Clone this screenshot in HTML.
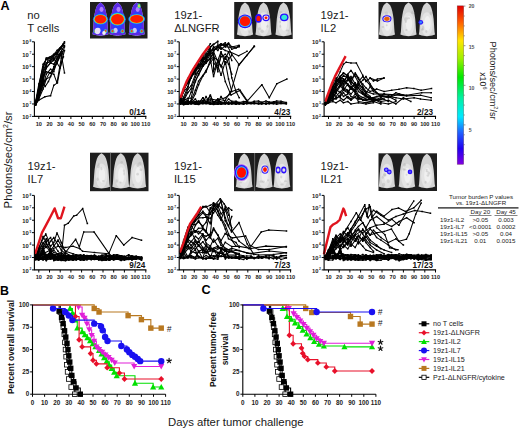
<!DOCTYPE html>
<html><head><meta charset="utf-8"><style>
html,body{margin:0;padding:0;background:#fff;}
svg{display:block;}
text{font-family:"Liberation Sans", sans-serif;}
.tl{font-size:5.6px;font-weight:bold;fill:#222;}
.ts{font-size:3.3px;font-weight:bold;fill:#222;}
.ty{font-size:5.8px;font-weight:bold;fill:#222;}
.fr{font-size:8.2px;font-weight:bold;fill:#111;}
.ti{font-size:11.2px;fill:#1a1a1a;}
.sl{font-size:6.3px;font-weight:bold;fill:#222;}
.lg{font-size:7.15px;fill:#1a1a1a;}
.tb{font-size:6.2px;fill:#1a1a1a;}
</style></head><body>
<svg width="520" height="430" viewBox="0 0 520 430">
<defs><filter id="bl" x="-5%" y="-5%" width="110%" height="110%"><feGaussianBlur stdDeviation="0.45"/></filter></defs>
<rect width="520" height="430" fill="#fff"/>
<text x="0.5" y="9.6" style="font-size:12.6px;font-weight:bold;fill:#000">A</text>
<text x="0.0" y="294.8" style="font-size:12.4px;font-weight:bold;fill:#000">B</text>
<text x="201.4" y="294.2" style="font-size:12.6px;font-weight:bold;fill:#000">C</text>
<text x="27.2" y="18.5" class="ti">no</text><text x="27.2" y="31.5" class="ti">T cells</text>
<text x="174.3" y="18.5" class="ti">19z1-</text><text x="174.3" y="31.5" class="ti">ΔLNGFR</text>
<text x="320.6" y="18.5" class="ti">19z1-</text><text x="320.6" y="31.5" class="ti">IL2</text>
<text x="27.6" y="169.8" class="ti">19z1-</text><text x="27.6" y="182.8" class="ti">IL7</text>
<text x="174.0" y="169.8" class="ti">19z1-</text><text x="174.0" y="182.8" class="ti">IL15</text>
<text x="320.6" y="169.8" class="ti">19z1-</text><text x="320.6" y="182.8" class="ti">IL21</text>
<rect x="90" y="2" width="57.5" height="36.5" fill="#1e1e1e"/>
<g filter="url(#bl)">
<path d="M100.5,2.5 L102.19,3.63 L103.7,5.33 L104.83,7.68 L105.77,10.97 L106.53,14.74 L107.09,18.51 L107.47,23.22 L107.75,27.93 L108.03,31.69 L108.5,34.14 L105.68,35.08 L102.38,35.55 L100.5,35.74 L98.62,35.55 L95.32,35.08 L92.5,34.14 L92.97,31.69 L93.25,27.93 L93.53,23.22 L93.91,18.51 L94.47,14.74 L95.23,10.97 L96.17,7.68 L97.3,5.33 L98.81,3.63 Z" fill="#d4d4d4"/>
<ellipse cx="100.5" cy="23.9" rx="5.8" ry="11.68" fill="#e4e4e4"/>
<ellipse cx="101" cy="23.17" rx="3.2" ry="7.3" fill="#f0f0f0"/>
<ellipse cx="103.18" cy="15.51" rx="1.55" ry="1.92" fill="#a8a8a8" opacity="0.35"/>
<ellipse cx="98.11" cy="24.42" rx="1.48" ry="1.36" fill="#a8a8a8" opacity="0.35"/>
<ellipse cx="97.86" cy="16.7" rx="1.55" ry="1.75" fill="#a8a8a8" opacity="0.35"/>
<ellipse cx="100.14" cy="13.05" rx="1.61" ry="1.73" fill="#a8a8a8" opacity="0.35"/>
<ellipse cx="98.1" cy="23.82" rx="1.7" ry="1.86" fill="#a8a8a8" opacity="0.35"/>
<path d="M100.5,2.5 L102.19,3.63 L103.7,5.33 L104.83,7.68 L105.77,10.97 L106.53,14.74 L107.09,18.51 L107.47,23.22 L107.75,27.93 L108.03,31.69 L108.5,34.14 L105.68,35.08 L102.38,35.55 L100.5,35.74 L98.62,35.55 L95.32,35.08 L92.5,34.14 L92.97,31.69 L93.25,27.93 L93.53,23.22 L93.91,18.51 L94.47,14.74 L95.23,10.97 L96.17,7.68 L97.3,5.33 L98.81,3.63 Z" fill="#5a2ae6"/><ellipse cx="100.5" cy="22.08" rx="5.2" ry="11" fill="#2a3cff"/><ellipse cx="98.5" cy="30.47" rx="2.2" ry="2.6" fill="#d0c4f4"/><ellipse cx="101.5" cy="9.3" rx="2" ry="2.6" fill="#b080ff"/><ellipse cx="100.5" cy="19.3" rx="7.54" ry="5.46" fill="#2860ff"/><ellipse cx="100.5" cy="19.3" rx="6.79" ry="4.91" fill="#20d8f0"/><ellipse cx="100.5" cy="19.3" rx="6.21" ry="4.49" fill="#c8f000"/><ellipse cx="100.5" cy="19.3" rx="5.8" ry="4.2" fill="#ff1a00"/><ellipse cx="95.5" cy="31.2" rx="1.9" ry="2" fill="#30e0b0"/><ellipse cx="95.5" cy="31.2" rx="1.04" ry="1.1" fill="#ff3010"/><ellipse cx="105.5" cy="31.2" rx="1.9" ry="2" fill="#30e0b0"/><ellipse cx="105.5" cy="31.2" rx="1.04" ry="1.1" fill="#ff3010"/>
<path d="M117.5,2.5 L119.19,3.63 L120.7,5.33 L121.83,7.68 L122.77,10.97 L123.53,14.74 L124.09,18.51 L124.47,23.22 L124.75,27.93 L125.03,31.69 L125.5,34.14 L122.68,35.08 L119.38,35.55 L117.5,35.74 L115.62,35.55 L112.32,35.08 L109.5,34.14 L109.97,31.69 L110.25,27.93 L110.53,23.22 L110.91,18.51 L111.47,14.74 L112.23,10.97 L113.17,7.68 L114.3,5.33 L115.81,3.63 Z" fill="#d4d4d4"/>
<ellipse cx="117.5" cy="23.9" rx="5.8" ry="11.68" fill="#e4e4e4"/>
<ellipse cx="118" cy="23.17" rx="3.2" ry="7.3" fill="#f0f0f0"/>
<ellipse cx="117.7" cy="21.56" rx="1.39" ry="1.03" fill="#a8a8a8" opacity="0.35"/>
<ellipse cx="114.73" cy="15.08" rx="1.5" ry="1.24" fill="#a8a8a8" opacity="0.35"/>
<ellipse cx="118.08" cy="19.94" rx="1.32" ry="0.98" fill="#a8a8a8" opacity="0.35"/>
<ellipse cx="113.4" cy="32.96" rx="1.17" ry="0.93" fill="#a8a8a8" opacity="0.35"/>
<ellipse cx="118.69" cy="28.37" rx="0.96" ry="1.52" fill="#a8a8a8" opacity="0.35"/>
<path d="M117.5,2.5 L119.19,3.63 L120.7,5.33 L121.83,7.68 L122.77,10.97 L123.53,14.74 L124.09,18.51 L124.47,23.22 L124.75,27.93 L125.03,31.69 L125.5,34.14 L122.68,35.08 L119.38,35.55 L117.5,35.74 L115.62,35.55 L112.32,35.08 L109.5,34.14 L109.97,31.69 L110.25,27.93 L110.53,23.22 L110.91,18.51 L111.47,14.74 L112.23,10.97 L113.17,7.68 L114.3,5.33 L115.81,3.63 Z" fill="#5a2ae6"/><ellipse cx="117.5" cy="22.08" rx="5.2" ry="11" fill="#2a3cff"/><ellipse cx="115.5" cy="30.47" rx="2.2" ry="2.6" fill="#d0c4f4"/><ellipse cx="118.5" cy="9.3" rx="2" ry="2.6" fill="#b080ff"/><ellipse cx="117.5" cy="19.2" rx="8.32" ry="6.89" fill="#2860ff"/><ellipse cx="117.5" cy="19.2" rx="7.49" ry="6.2" fill="#20d8f0"/><ellipse cx="117.5" cy="19.2" rx="6.85" ry="5.67" fill="#c8f000"/><ellipse cx="117.5" cy="19.2" rx="6.4" ry="5.3" fill="#ff1a00"/><ellipse cx="112.5" cy="31.2" rx="1.9" ry="2" fill="#30e0b0"/><ellipse cx="112.5" cy="31.2" rx="1.04" ry="1.1" fill="#ff3010"/><ellipse cx="122.5" cy="31.2" rx="1.9" ry="2" fill="#30e0b0"/><ellipse cx="122.5" cy="31.2" rx="1.04" ry="1.1" fill="#ff3010"/>
<path d="M136.7,2.5 L138.39,3.63 L139.9,5.33 L141.03,7.68 L141.97,10.97 L142.73,14.74 L143.29,18.51 L143.67,23.22 L143.95,27.93 L144.23,31.69 L144.7,34.14 L141.88,35.08 L138.58,35.55 L136.7,35.74 L134.82,35.55 L131.52,35.08 L128.7,34.14 L129.17,31.69 L129.45,27.93 L129.73,23.22 L130.11,18.51 L130.67,14.74 L131.43,10.97 L132.37,7.68 L133.5,5.33 L135,3.63 Z" fill="#d4d4d4"/>
<ellipse cx="136.7" cy="23.9" rx="5.8" ry="11.68" fill="#e4e4e4"/>
<ellipse cx="137.2" cy="23.17" rx="3.2" ry="7.3" fill="#f0f0f0"/>
<ellipse cx="135.3" cy="22.5" rx="0.82" ry="0.84" fill="#a8a8a8" opacity="0.35"/>
<ellipse cx="141.11" cy="30.09" rx="1.29" ry="1.48" fill="#a8a8a8" opacity="0.35"/>
<ellipse cx="134.55" cy="28.19" rx="1.23" ry="1.94" fill="#a8a8a8" opacity="0.35"/>
<ellipse cx="139.11" cy="29.06" rx="1.76" ry="1.1" fill="#a8a8a8" opacity="0.35"/>
<ellipse cx="132.54" cy="15.53" rx="0.98" ry="0.9" fill="#a8a8a8" opacity="0.35"/>
<path d="M136.7,2.5 L138.39,3.63 L139.9,5.33 L141.03,7.68 L141.97,10.97 L142.73,14.74 L143.29,18.51 L143.67,23.22 L143.95,27.93 L144.23,31.69 L144.7,34.14 L141.88,35.08 L138.58,35.55 L136.7,35.74 L134.82,35.55 L131.52,35.08 L128.7,34.14 L129.17,31.69 L129.45,27.93 L129.73,23.22 L130.11,18.51 L130.67,14.74 L131.43,10.97 L132.37,7.68 L133.5,5.33 L135,3.63 Z" fill="#5a2ae6"/><ellipse cx="136.7" cy="22.08" rx="5.2" ry="11" fill="#2a3cff"/><ellipse cx="134.7" cy="30.47" rx="2.2" ry="2.6" fill="#d0c4f4"/><ellipse cx="137.7" cy="9.3" rx="2" ry="2.6" fill="#b080ff"/><ellipse cx="136.7" cy="19" rx="8.45" ry="5.07" fill="#2860ff"/><ellipse cx="136.7" cy="19" rx="7.6" ry="4.56" fill="#20d8f0"/><ellipse cx="136.7" cy="19" rx="6.96" ry="4.17" fill="#c8f000"/><ellipse cx="136.7" cy="19" rx="6.5" ry="3.9" fill="#ff1a00"/><ellipse cx="131.7" cy="31.2" rx="1.9" ry="2" fill="#30e0b0"/><ellipse cx="131.7" cy="31.2" rx="1.04" ry="1.1" fill="#ff3010"/><ellipse cx="141.7" cy="31.2" rx="1.9" ry="2" fill="#30e0b0"/><ellipse cx="141.7" cy="31.2" rx="1.04" ry="1.1" fill="#ff3010"/>
</g>
<rect x="234.2" y="2" width="58.5" height="37" fill="#1e1e1e"/>
<g filter="url(#bl)">
<path d="M245,2.5 L246.72,3.65 L248.25,5.37 L249.4,7.76 L250.35,11.1 L251.12,14.92 L251.69,18.74 L252.07,23.52 L252.36,28.3 L252.64,32.12 L253.12,34.61 L250.26,35.56 L246.91,36.04 L245,36.23 L243.09,36.04 L239.74,35.56 L236.88,34.61 L237.36,32.12 L237.64,28.3 L237.93,23.52 L238.31,18.74 L238.88,14.92 L239.65,11.1 L240.6,7.76 L241.75,5.37 L243.28,3.65 Z" fill="#d4d4d4"/>
<ellipse cx="245" cy="24.2" rx="5.8" ry="11.84" fill="#e4e4e4"/>
<ellipse cx="245.5" cy="23.46" rx="3.2" ry="7.4" fill="#f0f0f0"/>
<ellipse cx="240.96" cy="23.62" rx="1.67" ry="1.35" fill="#a8a8a8" opacity="0.35"/>
<ellipse cx="249.02" cy="31.45" rx="0.86" ry="1.52" fill="#a8a8a8" opacity="0.35"/>
<ellipse cx="244.08" cy="13.91" rx="1.76" ry="1.11" fill="#a8a8a8" opacity="0.35"/>
<ellipse cx="245.58" cy="25.47" rx="1.76" ry="1.6" fill="#a8a8a8" opacity="0.35"/>
<ellipse cx="244.04" cy="21.2" rx="0.96" ry="1.96" fill="#a8a8a8" opacity="0.35"/>
<ellipse cx="245" cy="21.3" rx="7.2" ry="6.9" fill="#2a10ff"/><ellipse cx="245" cy="21.3" rx="6.05" ry="5.8" fill="#30c0ff"/><ellipse cx="245" cy="21.3" rx="5.18" ry="4.97" fill="#ff1400"/>
<path d="M263.5,2.5 L265.22,3.65 L266.75,5.37 L267.9,7.76 L268.85,11.1 L269.62,14.92 L270.19,18.74 L270.57,23.52 L270.86,28.3 L271.14,32.12 L271.62,34.61 L268.76,35.56 L265.41,36.04 L263.5,36.23 L261.59,36.04 L258.24,35.56 L255.38,34.61 L255.86,32.12 L256.14,28.3 L256.43,23.52 L256.81,18.74 L257.38,14.92 L258.15,11.1 L259.1,7.76 L260.25,5.37 L261.78,3.65 Z" fill="#d4d4d4"/>
<ellipse cx="263.5" cy="24.2" rx="5.8" ry="11.84" fill="#e4e4e4"/>
<ellipse cx="264" cy="23.46" rx="3.2" ry="7.4" fill="#f0f0f0"/>
<ellipse cx="267.93" cy="16.17" rx="0.84" ry="1.11" fill="#a8a8a8" opacity="0.35"/>
<ellipse cx="262.17" cy="31.29" rx="1.7" ry="1.8" fill="#a8a8a8" opacity="0.35"/>
<ellipse cx="259.42" cy="28.71" rx="1.51" ry="1.58" fill="#a8a8a8" opacity="0.35"/>
<ellipse cx="267.87" cy="12.49" rx="0.94" ry="1.71" fill="#a8a8a8" opacity="0.35"/>
<ellipse cx="267.45" cy="26.28" rx="1.1" ry="1.51" fill="#a8a8a8" opacity="0.35"/>
<ellipse cx="258.5" cy="18.4" rx="3.4" ry="4.3" fill="#2a10ff"/><ellipse cx="258.5" cy="18.4" rx="2.11" ry="2.67" fill="#ff1800"/><ellipse cx="266" cy="17.8" rx="3.7" ry="3.4" fill="#2a10ff"/><ellipse cx="266" cy="17.8" rx="2.52" ry="2.31" fill="#f0f0f0"/><ellipse cx="266" cy="17.8" rx="1.48" ry="1.36" fill="#ff1800"/>
<path d="M283.5,2.5 L285.22,3.65 L286.75,5.37 L287.9,7.76 L288.85,11.1 L289.62,14.92 L290.19,18.74 L290.57,23.52 L290.86,28.3 L291.14,32.12 L291.62,34.61 L288.76,35.56 L285.41,36.04 L283.5,36.23 L281.59,36.04 L278.24,35.56 L275.38,34.61 L275.86,32.12 L276.14,28.3 L276.43,23.52 L276.81,18.74 L277.38,14.92 L278.15,11.1 L279.1,7.76 L280.25,5.37 L281.78,3.65 Z" fill="#d4d4d4"/>
<ellipse cx="283.5" cy="24.2" rx="5.8" ry="11.84" fill="#e4e4e4"/>
<ellipse cx="284" cy="23.46" rx="3.2" ry="7.4" fill="#f0f0f0"/>
<ellipse cx="285.82" cy="13.59" rx="1.12" ry="1.11" fill="#a8a8a8" opacity="0.35"/>
<ellipse cx="280.12" cy="21.94" rx="0.97" ry="1.09" fill="#a8a8a8" opacity="0.35"/>
<ellipse cx="280.29" cy="26.29" rx="0.81" ry="1.66" fill="#a8a8a8" opacity="0.35"/>
<ellipse cx="280.76" cy="12.05" rx="1.73" ry="1.06" fill="#a8a8a8" opacity="0.35"/>
<ellipse cx="287.41" cy="30.49" rx="1.69" ry="0.97" fill="#a8a8a8" opacity="0.35"/>
<ellipse cx="284.2" cy="17.3" rx="4.3" ry="3.9" fill="#2a10ff"/><ellipse cx="284.2" cy="17.3" rx="2.92" ry="2.65" fill="#30e8d8"/>
</g>
<rect x="378.5" y="2" width="58.5" height="37" fill="#1e1e1e"/>
<g filter="url(#bl)">
<path d="M386.9,2.5 L388.62,3.65 L390.15,5.37 L391.3,7.76 L392.25,11.1 L393.02,14.92 L393.59,18.74 L393.97,23.52 L394.26,28.3 L394.54,32.12 L395.02,34.61 L392.16,35.56 L388.81,36.04 L386.9,36.23 L384.99,36.04 L381.64,35.56 L378.78,34.61 L379.26,32.12 L379.54,28.3 L379.83,23.52 L380.21,18.74 L380.78,14.92 L381.55,11.1 L382.5,7.76 L383.65,5.37 L385.18,3.65 Z" fill="#d4d4d4"/>
<ellipse cx="386.9" cy="24.2" rx="5.8" ry="11.84" fill="#e4e4e4"/>
<ellipse cx="387.4" cy="23.46" rx="3.2" ry="7.4" fill="#f0f0f0"/>
<ellipse cx="386.43" cy="13.4" rx="1.73" ry="1.81" fill="#a8a8a8" opacity="0.35"/>
<ellipse cx="388.06" cy="21.29" rx="1.14" ry="1.79" fill="#a8a8a8" opacity="0.35"/>
<ellipse cx="386.7" cy="25.2" rx="0.94" ry="1.07" fill="#a8a8a8" opacity="0.35"/>
<ellipse cx="382.91" cy="27.09" rx="1.35" ry="0.97" fill="#a8a8a8" opacity="0.35"/>
<ellipse cx="390.24" cy="17.16" rx="1.21" ry="0.99" fill="#a8a8a8" opacity="0.35"/>
<ellipse cx="386.9" cy="18.8" rx="4.6" ry="3.5" fill="#2a10ff"/><ellipse cx="386.9" cy="18.8" rx="3.45" ry="2.62" fill="#f0f0f0"/><ellipse cx="386.9" cy="18.8" rx="2.76" ry="2.1" fill="#e86010"/>
<path d="M408.5,2.5 L410.22,3.65 L411.75,5.37 L412.9,7.76 L413.85,11.1 L414.62,14.92 L415.19,18.74 L415.57,23.52 L415.86,28.3 L416.14,32.12 L416.62,34.61 L413.76,35.56 L410.41,36.04 L408.5,36.23 L406.59,36.04 L403.24,35.56 L400.38,34.61 L400.86,32.12 L401.14,28.3 L401.43,23.52 L401.81,18.74 L402.38,14.92 L403.15,11.1 L404.1,7.76 L405.25,5.37 L406.78,3.65 Z" fill="#d4d4d4"/>
<ellipse cx="408.5" cy="24.2" rx="5.8" ry="11.84" fill="#e4e4e4"/>
<ellipse cx="409" cy="23.46" rx="3.2" ry="7.4" fill="#f0f0f0"/>
<ellipse cx="406.44" cy="29.89" rx="1.13" ry="1" fill="#a8a8a8" opacity="0.35"/>
<ellipse cx="408.42" cy="18.31" rx="1.7" ry="0.94" fill="#a8a8a8" opacity="0.35"/>
<ellipse cx="412.81" cy="12.51" rx="1.7" ry="1.6" fill="#a8a8a8" opacity="0.35"/>
<ellipse cx="405.9" cy="21.85" rx="1.09" ry="1.11" fill="#a8a8a8" opacity="0.35"/>
<ellipse cx="405.81" cy="19.34" rx="1.79" ry="2" fill="#a8a8a8" opacity="0.35"/>
<path d="M426.9,2.5 L428.62,3.65 L430.15,5.37 L431.3,7.76 L432.25,11.1 L433.02,14.92 L433.59,18.74 L433.97,23.52 L434.26,28.3 L434.54,32.12 L435.02,34.61 L432.16,35.56 L428.81,36.04 L426.9,36.23 L424.99,36.04 L421.64,35.56 L418.78,34.61 L419.26,32.12 L419.54,28.3 L419.83,23.52 L420.21,18.74 L420.78,14.92 L421.55,11.1 L422.5,7.76 L423.65,5.37 L425.18,3.65 Z" fill="#d4d4d4"/>
<ellipse cx="426.9" cy="24.2" rx="5.8" ry="11.84" fill="#e4e4e4"/>
<ellipse cx="427.4" cy="23.46" rx="3.2" ry="7.4" fill="#f0f0f0"/>
<ellipse cx="430.73" cy="13.42" rx="1.09" ry="1.88" fill="#a8a8a8" opacity="0.35"/>
<ellipse cx="422.92" cy="27.38" rx="1.09" ry="1.97" fill="#a8a8a8" opacity="0.35"/>
<ellipse cx="422.54" cy="29.17" rx="1.14" ry="0.97" fill="#a8a8a8" opacity="0.35"/>
<ellipse cx="422.42" cy="29.73" rx="1.33" ry="1.02" fill="#a8a8a8" opacity="0.35"/>
<ellipse cx="426.32" cy="31.5" rx="1.02" ry="1.49" fill="#a8a8a8" opacity="0.35"/>
<ellipse cx="420.8" cy="22.3" rx="2.3" ry="2.4" fill="#2a10ff"/><ellipse cx="420.8" cy="22.3" rx="1.15" ry="1.2" fill="#3090ff"/>
</g>
<rect x="90" y="152.7" width="58.5" height="38.5" fill="#1e1e1e"/>
<g filter="url(#bl)">
<path d="M101.5,153.2 L103.3,154.4 L104.89,156.19 L106.09,158.68 L107.08,162.17 L107.88,166.16 L108.48,170.15 L108.88,175.14 L109.18,180.12 L109.48,184.11 L109.98,186.71 L106.98,187.7 L103.49,188.2 L101.5,188.4 L99.51,188.2 L96.02,187.7 L93.02,186.71 L93.52,184.11 L93.82,180.12 L94.12,175.14 L94.52,170.15 L95.12,166.16 L95.92,162.17 L96.91,158.68 L98.11,156.19 L99.7,154.4 Z" fill="#d4d4d4"/>
<ellipse cx="101.5" cy="175.8" rx="5.8" ry="12.32" fill="#e4e4e4"/>
<ellipse cx="102" cy="175.03" rx="3.2" ry="7.7" fill="#f0f0f0"/>
<ellipse cx="98.24" cy="166.49" rx="1.57" ry="1.65" fill="#a8a8a8" opacity="0.35"/>
<ellipse cx="98.77" cy="164.16" rx="0.89" ry="1.53" fill="#a8a8a8" opacity="0.35"/>
<ellipse cx="101.46" cy="168.65" rx="1.01" ry="1.53" fill="#a8a8a8" opacity="0.35"/>
<ellipse cx="103.37" cy="181.07" rx="1.38" ry="1.04" fill="#a8a8a8" opacity="0.35"/>
<ellipse cx="97.59" cy="179.25" rx="1.21" ry="1.67" fill="#a8a8a8" opacity="0.35"/>
<path d="M120.8,153.2 L122.59,154.4 L124.19,156.19 L125.39,158.68 L126.38,162.17 L127.18,166.16 L127.78,170.15 L128.18,175.14 L128.48,180.12 L128.78,184.11 L129.28,186.71 L126.28,187.7 L122.79,188.2 L120.8,188.4 L118.81,188.2 L115.32,187.7 L112.32,186.71 L112.82,184.11 L113.12,180.12 L113.42,175.14 L113.82,170.15 L114.42,166.16 L115.22,162.17 L116.21,158.68 L117.41,156.19 L119,154.4 Z" fill="#d4d4d4"/>
<ellipse cx="120.8" cy="175.8" rx="5.8" ry="12.32" fill="#e4e4e4"/>
<ellipse cx="121.3" cy="175.03" rx="3.2" ry="7.7" fill="#f0f0f0"/>
<ellipse cx="116.8" cy="181.05" rx="1.14" ry="1.81" fill="#a8a8a8" opacity="0.35"/>
<ellipse cx="124.08" cy="173.71" rx="0.82" ry="1.89" fill="#a8a8a8" opacity="0.35"/>
<ellipse cx="120.59" cy="182.47" rx="1.07" ry="1.02" fill="#a8a8a8" opacity="0.35"/>
<ellipse cx="123.78" cy="170.81" rx="0.96" ry="1.25" fill="#a8a8a8" opacity="0.35"/>
<ellipse cx="121.65" cy="162.43" rx="1.32" ry="1.33" fill="#a8a8a8" opacity="0.35"/>
<path d="M137.7,153.2 L139.49,154.4 L141.09,156.19 L142.29,158.68 L143.28,162.17 L144.08,166.16 L144.68,170.15 L145.08,175.14 L145.38,180.12 L145.68,184.11 L146.18,186.71 L143.18,187.7 L139.69,188.2 L137.7,188.4 L135.71,188.2 L132.22,187.7 L129.22,186.71 L129.72,184.11 L130.02,180.12 L130.32,175.14 L130.72,170.15 L131.32,166.16 L132.12,162.17 L133.11,158.68 L134.31,156.19 L135.91,154.4 Z" fill="#d4d4d4"/>
<ellipse cx="137.7" cy="175.8" rx="5.8" ry="12.32" fill="#e4e4e4"/>
<ellipse cx="138.2" cy="175.03" rx="3.2" ry="7.7" fill="#f0f0f0"/>
<ellipse cx="137.84" cy="165.11" rx="1.51" ry="1.78" fill="#a8a8a8" opacity="0.35"/>
<ellipse cx="140.99" cy="169.74" rx="1.51" ry="1.26" fill="#a8a8a8" opacity="0.35"/>
<ellipse cx="139.96" cy="163.74" rx="1.67" ry="1.94" fill="#a8a8a8" opacity="0.35"/>
<ellipse cx="137.65" cy="174.18" rx="1.33" ry="1.44" fill="#a8a8a8" opacity="0.35"/>
<ellipse cx="133.39" cy="184.67" rx="1.02" ry="1.02" fill="#a8a8a8" opacity="0.35"/>
</g>
<rect x="234" y="153" width="58.7" height="38.2" fill="#1e1e1e"/>
<g filter="url(#bl)">
<path d="M244.2,153.5 L245.98,154.69 L247.56,156.47 L248.75,158.94 L249.74,162.4 L250.53,166.36 L251.12,170.31 L251.52,175.26 L251.81,180.2 L252.11,184.16 L252.61,186.73 L249.64,187.72 L246.18,188.21 L244.2,188.41 L242.22,188.21 L238.76,187.72 L235.79,186.73 L236.29,184.16 L236.59,180.2 L236.88,175.26 L237.28,170.31 L237.87,166.36 L238.66,162.4 L239.65,158.94 L240.84,156.47 L242.42,154.69 Z" fill="#d4d4d4"/>
<ellipse cx="244.2" cy="175.92" rx="5.8" ry="12.22" fill="#e4e4e4"/>
<ellipse cx="244.7" cy="175.16" rx="3.2" ry="7.64" fill="#f0f0f0"/>
<ellipse cx="240.62" cy="168.29" rx="1.62" ry="0.84" fill="#a8a8a8" opacity="0.35"/>
<ellipse cx="240.57" cy="178.57" rx="1" ry="0.82" fill="#a8a8a8" opacity="0.35"/>
<ellipse cx="245.09" cy="175.76" rx="1.32" ry="1.64" fill="#a8a8a8" opacity="0.35"/>
<ellipse cx="240.63" cy="182.48" rx="1.52" ry="0.85" fill="#a8a8a8" opacity="0.35"/>
<ellipse cx="240.81" cy="173.86" rx="1.3" ry="1.14" fill="#a8a8a8" opacity="0.35"/>
<ellipse cx="241.5" cy="172.5" rx="7.6" ry="8.6" fill="#b070f0"/><ellipse cx="241.5" cy="172.5" rx="6.69" ry="7.57" fill="#2a10ff"/><ellipse cx="241.5" cy="172.5" rx="5.47" ry="6.19" fill="#30c0ff"/><ellipse cx="241.5" cy="172.5" rx="4.56" ry="5.16" fill="#ff1000"/>
<path d="M264.2,153.5 L265.98,154.69 L267.56,156.47 L268.75,158.94 L269.74,162.4 L270.53,166.36 L271.12,170.31 L271.52,175.26 L271.81,180.2 L272.11,184.16 L272.61,186.73 L269.64,187.72 L266.18,188.21 L264.2,188.41 L262.22,188.21 L258.76,187.72 L255.79,186.73 L256.29,184.16 L256.59,180.2 L256.88,175.26 L257.28,170.31 L257.87,166.36 L258.66,162.4 L259.65,158.94 L260.84,156.47 L262.42,154.69 Z" fill="#d4d4d4"/>
<ellipse cx="264.2" cy="175.92" rx="5.8" ry="12.22" fill="#e4e4e4"/>
<ellipse cx="264.7" cy="175.16" rx="3.2" ry="7.64" fill="#f0f0f0"/>
<ellipse cx="260.8" cy="171.85" rx="0.94" ry="1.51" fill="#a8a8a8" opacity="0.35"/>
<ellipse cx="267.45" cy="165.92" rx="1.37" ry="1.7" fill="#a8a8a8" opacity="0.35"/>
<ellipse cx="261.18" cy="181.48" rx="1.74" ry="1.27" fill="#a8a8a8" opacity="0.35"/>
<ellipse cx="263.48" cy="181.8" rx="1.33" ry="1.27" fill="#a8a8a8" opacity="0.35"/>
<ellipse cx="268.17" cy="180.36" rx="1.14" ry="1.09" fill="#a8a8a8" opacity="0.35"/>
<ellipse cx="265" cy="169.6" rx="3.6" ry="4.2" fill="#2a10ff"/><ellipse cx="265" cy="169.6" rx="2.7" ry="3.15" fill="#f0f0f0"/><ellipse cx="265" cy="169.6" rx="1.98" ry="2.31" fill="#ff1800"/>
<path d="M281.9,153.5 L283.68,154.69 L285.26,156.47 L286.45,158.94 L287.44,162.4 L288.23,166.36 L288.82,170.31 L289.22,175.26 L289.51,180.2 L289.81,184.16 L290.31,186.73 L287.34,187.72 L283.88,188.21 L281.9,188.41 L279.92,188.21 L276.46,187.72 L273.49,186.73 L273.99,184.16 L274.29,180.2 L274.58,175.26 L274.98,170.31 L275.57,166.36 L276.36,162.4 L277.35,158.94 L278.54,156.47 L280.12,154.69 Z" fill="#d4d4d4"/>
<ellipse cx="281.9" cy="175.92" rx="5.8" ry="12.22" fill="#e4e4e4"/>
<ellipse cx="282.4" cy="175.16" rx="3.2" ry="7.64" fill="#f0f0f0"/>
<ellipse cx="280.42" cy="172.53" rx="1.78" ry="1.77" fill="#a8a8a8" opacity="0.35"/>
<ellipse cx="285.61" cy="181.23" rx="1.65" ry="0.86" fill="#a8a8a8" opacity="0.35"/>
<ellipse cx="282.06" cy="184.5" rx="1.73" ry="1.1" fill="#a8a8a8" opacity="0.35"/>
<ellipse cx="281.2" cy="177.05" rx="1.16" ry="1.44" fill="#a8a8a8" opacity="0.35"/>
<ellipse cx="278.02" cy="172.48" rx="1.3" ry="0.82" fill="#a8a8a8" opacity="0.35"/>
<ellipse cx="278.1" cy="170" rx="2.5" ry="3.4" fill="#2a10ff"/><ellipse cx="278.1" cy="170" rx="1.38" ry="1.87" fill="#e0e0e0"/><ellipse cx="283.8" cy="170" rx="2.7" ry="3.4" fill="#2a10ff"/><ellipse cx="283.8" cy="170" rx="1.49" ry="1.87" fill="#e0e0e0"/>
</g>
<rect x="378.5" y="153.3" width="58.5" height="37.7" fill="#1e1e1e"/>
<g filter="url(#bl)">
<path d="M386.9,153.8 L388.65,154.97 L390.21,156.73 L391.38,159.16 L392.36,162.58 L393.14,166.48 L393.72,170.38 L394.11,175.25 L394.41,180.12 L394.7,184.03 L395.19,186.56 L392.26,187.54 L388.85,188.02 L386.9,188.22 L384.95,188.02 L381.54,187.54 L378.61,186.56 L379.1,184.03 L379.39,180.12 L379.69,175.25 L380.07,170.38 L380.66,166.48 L381.44,162.58 L382.41,159.16 L383.58,156.73 L385.14,154.97 Z" fill="#d4d4d4"/>
<ellipse cx="386.9" cy="175.92" rx="5.8" ry="12.06" fill="#e4e4e4"/>
<ellipse cx="387.4" cy="175.17" rx="3.2" ry="7.54" fill="#f0f0f0"/>
<ellipse cx="383.65" cy="184.66" rx="1.58" ry="1.92" fill="#a8a8a8" opacity="0.35"/>
<ellipse cx="388.1" cy="181.03" rx="1.68" ry="1.86" fill="#a8a8a8" opacity="0.35"/>
<ellipse cx="382.71" cy="177.24" rx="1.07" ry="1.61" fill="#a8a8a8" opacity="0.35"/>
<ellipse cx="384.86" cy="174.99" rx="1.72" ry="1.55" fill="#a8a8a8" opacity="0.35"/>
<ellipse cx="384.66" cy="174.49" rx="1.23" ry="1.94" fill="#a8a8a8" opacity="0.35"/>
<ellipse cx="386.3" cy="169.8" rx="2.4" ry="2.4" fill="#2a10ff"/><ellipse cx="386.3" cy="169.8" rx="1.2" ry="1.2" fill="#8080ff"/><ellipse cx="389.3" cy="172" rx="2.4" ry="2.4" fill="#2a10ff"/><ellipse cx="389.3" cy="172" rx="1.2" ry="1.2" fill="#8080ff"/>
<path d="M406.9,153.8 L408.65,154.97 L410.21,156.73 L411.38,159.16 L412.36,162.58 L413.14,166.48 L413.72,170.38 L414.11,175.25 L414.41,180.12 L414.7,184.03 L415.19,186.56 L412.26,187.54 L408.85,188.02 L406.9,188.22 L404.95,188.02 L401.54,187.54 L398.61,186.56 L399.1,184.03 L399.39,180.12 L399.69,175.25 L400.07,170.38 L400.66,166.48 L401.44,162.58 L402.41,159.16 L403.58,156.73 L405.14,154.97 Z" fill="#d4d4d4"/>
<ellipse cx="406.9" cy="175.92" rx="5.8" ry="12.06" fill="#e4e4e4"/>
<ellipse cx="407.4" cy="175.17" rx="3.2" ry="7.54" fill="#f0f0f0"/>
<ellipse cx="404.99" cy="169.63" rx="1.45" ry="0.94" fill="#a8a8a8" opacity="0.35"/>
<ellipse cx="407.75" cy="184.35" rx="1.31" ry="1.12" fill="#a8a8a8" opacity="0.35"/>
<ellipse cx="406.6" cy="174.8" rx="0.95" ry="0.95" fill="#a8a8a8" opacity="0.35"/>
<ellipse cx="403.58" cy="169.37" rx="1.21" ry="1.15" fill="#a8a8a8" opacity="0.35"/>
<ellipse cx="404.59" cy="164.71" rx="1.35" ry="1.81" fill="#a8a8a8" opacity="0.35"/>
<ellipse cx="410" cy="171.9" rx="2.3" ry="2.4" fill="#2a10ff"/><ellipse cx="410" cy="171.9" rx="1.03" ry="1.08" fill="#5050ff"/>
<path d="M426.9,153.8 L428.65,154.97 L430.21,156.73 L431.38,159.16 L432.36,162.58 L433.14,166.48 L433.72,170.38 L434.11,175.25 L434.41,180.12 L434.7,184.03 L435.19,186.56 L432.26,187.54 L428.85,188.02 L426.9,188.22 L424.95,188.02 L421.54,187.54 L418.61,186.56 L419.1,184.03 L419.39,180.12 L419.69,175.25 L420.07,170.38 L420.66,166.48 L421.44,162.58 L422.41,159.16 L423.58,156.73 L425.14,154.97 Z" fill="#d4d4d4"/>
<ellipse cx="426.9" cy="175.92" rx="5.8" ry="12.06" fill="#e4e4e4"/>
<ellipse cx="427.4" cy="175.17" rx="3.2" ry="7.54" fill="#f0f0f0"/>
<ellipse cx="427.89" cy="175.62" rx="1.45" ry="1.04" fill="#a8a8a8" opacity="0.35"/>
<ellipse cx="428.79" cy="173.15" rx="1.35" ry="1.54" fill="#a8a8a8" opacity="0.35"/>
<ellipse cx="426.62" cy="169.75" rx="1.04" ry="1.07" fill="#a8a8a8" opacity="0.35"/>
<ellipse cx="427.01" cy="171.39" rx="1.39" ry="0.81" fill="#a8a8a8" opacity="0.35"/>
<ellipse cx="425.57" cy="182.22" rx="1.04" ry="1.47" fill="#a8a8a8" opacity="0.35"/>
</g>
<g filter="url(#bl)"><ellipse cx="97.5" cy="31" rx="2.6" ry="3.2" fill="#e8e0f8"/><ellipse cx="139" cy="6" rx="1.6" ry="2.4" fill="#40e090"/><ellipse cx="139" cy="6" rx="0.8" ry="1.2" fill="#e8e040"/><ellipse cx="104" cy="33" rx="1.8" ry="2" fill="#f0f0f0"/></g>
<rect x="110" y="152.7" width="0.8" height="38.5" fill="#777"/>
<rect x="254.3" y="153" width="0.8" height="38.2" fill="#777"/>
<polyline points="35.59,103.97 38.8,86.56 43.08,64.18 46.29,59.21 50.57,56.72 53.78,54.23 56.99,50.5 61.27,46.77 64.48,41.8" fill="none" stroke="#000" stroke-width="1.05" stroke-linejoin="round"/><path d="M34.84 103.97h1.5M38.05 86.56h1.5M42.33 64.18h1.5M45.54 59.21h1.5M49.82 56.72h1.5M53.03 54.23h1.5M56.24 50.5h1.5M60.52 46.77h1.5M63.73 41.8h1.5" stroke="#000" stroke-width="1.5"/>
<polyline points="35.59,102.72 38.8,89.05 43.08,69.15 46.29,57.96 49.5,57.34 52.71,56.72 56.99,52.99 60.2,48.02 64.48,43.04" fill="none" stroke="#000" stroke-width="1.05" stroke-linejoin="round"/><path d="M34.84 102.72h1.5M38.05 89.05h1.5M42.33 69.15h1.5M45.54 57.96h1.5M48.75 57.34h1.5M51.96 56.72h1.5M56.24 52.99h1.5M59.45 48.02h1.5M63.73 43.04h1.5" stroke="#000" stroke-width="1.5"/>
<polyline points="35.59,105.21 38.8,94.02 43.08,76.61 46.29,67.91 50.57,62.94 53.78,60.45 58.06,54.23 61.27,54.23 64.48,72.88" fill="none" stroke="#000" stroke-width="1.05" stroke-linejoin="round"/><path d="M34.84 105.21h1.5M38.05 94.02h1.5M42.33 76.61h1.5M45.54 67.91h1.5M49.82 62.94h1.5M53.03 60.45h1.5M57.31 54.23h1.5M60.52 54.23h1.5M63.73 72.88h1.5" stroke="#000" stroke-width="1.5"/>
<polyline points="35.59,103.97 38.8,96.51 43.08,84.07 46.29,79.1 49.5,72.88 53.78,74.13 56.99,82.83 61.27,57.96 64.48,46.77" fill="none" stroke="#000" stroke-width="1.05" stroke-linejoin="round"/><path d="M34.84 103.97h1.5M38.05 96.51h1.5M42.33 84.07h1.5M45.54 79.1h1.5M48.75 72.88h1.5M53.03 74.13h1.5M56.24 82.83h1.5M60.52 57.96h1.5M63.73 46.77h1.5" stroke="#000" stroke-width="1.5"/>
<polyline points="35.59,101.48 38.8,84.07 43.08,66.67 46.29,59.21 49.5,60.45 51.64,57.34 55.92,52.99 60.2,48.02 63.41,43.67" fill="none" stroke="#000" stroke-width="1.05" stroke-linejoin="round"/><path d="M34.84 101.48h1.5M38.05 84.07h1.5M42.33 66.67h1.5M45.54 59.21h1.5M48.75 60.45h1.5M50.89 57.34h1.5M55.17 52.99h1.5M59.45 48.02h1.5M62.66 43.67h1.5" stroke="#000" stroke-width="1.5"/>
<polyline points="35.59,103.97 38.8,100.24 44.9,96.76 50.57,95.64 53.78,85.32 57.42,82.83 61.27,62.94 64.48,50.5" fill="none" stroke="#000" stroke-width="1.05" stroke-linejoin="round"/><path d="M34.84 103.97h1.5M38.05 100.24h1.5M44.15 96.76h1.5M49.82 95.64h1.5M53.03 85.32h1.5M56.67 82.83h1.5M60.52 62.94h1.5M63.73 50.5h1.5" stroke="#000" stroke-width="1.5"/>
<polyline points="35.59,102.72 38.8,91.53 43.08,79.1 46.29,67.91 50.57,62.94 53.78,64.18 58.06,56.72 61.27,51.75" fill="none" stroke="#000" stroke-width="1.05" stroke-linejoin="round"/><path d="M34.84 102.72h1.5M38.05 91.53h1.5M42.33 79.1h1.5M45.54 67.91h1.5M49.82 62.94h1.5M53.03 64.18h1.5M57.31 56.72h1.5M60.52 51.75h1.5" stroke="#000" stroke-width="1.5"/>
<polyline points="35.59,104.59 38.8,97.75 43.08,85.32 46.29,74.13 50.57,69.15 53.78,71.64 56.99,61.69 60.2,55.48" fill="none" stroke="#000" stroke-width="1.05" stroke-linejoin="round"/><path d="M34.84 104.59h1.5M38.05 97.75h1.5M42.33 85.32h1.5M45.54 74.13h1.5M49.82 69.15h1.5M53.03 71.64h1.5M56.24 61.69h1.5M59.45 55.48h1.5" stroke="#000" stroke-width="1.5"/>
<polyline points="35.59,103.34 38.8,92.78 43.08,75.37 46.29,71.64 50.57,72.88 53.78,67.91 58.06,59.21 62.34,49.26" fill="none" stroke="#000" stroke-width="1.05" stroke-linejoin="round"/><path d="M34.84 103.34h1.5M38.05 92.78h1.5M42.33 75.37h1.5M45.54 71.64h1.5M49.82 72.88h1.5M53.03 67.91h1.5M57.31 59.21h1.5M61.59 49.26h1.5" stroke="#000" stroke-width="1.5"/>
<polyline points="35.59,103.97 38.8,95.26 43.08,81.59 46.29,66.67 48.43,57.96 51.64,59.21 55.92,54.23 59.13,50.5 63.41,45.53" fill="none" stroke="#000" stroke-width="1.05" stroke-linejoin="round"/><path d="M34.84 103.97h1.5M38.05 95.26h1.5M42.33 81.59h1.5M45.54 66.67h1.5M47.68 57.96h1.5M50.89 59.21h1.5M55.17 54.23h1.5M58.38 50.5h1.5M62.66 45.53h1.5" stroke="#000" stroke-width="1.5"/>
<polyline points="35.59,102.1 38.8,87.8 43.08,71.64 46.29,62.94 50.57,61.69 53.78,59.21 56.99,54.23 61.27,48.02" fill="none" stroke="#000" stroke-width="1.05" stroke-linejoin="round"/><path d="M34.84 102.1h1.5M38.05 87.8h1.5M42.33 71.64h1.5M45.54 62.94h1.5M49.82 61.69h1.5M53.03 59.21h1.5M56.24 54.23h1.5M60.52 48.02h1.5" stroke="#000" stroke-width="1.5"/>
<polyline points="35.59,105.21 38.8,98.99 43.08,89.05 46.29,79.1 50.57,76.61 53.78,66.67 56.99,57.96 60.2,52.99 64.48,45.53" fill="none" stroke="#000" stroke-width="1.05" stroke-linejoin="round"/><path d="M34.84 105.21h1.5M38.05 98.99h1.5M42.33 89.05h1.5M45.54 79.1h1.5M49.82 76.61h1.5M53.03 66.67h1.5M56.24 57.96h1.5M59.45 52.99h1.5M63.73 45.53h1.5" stroke="#000" stroke-width="1.5"/>
<polyline points="35.59,103.97 38.8,94.02 43.08,80.34 45.22,86.56 48.43,81.59 53.78,69.15 56.99,62.94 62.34,51.75" fill="none" stroke="#000" stroke-width="1.05" stroke-linejoin="round"/><path d="M34.84 103.97h1.5M38.05 94.02h1.5M42.33 80.34h1.5M44.47 86.56h1.5M47.68 81.59h1.5M53.03 69.15h1.5M56.24 62.94h1.5M61.59 51.75h1.5" stroke="#000" stroke-width="1.5"/>
<polyline points="35.59,102.72 38.8,91.53 43.08,74.13 46.29,64.18 50.57,60.45 53.78,57.96 56.99,62.94 60.2,67.91 63.41,56.72" fill="none" stroke="#000" stroke-width="1.05" stroke-linejoin="round"/><path d="M34.84 102.72h1.5M38.05 91.53h1.5M42.33 74.13h1.5M45.54 64.18h1.5M49.82 60.45h1.5M53.03 57.96h1.5M56.24 62.94h1.5M59.45 67.91h1.5M62.66 56.72h1.5" stroke="#000" stroke-width="1.5"/>
<path d="M34.4 41.8V116.4H146.4" fill="none" stroke="#000" stroke-width="1.1"/>
<path d="M32 116.4H34.4M32 103.97H34.4M32 91.53H34.4M32 79.1H34.4M32 66.67H34.4M32 54.23H34.4M32 41.8H34.4M38.8 116.4V119M49.5 116.4V119M60.2 116.4V119M70.9 116.4V119M81.6 116.4V119M92.3 116.4V119M103 116.4V119M113.7 116.4V119M124.4 116.4V119M135.1 116.4V119M145.8 116.4V119" stroke="#000" stroke-width="1"/>
<text x="28.8" y="119" text-anchor="end" class="ty">10</text><text x="29.4" y="116.6" class="ts">2</text>
<text x="28.8" y="106.57" text-anchor="end" class="ty">10</text><text x="29.4" y="104.17" class="ts">3</text>
<text x="28.8" y="94.13" text-anchor="end" class="ty">10</text><text x="29.4" y="91.73" class="ts">4</text>
<text x="28.8" y="81.7" text-anchor="end" class="ty">10</text><text x="29.4" y="79.3" class="ts">5</text>
<text x="28.8" y="69.27" text-anchor="end" class="ty">10</text><text x="29.4" y="66.87" class="ts">6</text>
<text x="28.8" y="56.83" text-anchor="end" class="ty">10</text><text x="29.4" y="54.43" class="ts">7</text>
<text x="28.8" y="44.4" text-anchor="end" class="ty">10</text><text x="29.4" y="42" class="ts">8</text>
<text x="38.8" y="125.6" text-anchor="middle" class="tl">10</text>
<text x="49.5" y="125.6" text-anchor="middle" class="tl">20</text>
<text x="60.2" y="125.6" text-anchor="middle" class="tl">30</text>
<text x="70.9" y="125.6" text-anchor="middle" class="tl">40</text>
<text x="81.6" y="125.6" text-anchor="middle" class="tl">50</text>
<text x="92.3" y="125.6" text-anchor="middle" class="tl">60</text>
<text x="103" y="125.6" text-anchor="middle" class="tl">70</text>
<text x="113.7" y="125.6" text-anchor="middle" class="tl">80</text>
<text x="124.4" y="125.6" text-anchor="middle" class="tl">90</text>
<text x="135.1" y="125.6" text-anchor="middle" class="tl">100</text>
<text x="145.8" y="125.6" text-anchor="middle" class="tl">110</text>
<text x="145.3" y="114.8" text-anchor="end" class="fr">0/14</text>
<polyline points="180.39,100.27 183.6,90.96 187.88,78.5 191.09,75.57 195.37,66.12 198.58,62.1 202.86,57.13 206.07,50.54 210.35,43.67" fill="none" stroke="#000" stroke-width="1.05" stroke-linejoin="round"/><path d="M179.64 100.27h1.5M182.85 90.96h1.5M187.13 78.5h1.5M190.34 75.57h1.5M194.62 66.12h1.5M197.83 62.1h1.5M202.11 57.13h1.5M205.32 50.54h1.5M209.6 43.67h1.5" stroke="#000" stroke-width="1.5"/>
<polyline points="180.39,101.34 183.6,89.99 187.88,82.09 191.09,76.45 195.37,67.84 198.58,61.21 202.86,58.54 206.07,53.7 210.35,46.71 213.56,44.29" fill="none" stroke="#000" stroke-width="1.05" stroke-linejoin="round"/><path d="M179.64 101.34h1.5M182.85 89.99h1.5M187.13 82.09h1.5M190.34 76.45h1.5M194.62 67.84h1.5M197.83 61.21h1.5M202.11 58.54h1.5M205.32 53.7h1.5M209.6 46.71h1.5M212.81 44.29h1.5" stroke="#000" stroke-width="1.5"/>
<polyline points="180.39,97.95 183.6,89.61 187.88,81.29 191.09,72.43 195.37,71.44 198.58,62.02 202.86,59.72 206.07,56.27 210.35,51.46 213.56,48.02 217.84,45.53 221.05,43.67 225.33,46.77 228.54,44.29" fill="none" stroke="#000" stroke-width="1.05" stroke-linejoin="round"/><path d="M179.64 97.95h1.5M182.85 89.61h1.5M187.13 81.29h1.5M190.34 72.43h1.5M194.62 71.44h1.5M197.83 62.02h1.5M202.11 59.72h1.5M205.32 56.27h1.5M209.6 51.46h1.5M212.81 48.02h1.5M217.09 45.53h1.5M220.3 43.67h1.5M224.58 46.77h1.5M227.79 44.29h1.5" stroke="#000" stroke-width="1.5"/>
<polyline points="180.39,100.33 183.6,88.47 187.88,83.27 191.09,75.68 195.37,68.76 198.58,66.17 202.86,59.51 206.07,58.34 210.35,53.32 213.56,46.77 217.84,50.5 221.05,45.53 225.33,44.91 228.54,43.04 231.75,46.77 236.03,48.02 239.24,45.53" fill="none" stroke="#000" stroke-width="1.05" stroke-linejoin="round"/><path d="M179.64 100.33h1.5M182.85 88.47h1.5M187.13 83.27h1.5M190.34 75.68h1.5M194.62 68.76h1.5M197.83 66.17h1.5M202.11 59.51h1.5M205.32 58.34h1.5M209.6 53.32h1.5M212.81 46.77h1.5M217.09 50.5h1.5M220.3 45.53h1.5M224.58 44.91h1.5M227.79 43.04h1.5M231 46.77h1.5M235.28 48.02h1.5M238.49 45.53h1.5" stroke="#000" stroke-width="1.5"/>
<polyline points="180.39,100.71 183.6,89.67 187.88,82.49 191.09,78.14 195.37,70.18 198.58,66.79 202.86,62.44 206.07,55.39 210.35,50.97 213.56,50.48 217.84,46.77 221.05,49.26 225.33,45.53 228.54,44.29 231.75,49.26 239.24,46.77" fill="none" stroke="#000" stroke-width="1.05" stroke-linejoin="round"/><path d="M179.64 100.71h1.5M182.85 89.67h1.5M187.13 82.49h1.5M190.34 78.14h1.5M194.62 70.18h1.5M197.83 66.79h1.5M202.11 62.44h1.5M205.32 55.39h1.5M209.6 50.97h1.5M212.81 50.48h1.5M217.09 46.77h1.5M220.3 49.26h1.5M224.58 45.53h1.5M227.79 44.29h1.5M231 49.26h1.5M238.49 46.77h1.5" stroke="#000" stroke-width="1.5"/>
<polyline points="180.39,99.34 183.6,90.95 187.88,80 191.09,76.07 195.37,73.38 198.58,64.05 202.86,65.44 206.07,59.42 210.35,51.91 213.56,55.48 217.84,71.64 221.05,52.99 225.33,59.21 228.54,51.75 231.75,60.45" fill="none" stroke="#000" stroke-width="1.05" stroke-linejoin="round"/><path d="M179.64 99.34h1.5M182.85 90.95h1.5M187.13 80h1.5M190.34 76.07h1.5M194.62 73.38h1.5M197.83 64.05h1.5M202.11 65.44h1.5M205.32 59.42h1.5M209.6 51.91h1.5M212.81 55.48h1.5M217.09 71.64h1.5M220.3 52.99h1.5M224.58 59.21h1.5M227.79 51.75h1.5M231 60.45h1.5" stroke="#000" stroke-width="1.5"/>
<polyline points="180.39,100.91 183.6,91.57 187.88,86.99 191.09,77.32 195.37,70.92 198.58,68.21 202.86,61.18 206.07,61.79 210.35,54.17 213.56,51.75 217.84,61.69 221.8,66.67 225.33,81.59 231,95.01 240.2,90.29 246.94,100.24" fill="none" stroke="#000" stroke-width="1.05" stroke-linejoin="round"/><path d="M179.64 100.91h1.5M182.85 91.57h1.5M187.13 86.99h1.5M190.34 77.32h1.5M194.62 70.92h1.5M197.83 68.21h1.5M202.11 61.18h1.5M205.32 61.79h1.5M209.6 54.17h1.5M212.81 51.75h1.5M217.09 61.69h1.5M221.05 66.67h1.5M224.58 81.59h1.5M230.25 95.01h1.5M239.45 90.29h1.5M246.19 100.24h1.5" stroke="#000" stroke-width="1.5"/>
<polyline points="180.39,100.68 183.6,97.25 187.88,86.63 191.09,76.86 195.37,68.34 198.58,66 202.86,58.19 206.07,56.96 210.35,47.39 213.56,44.51 217.84,41.22 217.84,48.02 221.05,44.29 226.83,44.66 231.75,54.23 239.24,64.8 246.73,55.48 254.22,46.03" fill="none" stroke="#000" stroke-width="1.05" stroke-linejoin="round"/><path d="M179.64 100.68h1.5M182.85 97.25h1.5M187.13 86.63h1.5M190.34 76.86h1.5M194.62 68.34h1.5M197.83 66h1.5M202.11 58.19h1.5M205.32 56.96h1.5M209.6 47.39h1.5M212.81 44.51h1.5M217.09 41.22h1.5M217.09 48.02h1.5M220.3 44.29h1.5M226.08 44.66h1.5M231 54.23h1.5M238.49 64.8h1.5M245.98 55.48h1.5M253.47 46.03h1.5" stroke="#000" stroke-width="1.5"/>
<polyline points="180.39,102.4 183.6,99.93 187.88,89.24 191.09,85.87 195.37,74.31 198.58,70.8 202.86,64.55 206.07,60.01 210.35,48.61 210.35,59.21 213.56,76.61 217.84,60.45 221.05,51.75 225.33,64.18 228.54,59.21 231.75,55.48" fill="none" stroke="#000" stroke-width="1.05" stroke-linejoin="round"/><path d="M179.64 102.4h1.5M182.85 99.93h1.5M187.13 89.24h1.5M190.34 85.87h1.5M194.62 74.31h1.5M197.83 70.8h1.5M202.11 64.55h1.5M205.32 60.01h1.5M209.6 48.61h1.5M209.6 59.21h1.5M212.81 76.61h1.5M217.09 60.45h1.5M220.3 51.75h1.5M224.58 64.18h1.5M227.79 59.21h1.5M231 55.48h1.5" stroke="#000" stroke-width="1.5"/>
<polyline points="180.39,100.52 183.6,101.09 187.88,92.54 191.09,88.96 195.37,77.3 198.58,70.79 202.86,61.8 206.07,57.22 210.35,50.52 213.56,50.02 217.84,47.3 221.05,47.65 221.05,48.02 225.33,50.5 230.25,52 238.6,55.73 247.05,51.37" fill="none" stroke="#000" stroke-width="1.05" stroke-linejoin="round"/><path d="M179.64 100.52h1.5M182.85 101.09h1.5M187.13 92.54h1.5M190.34 88.96h1.5M194.62 77.3h1.5M197.83 70.79h1.5M202.11 61.8h1.5M205.32 57.22h1.5M209.6 50.52h1.5M212.81 50.02h1.5M217.09 47.3h1.5M220.3 47.65h1.5M220.3 48.02h1.5M224.58 50.5h1.5M229.5 52h1.5M237.85 55.73h1.5M246.3 51.37h1.5" stroke="#000" stroke-width="1.5"/>
<polyline points="180.39,100.38 183.6,103.03 187.88,100.21 191.09,92.16 195.37,81.63 198.58,74.12 202.86,66.11 206.07,63.17 210.35,58.15 213.56,51.11 217.84,46.6 221.05,45.12 225.33,42.71 225.33,46.77 230.25,47.27 238.6,45.41" fill="none" stroke="#000" stroke-width="1.05" stroke-linejoin="round"/><path d="M179.64 100.38h1.5M182.85 103.03h1.5M187.13 100.21h1.5M190.34 92.16h1.5M194.62 81.63h1.5M197.83 74.12h1.5M202.11 66.11h1.5M205.32 63.17h1.5M209.6 58.15h1.5M212.81 51.11h1.5M217.09 46.6h1.5M220.3 45.12h1.5M224.58 42.71h1.5M224.58 46.77h1.5M229.5 47.27h1.5M237.85 45.41h1.5" stroke="#000" stroke-width="1.5"/>
<polyline points="180.39,102.47 183.6,100.6 187.88,98.21 191.09,98.18 195.37,80.68 198.58,74.9 202.86,66.36 206.07,61.96 210.35,58.35 213.56,53.54 213.56,62.94 217.84,67.91 221.05,56.72 225.33,54.23 228.54,57.96 231.75,77.86 236.03,91.53 239.24,97.75" fill="none" stroke="#000" stroke-width="1.05" stroke-linejoin="round"/><path d="M179.64 102.47h1.5M182.85 100.6h1.5M187.13 98.21h1.5M190.34 98.18h1.5M194.62 80.68h1.5M197.83 74.9h1.5M202.11 66.36h1.5M205.32 61.96h1.5M209.6 58.35h1.5M212.81 53.54h1.5M212.81 62.94h1.5M217.09 67.91h1.5M220.3 56.72h1.5M224.58 54.23h1.5M227.79 57.96h1.5M231 77.86h1.5M235.28 91.53h1.5M238.49 97.75h1.5" stroke="#000" stroke-width="1.5"/>
<polyline points="180.39,101.82 183.6,104.75 187.88,104.09 191.09,100.37 195.37,90.22 198.58,81.16 202.86,75.41 206.07,70.39 210.35,62.64 213.56,58.45 213.56,71.64 217.84,60.45 221.05,66.67 225.33,56.72 228.54,64.18 231.75,74.13" fill="none" stroke="#000" stroke-width="1.05" stroke-linejoin="round"/><path d="M179.64 101.82h1.5M182.85 104.75h1.5M187.13 104.09h1.5M190.34 100.37h1.5M194.62 90.22h1.5M197.83 81.16h1.5M202.11 75.41h1.5M205.32 70.39h1.5M209.6 62.64h1.5M212.81 58.45h1.5M212.81 71.64h1.5M217.09 60.45h1.5M220.3 66.67h1.5M224.58 56.72h1.5M227.79 64.18h1.5M231 74.13h1.5" stroke="#000" stroke-width="1.5"/>
<polyline points="180.39,101.52 183.6,98.69 187.88,100.63 191.09,102.15 195.37,93.8 198.58,84.8 202.86,76.01 206.07,71.97 210.35,59.92 213.56,56.77 217.84,60.7 217.84,65.42 221.05,75.37 225.33,61.69 228.54,79.1 231.75,91.53" fill="none" stroke="#000" stroke-width="1.05" stroke-linejoin="round"/><path d="M179.64 101.52h1.5M182.85 98.69h1.5M187.13 100.63h1.5M190.34 102.15h1.5M194.62 93.8h1.5M197.83 84.8h1.5M202.11 76.01h1.5M205.32 71.97h1.5M209.6 59.92h1.5M212.81 56.77h1.5M217.09 60.7h1.5M217.09 65.42h1.5M220.3 75.37h1.5M224.58 61.69h1.5M227.79 79.1h1.5M231 91.53h1.5" stroke="#000" stroke-width="1.5"/>
<polyline points="180.39,102.72 187.88,102.1 195.37,102.72 202.86,100.86 210.35,98.99 217.84,100.24 225.33,97.75 230.25,94.02 238.6,65.05 254.43,46.4" fill="none" stroke="#000" stroke-width="1.05" stroke-linejoin="round"/><path d="M179.64 102.72h1.5M187.13 102.1h1.5M194.62 102.72h1.5M202.11 100.86h1.5M209.6 98.99h1.5M217.09 100.24h1.5M224.58 97.75h1.5M229.5 94.02h1.5M237.85 65.05h1.5M253.68 46.4h1.5" stroke="#000" stroke-width="1.5"/>
<polyline points="180.39,102.1 187.88,102.72 195.37,101.48 202.86,102.72 210.35,100.86 217.84,102.1 225.33,100.24 230.25,92.03 238.6,89.3 247.05,101.36 261.92,84.7 269.31,97.75 276.8,83.7 286.96,79.1" fill="none" stroke="#000" stroke-width="1.05" stroke-linejoin="round"/><path d="M179.64 102.1h1.5M187.13 102.72h1.5M194.62 101.48h1.5M202.11 102.72h1.5M209.6 100.86h1.5M217.09 102.1h1.5M224.58 100.24h1.5M229.5 92.03h1.5M237.85 89.3h1.5M246.3 101.36h1.5M261.17 84.7h1.5M268.56 97.75h1.5M276.05 83.7h1.5M286.21 79.1h1.5" stroke="#000" stroke-width="1.5"/>
<polyline points="180.39,104.24 183.6,103.82 187.88,103.96 191.09,102.97 195.37,104.14 198.58,104.38 202.86,102.76 206.07,103.5 210.35,104.16 213.56,103.47 217.84,104.37 221.05,103.5 225.33,102.71 228.54,102.91 231.75,103.21 236.03,103.96 239.24,103.78 243.52,104.13 246.73,103.07 251.01,103.49 254.22,103.06 258.5,103.84 261.71,104.03 265.99,103 269.2,102.7 273.48,102.93 276.69,103.01 280.97,102.99 286.32,103.13" fill="none" stroke="#000" stroke-width="1.05" stroke-linejoin="round"/><path d="M179.64 104.24h1.5M182.85 103.82h1.5M187.13 103.96h1.5M190.34 102.97h1.5M194.62 104.14h1.5M197.83 104.38h1.5M202.11 102.76h1.5M205.32 103.5h1.5M209.6 104.16h1.5M212.81 103.47h1.5M217.09 104.37h1.5M220.3 103.5h1.5M224.58 102.71h1.5M227.79 102.91h1.5M231 103.21h1.5M235.28 103.96h1.5M238.49 103.78h1.5M242.77 104.13h1.5M245.98 103.07h1.5M250.26 103.49h1.5M253.47 103.06h1.5M257.75 103.84h1.5M260.96 104.03h1.5M265.24 103h1.5M268.45 102.7h1.5M272.73 102.93h1.5M275.94 103.01h1.5M280.22 102.99h1.5M285.57 103.13h1.5" stroke="#000" stroke-width="1.5"/>
<polyline points="180.39,103.24 183.6,103.52 187.88,104.09 191.09,104.09 195.37,103.65 198.58,103.69 202.86,97.75 206.07,102.47 210.35,95.26 213.56,102.51 217.84,98.99 221.05,102.47 225.33,103.5 228.54,103.75 231.75,103.74 236.03,103.79 239.24,103.78 243.52,103.05 246.73,102.57 251.01,102.67 254.22,103.3 258.5,103 261.71,102.75 265.99,103.99 269.2,102.99 273.48,102.55 276.69,102.78 280.97,102.83 286.32,103.31" fill="none" stroke="#000" stroke-width="1.05" stroke-linejoin="round"/><path d="M179.64 103.24h1.5M182.85 103.52h1.5M187.13 104.09h1.5M190.34 104.09h1.5M194.62 103.65h1.5M197.83 103.69h1.5M202.11 97.75h1.5M205.32 102.47h1.5M209.6 95.26h1.5M212.81 102.51h1.5M217.09 98.99h1.5M220.3 102.47h1.5M224.58 103.5h1.5M227.79 103.75h1.5M231 103.74h1.5M235.28 103.79h1.5M238.49 103.78h1.5M242.77 103.05h1.5M245.98 102.57h1.5M250.26 102.67h1.5M253.47 103.3h1.5M257.75 103h1.5M260.96 102.75h1.5M265.24 103.99h1.5M268.45 102.99h1.5M272.73 102.55h1.5M275.94 102.78h1.5M280.22 102.83h1.5M285.57 103.31h1.5" stroke="#000" stroke-width="1.5"/>
<polyline points="180.39,102.86 183.6,103.65 187.88,102.84 191.09,102.54 195.37,98.99 198.58,103.53 202.86,102.59 206.07,96.51 210.35,103.94 213.56,104.01 217.84,103.97 221.05,102.66 225.33,102.83 228.54,103.98 231.75,102.79 236.03,102.53 239.24,103.09 243.52,103.62 246.73,103.28" fill="none" stroke="#000" stroke-width="1.05" stroke-linejoin="round"/><path d="M179.64 102.86h1.5M182.85 103.65h1.5M187.13 102.84h1.5M190.34 102.54h1.5M194.62 98.99h1.5M197.83 103.53h1.5M202.11 102.59h1.5M205.32 96.51h1.5M209.6 103.94h1.5M212.81 104.01h1.5M217.09 103.97h1.5M220.3 102.66h1.5M224.58 102.83h1.5M227.79 103.98h1.5M231 102.79h1.5M235.28 102.53h1.5M238.49 103.09h1.5M242.77 103.62h1.5M245.98 103.28h1.5" stroke="#000" stroke-width="1.5"/>
<polyline points="180.39,104.3 183.6,102.64 187.88,103.2 191.09,103.41 195.37,102.7 198.58,103.57 202.86,97.75 206.07,102.89 210.35,95.26 213.56,103.89 217.84,98.99 221.05,103.91 225.33,103.31 228.54,103.88 231.75,103.6 236.03,104.1 239.24,102.74 243.52,103.71 246.73,103.53 251.01,103.31 254.22,102.75 258.5,103.6 261.71,102.73 265.99,103.45 269.2,103.4 273.48,103.42 276.69,104.3 280.97,103.56 286.32,104.01" fill="none" stroke="#000" stroke-width="1.05" stroke-linejoin="round"/><path d="M179.64 104.3h1.5M182.85 102.64h1.5M187.13 103.2h1.5M190.34 103.41h1.5M194.62 102.7h1.5M197.83 103.57h1.5M202.11 97.75h1.5M205.32 102.89h1.5M209.6 95.26h1.5M212.81 103.89h1.5M217.09 98.99h1.5M220.3 103.91h1.5M224.58 103.31h1.5M227.79 103.88h1.5M231 103.6h1.5M235.28 104.1h1.5M238.49 102.74h1.5M242.77 103.71h1.5M245.98 103.53h1.5M250.26 103.31h1.5M253.47 102.75h1.5M257.75 103.6h1.5M260.96 102.73h1.5M265.24 103.45h1.5M268.45 103.4h1.5M272.73 103.42h1.5M275.94 104.3h1.5M280.22 103.56h1.5M285.57 104.01h1.5" stroke="#000" stroke-width="1.5"/>
<polyline points="180.39,103.19 183.6,104.28 187.88,103.76 191.09,103.32 195.37,103.61 198.58,104.01 202.86,103.68 206.07,103.61 210.35,103.22 213.56,104.4 217.84,103.61 221.05,104.15 225.33,104.1 228.54,103.24 231.75,103.7 236.03,103.6 239.24,103.26 243.52,102.99 246.73,103.81 251.01,103.51 254.22,103.7 258.5,103.69 261.71,103.37 265.99,103.79 269.2,103.65 273.48,103.75" fill="none" stroke="#000" stroke-width="1.05" stroke-linejoin="round"/><path d="M179.64 103.19h1.5M182.85 104.28h1.5M187.13 103.76h1.5M190.34 103.32h1.5M194.62 103.61h1.5M197.83 104.01h1.5M202.11 103.68h1.5M205.32 103.61h1.5M209.6 103.22h1.5M212.81 104.4h1.5M217.09 103.61h1.5M220.3 104.15h1.5M224.58 104.1h1.5M227.79 103.24h1.5M231 103.7h1.5M235.28 103.6h1.5M238.49 103.26h1.5M242.77 102.99h1.5M245.98 103.81h1.5M250.26 103.51h1.5M253.47 103.7h1.5M257.75 103.69h1.5M260.96 103.37h1.5M265.24 103.79h1.5M268.45 103.65h1.5M272.73 103.75h1.5" stroke="#000" stroke-width="1.5"/>
<polyline points="180.39,101.5 183.6,101.19 187.88,101.08 191.09,102.26 195.37,101.74 198.58,101.07 202.86,101.25 206.07,102.48 210.35,102.5 213.56,101.95 217.84,102.59 221.05,96.51 225.33,102.59 228.54,98.99 231.75,101.35 236.03,101.15 239.24,102.45 243.52,101.47 246.73,101.57 251.01,102.47 254.22,101.18 258.5,101.03 261.71,102.33 265.99,101.06 269.2,102.02 273.48,101.87 276.69,100.99 280.97,101.27 286.32,102.43" fill="none" stroke="#000" stroke-width="1.05" stroke-linejoin="round"/><path d="M179.64 101.5h1.5M182.85 101.19h1.5M187.13 101.08h1.5M190.34 102.26h1.5M194.62 101.74h1.5M197.83 101.07h1.5M202.11 101.25h1.5M205.32 102.48h1.5M209.6 102.5h1.5M212.81 101.95h1.5M217.09 102.59h1.5M220.3 96.51h1.5M224.58 102.59h1.5M227.79 98.99h1.5M231 101.35h1.5M235.28 101.15h1.5M238.49 102.45h1.5M242.77 101.47h1.5M245.98 101.57h1.5M250.26 102.47h1.5M253.47 101.18h1.5M257.75 101.03h1.5M260.96 102.33h1.5M265.24 101.06h1.5M268.45 102.02h1.5M272.73 101.87h1.5M275.94 100.99h1.5M280.22 101.27h1.5M285.57 102.43h1.5" stroke="#000" stroke-width="1.5"/>
<polyline points="180.39,102.83 183.6,103.14 187.88,103.39 191.09,103.18 195.37,102.47 198.58,103.7 202.86,102.77 206.07,102.96 210.35,103.7 213.56,103.15 217.84,102.64 221.05,102.84 225.33,103.62 228.54,102.02 231.75,102.36 236.03,102.04 239.24,103.55" fill="none" stroke="#000" stroke-width="1.05" stroke-linejoin="round"/><path d="M179.64 102.83h1.5M182.85 103.14h1.5M187.13 103.39h1.5M190.34 103.18h1.5M194.62 102.47h1.5M197.83 103.7h1.5M202.11 102.77h1.5M205.32 102.96h1.5M209.6 103.7h1.5M212.81 103.15h1.5M217.09 102.64h1.5M220.3 102.84h1.5M224.58 103.62h1.5M227.79 102.02h1.5M231 102.36h1.5M235.28 102.04h1.5M238.49 103.55h1.5" stroke="#000" stroke-width="1.5"/>
<polyline points="180.39,97.75 183.6,89.05 186.81,80.97 190.02,75 193.23,69.15 196.44,64.18 199.65,59.21 202.86,54.23 206.07,49.88 209.28,46.15" fill="none" stroke="#e0141e" stroke-width="2.4" stroke-linejoin="round"/>
<path d="M179.2 41.8V116.4H291.2" fill="none" stroke="#000" stroke-width="1.1"/>
<path d="M176.8 116.4H179.2M176.8 103.97H179.2M176.8 91.53H179.2M176.8 79.1H179.2M176.8 66.67H179.2M176.8 54.23H179.2M176.8 41.8H179.2M183.6 116.4V119M194.3 116.4V119M205 116.4V119M215.7 116.4V119M226.4 116.4V119M237.1 116.4V119M247.8 116.4V119M258.5 116.4V119M269.2 116.4V119M279.9 116.4V119M290.6 116.4V119" stroke="#000" stroke-width="1"/>
<text x="173.6" y="119" text-anchor="end" class="ty">10</text><text x="174.2" y="116.6" class="ts">2</text>
<text x="173.6" y="106.57" text-anchor="end" class="ty">10</text><text x="174.2" y="104.17" class="ts">3</text>
<text x="173.6" y="94.13" text-anchor="end" class="ty">10</text><text x="174.2" y="91.73" class="ts">4</text>
<text x="173.6" y="81.7" text-anchor="end" class="ty">10</text><text x="174.2" y="79.3" class="ts">5</text>
<text x="173.6" y="69.27" text-anchor="end" class="ty">10</text><text x="174.2" y="66.87" class="ts">6</text>
<text x="173.6" y="56.83" text-anchor="end" class="ty">10</text><text x="174.2" y="54.43" class="ts">7</text>
<text x="173.6" y="44.4" text-anchor="end" class="ty">10</text><text x="174.2" y="42" class="ts">8</text>
<text x="183.6" y="125.6" text-anchor="middle" class="tl">10</text>
<text x="194.3" y="125.6" text-anchor="middle" class="tl">20</text>
<text x="205" y="125.6" text-anchor="middle" class="tl">30</text>
<text x="215.7" y="125.6" text-anchor="middle" class="tl">40</text>
<text x="226.4" y="125.6" text-anchor="middle" class="tl">50</text>
<text x="237.1" y="125.6" text-anchor="middle" class="tl">60</text>
<text x="247.8" y="125.6" text-anchor="middle" class="tl">70</text>
<text x="258.5" y="125.6" text-anchor="middle" class="tl">80</text>
<text x="269.2" y="125.6" text-anchor="middle" class="tl">90</text>
<text x="279.9" y="125.6" text-anchor="middle" class="tl">100</text>
<text x="290.6" y="125.6" text-anchor="middle" class="tl">110</text>
<text x="290.3" y="114.8" text-anchor="end" class="fr">4/23</text>
<polyline points="325.29,103.97 328.5,97.75 332.78,87.8 335.99,80.34 340.27,71.64 343.48,64.18 346.26,62.19 350.97,62.94 356.32,62.94 362.74,75.37 365.95,81.59 370.23,78.11 377.4,80.97 384.03,78.11" fill="none" stroke="#000" stroke-width="1.05" stroke-linejoin="round"/><path d="M324.54 103.97h1.5M327.75 97.75h1.5M332.03 87.8h1.5M335.24 80.34h1.5M339.52 71.64h1.5M342.73 64.18h1.5M345.51 62.19h1.5M350.22 62.94h1.5M355.57 62.94h1.5M361.99 75.37h1.5M365.2 81.59h1.5M369.48 78.11h1.5M376.65 80.97h1.5M383.28 78.11h1.5" stroke="#000" stroke-width="1.5"/>
<polyline points="325.29,102.72 328.5,96.51 332.78,86.56 335.99,81.59 340.27,76.61 343.48,72.88 347.76,75.37 350.97,79.1 355.25,74.13 358.46,79.1 362.74,84.07 365.95,87.8 370.23,91.53 376.65,89.05 384.14,91.53 391.63,90.29 398.91,89.3 406.61,87.8 413.78,88.42 421.16,90.29 431.54,88.42" fill="none" stroke="#000" stroke-width="1.05" stroke-linejoin="round"/><path d="M324.54 102.72h1.5M327.75 96.51h1.5M332.03 86.56h1.5M335.24 81.59h1.5M339.52 76.61h1.5M342.73 72.88h1.5M347.01 75.37h1.5M350.22 79.1h1.5M354.5 74.13h1.5M357.71 79.1h1.5M361.99 84.07h1.5M365.2 87.8h1.5M369.48 91.53h1.5M375.9 89.05h1.5M383.39 91.53h1.5M390.88 90.29h1.5M398.16 89.3h1.5M405.86 87.8h1.5M413.03 88.42h1.5M420.41 90.29h1.5M430.79 88.42h1.5" stroke="#000" stroke-width="1.5"/>
<polyline points="325.29,103.97 328.5,100.24 332.78,92.78 335.99,85.32 340.27,80.34 343.48,75.37 347.76,77.86 350.97,82.83 355.25,72.88 358.46,77.86 362.74,86.56 365.95,91.53 373.44,94.02 384.14,94.02 391.63,94.64 406.61,95.89 420.52,95.26 431.22,97.75" fill="none" stroke="#000" stroke-width="1.05" stroke-linejoin="round"/><path d="M324.54 103.97h1.5M327.75 100.24h1.5M332.03 92.78h1.5M335.24 85.32h1.5M339.52 80.34h1.5M342.73 75.37h1.5M347.01 77.86h1.5M350.22 82.83h1.5M354.5 72.88h1.5M357.71 77.86h1.5M361.99 86.56h1.5M365.2 91.53h1.5M372.69 94.02h1.5M383.39 94.02h1.5M390.88 94.64h1.5M405.86 95.89h1.5M419.77 95.26h1.5M430.47 97.75h1.5" stroke="#000" stroke-width="1.5"/>
<polyline points="325.29,103.34 328.5,98.99 332.78,89.05 335.99,91.53 340.27,84.07 343.48,79.1 347.76,85.32 350.97,89.05 355.25,82.83 358.46,87.8 362.74,94.02 370.23,97.75 376.65,100.24 384.14,98.99" fill="none" stroke="#000" stroke-width="1.05" stroke-linejoin="round"/><path d="M324.54 103.34h1.5M327.75 98.99h1.5M332.03 89.05h1.5M335.24 91.53h1.5M339.52 84.07h1.5M342.73 79.1h1.5M347.01 85.32h1.5M350.22 89.05h1.5M354.5 82.83h1.5M357.71 87.8h1.5M361.99 94.02h1.5M369.48 97.75h1.5M375.9 100.24h1.5M383.39 98.99h1.5" stroke="#000" stroke-width="1.5"/>
<polyline points="325.29,103.97 328.5,101.48 332.78,96.51 335.99,87.8 340.27,81.59 343.48,86.56 347.76,80.34 350.97,76.61 355.25,84.07 358.46,91.53 365.95,96.51 373.44,101.48 380.93,98.99" fill="none" stroke="#000" stroke-width="1.05" stroke-linejoin="round"/><path d="M324.54 103.97h1.5M327.75 101.48h1.5M332.03 96.51h1.5M335.24 87.8h1.5M339.52 81.59h1.5M342.73 86.56h1.5M347.01 80.34h1.5M350.22 76.61h1.5M354.5 84.07h1.5M357.71 91.53h1.5M365.2 96.51h1.5M372.69 101.48h1.5M380.18 98.99h1.5" stroke="#000" stroke-width="1.5"/>
<polyline points="325.29,102.72 328.5,95.26 332.78,84.07 335.99,77.86 340.27,82.83 343.48,89.05 347.76,91.53 350.97,96.51 358.46,98.99 365.95,100.24 373.44,97.75 380.93,101.48 388.42,100.24 395.91,103.97 403.4,97.75 410.89,101.48" fill="none" stroke="#000" stroke-width="1.05" stroke-linejoin="round"/><path d="M324.54 102.72h1.5M327.75 95.26h1.5M332.03 84.07h1.5M335.24 77.86h1.5M339.52 82.83h1.5M342.73 89.05h1.5M347.01 91.53h1.5M350.22 96.51h1.5M357.71 98.99h1.5M365.2 100.24h1.5M372.69 97.75h1.5M380.18 101.48h1.5M387.67 100.24h1.5M395.16 103.97h1.5M402.65 97.75h1.5M410.14 101.48h1.5" stroke="#000" stroke-width="1.5"/>
<polyline points="325.29,104.59 328.5,101.48 332.78,97.75 335.99,92.78 340.27,86.56 343.48,81.59 347.76,75.37 350.97,80.34 355.25,86.56 362.74,80.34 365.95,76.61 370.23,84.07 373.44,89.05 380.93,96.51 388.42,97.75 395.91,92.78 403.4,95.26" fill="none" stroke="#000" stroke-width="1.05" stroke-linejoin="round"/><path d="M324.54 104.59h1.5M327.75 101.48h1.5M332.03 97.75h1.5M335.24 92.78h1.5M339.52 86.56h1.5M342.73 81.59h1.5M347.01 75.37h1.5M350.22 80.34h1.5M354.5 86.56h1.5M361.99 80.34h1.5M365.2 76.61h1.5M369.48 84.07h1.5M372.69 89.05h1.5M380.18 96.51h1.5M387.67 97.75h1.5M395.16 92.78h1.5M402.65 95.26h1.5" stroke="#000" stroke-width="1.5"/>
<polyline points="325.29,103.97 328.5,100.24 332.78,94.02 335.99,89.05 340.27,92.78 343.48,87.8 347.76,90.29 350.97,94.02 355.25,89.05 358.46,95.26 365.95,98.99 373.44,100.24" fill="none" stroke="#000" stroke-width="1.05" stroke-linejoin="round"/><path d="M324.54 103.97h1.5M327.75 100.24h1.5M332.03 94.02h1.5M335.24 89.05h1.5M339.52 92.78h1.5M342.73 87.8h1.5M347.01 90.29h1.5M350.22 94.02h1.5M354.5 89.05h1.5M357.71 95.26h1.5M365.2 98.99h1.5M372.69 100.24h1.5" stroke="#000" stroke-width="1.5"/>
<polyline points="325.29,102.72 328.5,97.75 332.78,92.78 335.99,96.51 340.27,91.53 343.48,96.51 347.76,94.02 350.97,86.56 355.25,91.53 358.46,85.32 362.74,91.53 365.95,95.26 370.23,97.75 380.93,96.51 388.42,96.51 395.91,97.75 403.4,98.99 414.1,97.75 420.52,98.99 431.22,100.24" fill="none" stroke="#000" stroke-width="1.05" stroke-linejoin="round"/><path d="M324.54 102.72h1.5M327.75 97.75h1.5M332.03 92.78h1.5M335.24 96.51h1.5M339.52 91.53h1.5M342.73 96.51h1.5M347.01 94.02h1.5M350.22 86.56h1.5M354.5 91.53h1.5M357.71 85.32h1.5M361.99 91.53h1.5M365.2 95.26h1.5M369.48 97.75h1.5M380.18 96.51h1.5M387.67 96.51h1.5M395.16 97.75h1.5M402.65 98.99h1.5M413.35 97.75h1.5M419.77 98.99h1.5M430.47 100.24h1.5" stroke="#000" stroke-width="1.5"/>
<polyline points="325.29,103.97 328.5,101.48 332.78,100.24 335.99,97.75 340.27,96.51 343.48,92.78 347.76,97.75 350.97,100.24 355.25,96.51 358.46,101.48 365.95,102.72 373.44,101.48 380.93,103.97" fill="none" stroke="#000" stroke-width="1.05" stroke-linejoin="round"/><path d="M324.54 103.97h1.5M327.75 101.48h1.5M332.03 100.24h1.5M335.24 97.75h1.5M339.52 96.51h1.5M342.73 92.78h1.5M347.01 97.75h1.5M350.22 100.24h1.5M354.5 96.51h1.5M357.71 101.48h1.5M365.2 102.72h1.5M372.69 101.48h1.5M380.18 103.97h1.5" stroke="#000" stroke-width="1.5"/>
<polyline points="325.29,103.34 328.5,98.99 332.78,90.29 335.99,84.07 340.27,76.61 343.48,72.88 347.76,76.61 350.97,81.59 355.25,85.32 362.74,92.78 370.23,98.99 376.65,96.51 384.14,94.02 391.63,96.51 399.12,94.02 406.61,95.26 421.59,92.78 431.22,92.78" fill="none" stroke="#000" stroke-width="1.05" stroke-linejoin="round"/><path d="M324.54 103.34h1.5M327.75 98.99h1.5M332.03 90.29h1.5M335.24 84.07h1.5M339.52 76.61h1.5M342.73 72.88h1.5M347.01 76.61h1.5M350.22 81.59h1.5M354.5 85.32h1.5M361.99 92.78h1.5M369.48 98.99h1.5M375.9 96.51h1.5M383.39 94.02h1.5M390.88 96.51h1.5M398.37 94.02h1.5M405.86 95.26h1.5M420.84 92.78h1.5M430.47 92.78h1.5" stroke="#000" stroke-width="1.5"/>
<polyline points="325.29,103.97 328.5,102.72 332.78,98.99 335.99,92.78 340.27,97.75 343.48,100.24 347.76,96.51 350.97,98.99 355.25,94.02 358.46,97.75 365.95,100.24 373.44,98.99 380.93,102.72 388.42,103.97 395.91,101.48" fill="none" stroke="#000" stroke-width="1.05" stroke-linejoin="round"/><path d="M324.54 103.97h1.5M327.75 102.72h1.5M332.03 98.99h1.5M335.24 92.78h1.5M339.52 97.75h1.5M342.73 100.24h1.5M347.01 96.51h1.5M350.22 98.99h1.5M354.5 94.02h1.5M357.71 97.75h1.5M365.2 100.24h1.5M372.69 98.99h1.5M380.18 102.72h1.5M387.67 103.97h1.5M395.16 101.48h1.5" stroke="#000" stroke-width="1.5"/>
<polyline points="325.29,105.21 328.5,102.72 332.78,101.48 335.99,102.72 340.27,100.24 343.48,102.72 347.76,101.48 350.97,103.97 358.46,102.72 365.95,103.97 373.44,102.72" fill="none" stroke="#000" stroke-width="1.05" stroke-linejoin="round"/><path d="M324.54 105.21h1.5M327.75 102.72h1.5M332.03 101.48h1.5M335.24 102.72h1.5M339.52 100.24h1.5M342.73 102.72h1.5M347.01 101.48h1.5M350.22 103.97h1.5M357.71 102.72h1.5M365.2 103.97h1.5M372.69 102.72h1.5" stroke="#000" stroke-width="1.5"/>
<polyline points="325.29,102.72 328.5,96.51 332.78,87.8 335.99,81.59 340.27,76.61 343.48,79.1 347.76,84.07 350.97,89.05 355.25,91.53 358.46,96.51 362.74,100.24 370.23,101.48 376.65,100.24" fill="none" stroke="#000" stroke-width="1.05" stroke-linejoin="round"/><path d="M324.54 102.72h1.5M327.75 96.51h1.5M332.03 87.8h1.5M335.24 81.59h1.5M339.52 76.61h1.5M342.73 79.1h1.5M347.01 84.07h1.5M350.22 89.05h1.5M354.5 91.53h1.5M357.71 96.51h1.5M361.99 100.24h1.5M369.48 101.48h1.5M375.9 100.24h1.5" stroke="#000" stroke-width="1.5"/>
<polyline points="325.29,103.97 328.5,101.48 332.78,95.26 335.99,90.29 340.27,85.32 343.48,90.29 347.76,92.78 350.97,87.8 355.25,92.78 358.46,98.99 365.95,96.51 373.44,100.24 380.93,97.75 388.42,101.48" fill="none" stroke="#000" stroke-width="1.05" stroke-linejoin="round"/><path d="M324.54 103.97h1.5M327.75 101.48h1.5M332.03 95.26h1.5M335.24 90.29h1.5M339.52 85.32h1.5M342.73 90.29h1.5M347.01 92.78h1.5M350.22 87.8h1.5M354.5 92.78h1.5M357.71 98.99h1.5M365.2 96.51h1.5M372.69 100.24h1.5M380.18 97.75h1.5M387.67 101.48h1.5" stroke="#000" stroke-width="1.5"/>
<polyline points="325.29,103.97 328.5,100.24 332.78,97.75 335.99,98.99 340.27,95.26 343.48,90.29 347.76,84.07 350.97,86.56 355.25,90.29 358.46,84.07 362.74,87.8 365.95,94.02 370.23,86.56 373.44,91.53 380.93,95.26 388.42,96.51 395.91,100.24" fill="none" stroke="#000" stroke-width="1.05" stroke-linejoin="round"/><path d="M324.54 103.97h1.5M327.75 100.24h1.5M332.03 97.75h1.5M335.24 98.99h1.5M339.52 95.26h1.5M342.73 90.29h1.5M347.01 84.07h1.5M350.22 86.56h1.5M354.5 90.29h1.5M357.71 84.07h1.5M361.99 87.8h1.5M365.2 94.02h1.5M369.48 86.56h1.5M372.69 91.53h1.5M380.18 95.26h1.5M387.67 96.51h1.5M395.16 100.24h1.5" stroke="#000" stroke-width="1.5"/>
<polyline points="325.29,103.97 328.5,97.75 332.78,91.53 335.99,82.83 340.27,77.86 343.48,84.07 347.76,79.1 350.97,84.07 355.25,87.8 358.46,81.59 362.74,76.61 365.95,80.34 370.23,85.32 373.44,89.05 376.65,92.78" fill="none" stroke="#000" stroke-width="1.05" stroke-linejoin="round"/><path d="M324.54 103.97h1.5M327.75 97.75h1.5M332.03 91.53h1.5M335.24 82.83h1.5M339.52 77.86h1.5M342.73 84.07h1.5M347.01 79.1h1.5M350.22 84.07h1.5M354.5 87.8h1.5M357.71 81.59h1.5M361.99 76.61h1.5M365.2 80.34h1.5M369.48 85.32h1.5M372.69 89.05h1.5M375.9 92.78h1.5" stroke="#000" stroke-width="1.5"/>
<polyline points="325.29,103.34 328.5,100.24 332.78,95.26 335.99,86.56 340.27,79.1 343.48,84.07 347.76,74.13 350.97,70.4 355.25,76.61 358.46,82.83 362.74,89.05 365.95,92.78 370.23,96.51" fill="none" stroke="#000" stroke-width="1.05" stroke-linejoin="round"/><path d="M324.54 103.34h1.5M327.75 100.24h1.5M332.03 95.26h1.5M335.24 86.56h1.5M339.52 79.1h1.5M342.73 84.07h1.5M347.01 74.13h1.5M350.22 70.4h1.5M354.5 76.61h1.5M357.71 82.83h1.5M361.99 89.05h1.5M365.2 92.78h1.5M369.48 96.51h1.5" stroke="#000" stroke-width="1.5"/>
<polyline points="370.02,78.11 373.44,80.97 377.4,79.1 384.03,78.11" fill="none" stroke="#000" stroke-width="1.05" stroke-linejoin="round"/><path d="M369.27 78.11h1.5M372.69 80.97h1.5M376.65 79.1h1.5M383.28 78.11h1.5" stroke="#000" stroke-width="1.5"/>
<polyline points="325.29,101.48 328.5,92.78 331.71,84.07 334.92,76.61 338.13,70.4 341.34,64.18 345.62,56.1" fill="none" stroke="#e0141e" stroke-width="2.4" stroke-linejoin="round"/>
<path d="M324.1 41.8V116.4H436.1" fill="none" stroke="#000" stroke-width="1.1"/>
<path d="M321.7 116.4H324.1M321.7 103.97H324.1M321.7 91.53H324.1M321.7 79.1H324.1M321.7 66.67H324.1M321.7 54.23H324.1M321.7 41.8H324.1M328.5 116.4V119M339.2 116.4V119M349.9 116.4V119M360.6 116.4V119M371.3 116.4V119M382 116.4V119M392.7 116.4V119M403.4 116.4V119M414.1 116.4V119M424.8 116.4V119M435.5 116.4V119" stroke="#000" stroke-width="1"/>
<text x="318.5" y="119" text-anchor="end" class="ty">10</text><text x="319.1" y="116.6" class="ts">2</text>
<text x="318.5" y="106.57" text-anchor="end" class="ty">10</text><text x="319.1" y="104.17" class="ts">3</text>
<text x="318.5" y="94.13" text-anchor="end" class="ty">10</text><text x="319.1" y="91.73" class="ts">4</text>
<text x="318.5" y="81.7" text-anchor="end" class="ty">10</text><text x="319.1" y="79.3" class="ts">5</text>
<text x="318.5" y="69.27" text-anchor="end" class="ty">10</text><text x="319.1" y="66.87" class="ts">6</text>
<text x="318.5" y="56.83" text-anchor="end" class="ty">10</text><text x="319.1" y="54.43" class="ts">7</text>
<text x="318.5" y="44.4" text-anchor="end" class="ty">10</text><text x="319.1" y="42" class="ts">8</text>
<text x="328.5" y="125.6" text-anchor="middle" class="tl">10</text>
<text x="339.2" y="125.6" text-anchor="middle" class="tl">20</text>
<text x="349.9" y="125.6" text-anchor="middle" class="tl">30</text>
<text x="360.6" y="125.6" text-anchor="middle" class="tl">40</text>
<text x="371.3" y="125.6" text-anchor="middle" class="tl">50</text>
<text x="382" y="125.6" text-anchor="middle" class="tl">60</text>
<text x="392.7" y="125.6" text-anchor="middle" class="tl">70</text>
<text x="403.4" y="125.6" text-anchor="middle" class="tl">80</text>
<text x="414.1" y="125.6" text-anchor="middle" class="tl">90</text>
<text x="424.8" y="125.6" text-anchor="middle" class="tl">100</text>
<text x="435.5" y="125.6" text-anchor="middle" class="tl">110</text>
<text x="433" y="114.8" text-anchor="end" class="fr">2/23</text>
<polyline points="35.59,257.48 43.08,255 50.57,253.76 58.06,255 61.27,256.24 64.48,225.2 68.22,223.34 73.79,215.89 76.57,215.27 82.67,208.56 87.38,223.59" fill="none" stroke="#000" stroke-width="1.05" stroke-linejoin="round"/><path d="M34.84 257.48h1.5M42.33 255h1.5M49.82 253.76h1.5M57.31 255h1.5M60.52 256.24h1.5M63.73 225.2h1.5M67.47 223.34h1.5M73.04 215.89h1.5M75.82 215.27h1.5M81.92 208.56h1.5M86.63 223.59h1.5" stroke="#000" stroke-width="1.5"/>
<polyline points="35.59,257.48 49.5,256.86 60.2,256.24 64.48,253.76 75.61,239.35 79.35,246.93 83.74,231.91 94.01,231.91 108.89,253.39 116.27,235.63 123.76,245.07 132.1,237.62 141.52,240.35" fill="none" stroke="#000" stroke-width="1.05" stroke-linejoin="round"/><path d="M34.84 257.48h1.5M48.75 256.86h1.5M59.45 256.24h1.5M63.73 253.76h1.5M74.86 239.35h1.5M78.6 246.93h1.5M82.99 231.91h1.5M93.26 231.91h1.5M108.14 253.39h1.5M115.52 235.63h1.5M123.01 245.07h1.5M131.35 237.62h1.5M140.77 240.35h1.5" stroke="#000" stroke-width="1.5"/>
<polyline points="35.59,257.48 43.08,253.76 50.57,250.03 58.06,246.31 65.55,247.55 73.04,246.31 80,248.79 82.67,251.27 94.44,252.52 108.89,253.76 116.91,259.35" fill="none" stroke="#000" stroke-width="1.05" stroke-linejoin="round"/><path d="M34.84 257.48h1.5M42.33 253.76h1.5M49.82 250.03h1.5M57.31 246.31h1.5M64.8 247.55h1.5M72.29 246.31h1.5M79.25 248.79h1.5M81.92 251.27h1.5M93.69 252.52h1.5M108.14 253.76h1.5M116.16 259.35h1.5" stroke="#000" stroke-width="1.5"/>
<polyline points="35.59,256.24 38.8,247.55 43.08,238.86 45.75,233.89 48.43,240.1 50.57,248.79 53.78,252.52 58.06,253.76 61.27,256.24" fill="none" stroke="#000" stroke-width="1.05" stroke-linejoin="round"/><path d="M34.84 256.24h1.5M38.05 247.55h1.5M42.33 238.86h1.5M45 233.89h1.5M47.68 240.1h1.5M49.82 248.79h1.5M53.03 252.52h1.5M57.31 253.76h1.5M60.52 256.24h1.5" stroke="#000" stroke-width="1.5"/>
<polyline points="35.59,257.48 38.8,251.27 43.08,243.82 46.29,238.86 50.57,246.31 53.78,242.58 56.99,232.9 61.27,242.58 65.55,252.52 68.76,255" fill="none" stroke="#000" stroke-width="1.05" stroke-linejoin="round"/><path d="M34.84 257.48h1.5M38.05 251.27h1.5M42.33 243.82h1.5M45.54 238.86h1.5M49.82 246.31h1.5M53.03 242.58h1.5M56.24 232.9h1.5M60.52 242.58h1.5M64.8 252.52h1.5M68.01 255h1.5" stroke="#000" stroke-width="1.5"/>
<polyline points="35.59,256.86 38.8,250.03 43.08,242.58 46.29,247.55 50.57,241.34 53.78,237.62 58.06,245.07 61.27,250.03 65.55,253.76" fill="none" stroke="#000" stroke-width="1.05" stroke-linejoin="round"/><path d="M34.84 256.86h1.5M38.05 250.03h1.5M42.33 242.58h1.5M45.54 247.55h1.5M49.82 241.34h1.5M53.03 237.62h1.5M57.31 245.07h1.5M60.52 250.03h1.5M64.8 253.76h1.5" stroke="#000" stroke-width="1.5"/>
<polyline points="35.59,257.48 38.8,253.76 43.08,248.79 46.29,243.82 50.57,250.03 53.78,246.31 58.06,240.1 61.27,246.31 65.55,251.27 73.04,253.76 80.53,256.24" fill="none" stroke="#000" stroke-width="1.05" stroke-linejoin="round"/><path d="M34.84 257.48h1.5M38.05 253.76h1.5M42.33 248.79h1.5M45.54 243.82h1.5M49.82 250.03h1.5M53.03 246.31h1.5M57.31 240.1h1.5M60.52 246.31h1.5M64.8 251.27h1.5M72.29 253.76h1.5M79.78 256.24h1.5" stroke="#000" stroke-width="1.5"/>
<polyline points="35.59,256.24 38.8,248.79 43.08,236.38 46.29,242.58 50.57,251.27 53.78,255 58.06,253.76" fill="none" stroke="#000" stroke-width="1.05" stroke-linejoin="round"/><path d="M34.84 256.24h1.5M38.05 248.79h1.5M42.33 236.38h1.5M45.54 242.58h1.5M49.82 251.27h1.5M53.03 255h1.5M57.31 253.76h1.5" stroke="#000" stroke-width="1.5"/>
<polyline points="35.59,258.1 38.8,255 43.08,250.03 46.29,246.31 50.57,252.52 53.78,250.03 58.06,255 61.27,252.52 65.55,256.24" fill="none" stroke="#000" stroke-width="1.05" stroke-linejoin="round"/><path d="M34.84 258.1h1.5M38.05 255h1.5M42.33 250.03h1.5M45.54 246.31h1.5M49.82 252.52h1.5M53.03 250.03h1.5M57.31 255h1.5M60.52 252.52h1.5M64.8 256.24h1.5" stroke="#000" stroke-width="1.5"/>
<polyline points="35.59,257.48 38.8,252.52 43.08,246.31 46.29,241.34 50.57,237.62 53.78,245.07 58.06,251.27 61.27,255 65.55,257.48" fill="none" stroke="#000" stroke-width="1.05" stroke-linejoin="round"/><path d="M34.84 257.48h1.5M38.05 252.52h1.5M42.33 246.31h1.5M45.54 241.34h1.5M49.82 237.62h1.5M53.03 245.07h1.5M57.31 251.27h1.5M60.52 255h1.5M64.8 257.48h1.5" stroke="#000" stroke-width="1.5"/>
<polyline points="35.59,258.92 38.8,259.34 43.08,252.27 46.29,257.01 50.57,251.13 53.78,258.95 58.06,259.28 61.27,256.98 65.55,258.02 68.76,257.64 73.04,259.46 76.25,259.55 80.53,257.67 83.74,258.45 86.95,259.51 91.23,256.93 94.44,257.83 98.72,257.33 101.93,259.47 106.21,257.17 109.42,259.52 113.7,257.15 116.91,258.37 121.19,258.71 124.4,258.07 128.68,256.96 131.89,258.92 136.17,259.34 141.52,258.15" fill="none" stroke="#000" stroke-width="1.05" stroke-linejoin="round"/><path d="M34.84 258.92h1.5M38.05 259.34h1.5M42.33 252.27h1.5M45.54 257.01h1.5M49.82 251.13h1.5M53.03 258.95h1.5M57.31 259.28h1.5M60.52 256.98h1.5M64.8 258.02h1.5M68.01 257.64h1.5M72.29 259.46h1.5M75.5 259.55h1.5M79.78 257.67h1.5M82.99 258.45h1.5M86.2 259.51h1.5M90.48 256.93h1.5M93.69 257.83h1.5M97.97 257.33h1.5M101.18 259.47h1.5M105.46 257.17h1.5M108.67 259.52h1.5M112.95 257.15h1.5M116.16 258.37h1.5M120.44 258.71h1.5M123.65 258.07h1.5M127.93 256.96h1.5M131.14 258.92h1.5M135.42 259.34h1.5M140.77 258.15h1.5" stroke="#000" stroke-width="1.5"/>
<polyline points="35.59,259.5 38.8,259.34 43.08,259.67 46.29,259.22 50.57,258.89 53.78,258.91 58.06,257.56 61.27,258.96 65.55,258.33 68.76,259.29 73.04,258.79 76.25,259.77 80.53,259.08 83.74,259.78 86.95,257.64 91.23,258.18 94.44,259.26 98.72,258.41 101.93,257.04 106.21,259.51 109.42,257.38 113.7,258.54 116.91,258.35 121.19,257.34 124.4,258.65 128.68,258.31 131.89,257.77 136.17,256.9 141.52,258.8" fill="none" stroke="#000" stroke-width="1.05" stroke-linejoin="round"/><path d="M34.84 259.5h1.5M38.05 259.34h1.5M42.33 259.67h1.5M45.54 259.22h1.5M49.82 258.89h1.5M53.03 258.91h1.5M57.31 257.56h1.5M60.52 258.96h1.5M64.8 258.33h1.5M68.01 259.29h1.5M72.29 258.79h1.5M75.5 259.77h1.5M79.78 259.08h1.5M82.99 259.78h1.5M86.2 257.64h1.5M90.48 258.18h1.5M93.69 259.26h1.5M97.97 258.41h1.5M101.18 257.04h1.5M105.46 259.51h1.5M108.67 257.38h1.5M112.95 258.54h1.5M116.16 258.35h1.5M120.44 257.34h1.5M123.65 258.65h1.5M127.93 258.31h1.5M131.14 257.77h1.5M135.42 256.9h1.5M140.77 258.8h1.5" stroke="#000" stroke-width="1.5"/>
<polyline points="35.59,255.51 38.8,255.72 43.08,256.41 46.29,256.58 50.57,257.45 53.78,257.22 58.06,257.4 61.27,255.4 65.55,256.85 68.76,257.12 73.04,257.36 76.25,255.1 80.53,255.02 83.74,255.61 86.95,256.77 91.23,256.89 94.44,256.74 98.72,256.24 101.93,257.14 106.21,256.28 109.42,256.83 113.7,254.75 116.91,254.71 121.19,255.98 124.4,256.88 128.68,254.73 131.89,256.69 136.17,256.55" fill="none" stroke="#000" stroke-width="1.05" stroke-linejoin="round"/><path d="M34.84 255.51h1.5M38.05 255.72h1.5M42.33 256.41h1.5M45.54 256.58h1.5M49.82 257.45h1.5M53.03 257.22h1.5M57.31 257.4h1.5M60.52 255.4h1.5M64.8 256.85h1.5M68.01 257.12h1.5M72.29 257.36h1.5M75.5 255.1h1.5M79.78 255.02h1.5M82.99 255.61h1.5M86.2 256.77h1.5M90.48 256.89h1.5M93.69 256.74h1.5M97.97 256.24h1.5M101.18 257.14h1.5M105.46 256.28h1.5M108.67 256.83h1.5M112.95 254.75h1.5M116.16 254.71h1.5M120.44 255.98h1.5M123.65 256.88h1.5M127.93 254.73h1.5M131.14 256.69h1.5M135.42 256.55h1.5" stroke="#000" stroke-width="1.5"/>
<polyline points="35.59,259.21 38.8,260.11 43.08,250.15 46.29,260.69 50.57,252.64 53.78,260.44 58.06,259.52 61.27,260.58 65.55,260.64 68.76,259.8 73.04,260.01 76.25,258.96 80.53,259.13 83.74,258.47 86.95,258.75 91.23,258.57 94.44,258.09 98.72,259.55 101.93,259.74 106.21,257.77 109.42,260.26 113.7,258.55 116.91,258.79 121.19,260.58 124.4,258.22 128.68,258.05 131.89,258.84 136.17,258.52 141.52,258.29" fill="none" stroke="#000" stroke-width="1.05" stroke-linejoin="round"/><path d="M34.84 259.21h1.5M38.05 260.11h1.5M42.33 250.15h1.5M45.54 260.69h1.5M49.82 252.64h1.5M53.03 260.44h1.5M57.31 259.52h1.5M60.52 260.58h1.5M64.8 260.64h1.5M68.01 259.8h1.5M72.29 260.01h1.5M75.5 258.96h1.5M79.78 259.13h1.5M82.99 258.47h1.5M86.2 258.75h1.5M90.48 258.57h1.5M93.69 258.09h1.5M97.97 259.55h1.5M101.18 259.74h1.5M105.46 257.77h1.5M108.67 260.26h1.5M112.95 258.55h1.5M116.16 258.79h1.5M120.44 260.58h1.5M123.65 258.22h1.5M127.93 258.05h1.5M131.14 258.84h1.5M135.42 258.52h1.5M140.77 258.29h1.5" stroke="#000" stroke-width="1.5"/>
<polyline points="35.59,258.63 38.8,258.69 43.08,257.7 46.29,257.79 50.57,257.73 53.78,258.45 58.06,257.53 61.27,258.16 65.55,258.13 68.76,259.51 73.04,260.1 76.25,259.8 80.53,259.12 83.74,259.88 86.95,257.7 91.23,258.53 94.44,258.32 98.72,258.33 101.93,258.16 106.21,258.73 109.42,260.18 113.7,257.82 116.91,257.96 121.19,258.69 124.4,258.6 128.68,258.23 131.89,260 136.17,258 141.52,259.44" fill="none" stroke="#000" stroke-width="1.05" stroke-linejoin="round"/><path d="M34.84 258.63h1.5M38.05 258.69h1.5M42.33 257.7h1.5M45.54 257.79h1.5M49.82 257.73h1.5M53.03 258.45h1.5M57.31 257.53h1.5M60.52 258.16h1.5M64.8 258.13h1.5M68.01 259.51h1.5M72.29 260.1h1.5M75.5 259.8h1.5M79.78 259.12h1.5M82.99 259.88h1.5M86.2 257.7h1.5M90.48 258.53h1.5M93.69 258.32h1.5M97.97 258.33h1.5M101.18 258.16h1.5M105.46 258.73h1.5M108.67 260.18h1.5M112.95 257.82h1.5M116.16 257.96h1.5M120.44 258.69h1.5M123.65 258.6h1.5M127.93 258.23h1.5M131.14 260h1.5M135.42 258h1.5M140.77 259.44h1.5" stroke="#000" stroke-width="1.5"/>
<polyline points="35.59,259.64 38.8,258.26 43.08,259.82 46.29,258.23 50.57,257.53 53.78,258.96 58.06,259.29 61.27,259.01 65.55,258.4 68.76,258.15 73.04,258.6 76.25,258.52 80.53,260.2 83.74,260 86.95,259.68 91.23,258.22 94.44,259.53 98.72,258.74 101.93,260.4 106.21,260.25 109.42,259.63 113.7,258.43 116.91,258.37 121.19,258.42 124.4,259.57 128.68,258.9 131.89,259.05" fill="none" stroke="#000" stroke-width="1.05" stroke-linejoin="round"/><path d="M34.84 259.64h1.5M38.05 258.26h1.5M42.33 259.82h1.5M45.54 258.23h1.5M49.82 257.53h1.5M53.03 258.96h1.5M57.31 259.29h1.5M60.52 259.01h1.5M64.8 258.4h1.5M68.01 258.15h1.5M72.29 258.6h1.5M75.5 258.52h1.5M79.78 260.2h1.5M82.99 260h1.5M86.2 259.68h1.5M90.48 258.22h1.5M93.69 259.53h1.5M97.97 258.74h1.5M101.18 260.4h1.5M105.46 260.25h1.5M108.67 259.63h1.5M112.95 258.43h1.5M116.16 258.37h1.5M120.44 258.42h1.5M123.65 259.57h1.5M127.93 258.9h1.5M131.14 259.05h1.5" stroke="#000" stroke-width="1.5"/>
<polyline points="35.59,258.38 38.8,256.06 43.08,251.78 46.29,258.92 50.57,250.56 53.78,256.53 58.06,256.09 61.27,257.64 65.55,258.17 68.76,258.35 73.04,256.16 76.25,258.35 80.53,257.24 83.74,258.55 86.95,257.41 91.23,256.14 94.44,258.58 98.72,256.53 101.93,257.46 106.21,256.33 109.42,256.88 113.7,258.29 116.91,256.3 121.19,257.53 124.4,258.9 128.68,258.96 131.89,257.51 136.17,257.63 141.52,258.07" fill="none" stroke="#000" stroke-width="1.05" stroke-linejoin="round"/><path d="M34.84 258.38h1.5M38.05 256.06h1.5M42.33 251.78h1.5M45.54 258.92h1.5M49.82 250.56h1.5M53.03 256.53h1.5M57.31 256.09h1.5M60.52 257.64h1.5M64.8 258.17h1.5M68.01 258.35h1.5M72.29 256.16h1.5M75.5 258.35h1.5M79.78 257.24h1.5M82.99 258.55h1.5M86.2 257.41h1.5M90.48 256.14h1.5M93.69 258.58h1.5M97.97 256.53h1.5M101.18 257.46h1.5M105.46 256.33h1.5M108.67 256.88h1.5M112.95 258.29h1.5M116.16 256.3h1.5M120.44 257.53h1.5M123.65 258.9h1.5M127.93 258.96h1.5M131.14 257.51h1.5M135.42 257.63h1.5M140.77 258.07h1.5" stroke="#000" stroke-width="1.5"/>
<polyline points="35.59,259.16 38.8,259.25 43.08,257.68 46.29,260.18 50.57,257.95 53.78,257.69 58.06,259.83 61.27,257.43 65.55,258.06 68.76,257.5 73.04,259.32 76.25,259.08 80.53,259.02 83.74,257.21 86.95,258.43 91.23,259.11 94.44,258.91 98.72,259.37 101.93,260.04 106.21,259.88 109.42,257.7 113.7,259.34 116.91,257.4 121.19,259.44 124.4,259.4 128.68,258.66 131.89,259.62 136.17,259.07 141.52,257.34" fill="none" stroke="#000" stroke-width="1.05" stroke-linejoin="round"/><path d="M34.84 259.16h1.5M38.05 259.25h1.5M42.33 257.68h1.5M45.54 260.18h1.5M49.82 257.95h1.5M53.03 257.69h1.5M57.31 259.83h1.5M60.52 257.43h1.5M64.8 258.06h1.5M68.01 257.5h1.5M72.29 259.32h1.5M75.5 259.08h1.5M79.78 259.02h1.5M82.99 257.21h1.5M86.2 258.43h1.5M90.48 259.11h1.5M93.69 258.91h1.5M97.97 259.37h1.5M101.18 260.04h1.5M105.46 259.88h1.5M108.67 257.7h1.5M112.95 259.34h1.5M116.16 257.4h1.5M120.44 259.44h1.5M123.65 259.4h1.5M127.93 258.66h1.5M131.14 259.62h1.5M135.42 259.07h1.5M140.77 257.34h1.5" stroke="#000" stroke-width="1.5"/>
<polyline points="35.59,255 38.8,255.54 43.08,254.7 46.29,254.61 50.57,255.78 53.78,255.27 58.06,257.27 61.27,255.24 65.55,256.07 68.76,255.17 73.04,255.5 76.25,256.56 80.53,257.27 83.74,254.66 86.95,257.04 91.23,256.01 94.44,256.39 98.72,256.53 101.93,255.22 106.21,254.51 109.42,256.64 113.7,255.46 116.91,256.52 121.19,255.76 124.4,256.24" fill="none" stroke="#000" stroke-width="1.05" stroke-linejoin="round"/><path d="M34.84 255h1.5M38.05 255.54h1.5M42.33 254.7h1.5M45.54 254.61h1.5M49.82 255.78h1.5M53.03 255.27h1.5M57.31 257.27h1.5M60.52 255.24h1.5M64.8 256.07h1.5M68.01 255.17h1.5M72.29 255.5h1.5M75.5 256.56h1.5M79.78 257.27h1.5M82.99 254.66h1.5M86.2 257.04h1.5M90.48 256.01h1.5M93.69 256.39h1.5M97.97 256.53h1.5M101.18 255.22h1.5M105.46 254.51h1.5M108.67 256.64h1.5M112.95 255.46h1.5M116.16 256.52h1.5M120.44 255.76h1.5M123.65 256.24h1.5" stroke="#000" stroke-width="1.5"/>
<polyline points="35.59,257.39 38.8,258.61 43.08,251.51 46.29,257.39 50.57,253.97 53.78,258.75 58.06,259.67 61.27,259.51 65.55,259.82 68.76,259.07 73.04,259.82 76.25,259.38 80.53,259.32 83.74,258.39 86.95,257.44 91.23,257.85 94.44,258.86 98.72,258.85 101.93,258.53 106.21,258.97 109.42,259.08 113.7,259.9 116.91,259.26 121.19,257.2 124.4,259.71 128.68,258.59 131.89,258.21 136.17,257.52 141.52,259.44" fill="none" stroke="#000" stroke-width="1.05" stroke-linejoin="round"/><path d="M34.84 257.39h1.5M38.05 258.61h1.5M42.33 251.51h1.5M45.54 257.39h1.5M49.82 253.97h1.5M53.03 258.75h1.5M57.31 259.67h1.5M60.52 259.51h1.5M64.8 259.82h1.5M68.01 259.07h1.5M72.29 259.82h1.5M75.5 259.38h1.5M79.78 259.32h1.5M82.99 258.39h1.5M86.2 257.44h1.5M90.48 257.85h1.5M93.69 258.86h1.5M97.97 258.85h1.5M101.18 258.53h1.5M105.46 258.97h1.5M108.67 259.08h1.5M112.95 259.9h1.5M116.16 259.26h1.5M120.44 257.2h1.5M123.65 259.71h1.5M127.93 258.59h1.5M131.14 258.21h1.5M135.42 257.52h1.5M140.77 259.44h1.5" stroke="#000" stroke-width="1.5"/>
<polyline points="35.59,258.96 38.8,258.51 43.08,258.37 46.29,256.86 50.57,257.17 53.78,257.1 58.06,259.64 61.27,259.61 65.55,257.59 68.76,257.03 73.04,258.29 76.25,257.95 80.53,259.7 83.74,258.54 86.95,256.94 91.23,257.24 94.44,257.15 98.72,256.8 101.93,258.96 106.21,259.38 109.42,259.24 113.7,258.15 116.91,257.67 121.19,256.9 124.4,257.55 128.68,257.77 131.89,257.42 136.17,258.34" fill="none" stroke="#000" stroke-width="1.05" stroke-linejoin="round"/><path d="M34.84 258.96h1.5M38.05 258.51h1.5M42.33 258.37h1.5M45.54 256.86h1.5M49.82 257.17h1.5M53.03 257.1h1.5M57.31 259.64h1.5M60.52 259.61h1.5M64.8 257.59h1.5M68.01 257.03h1.5M72.29 258.29h1.5M75.5 257.95h1.5M79.78 259.7h1.5M82.99 258.54h1.5M86.2 256.94h1.5M90.48 257.24h1.5M93.69 257.15h1.5M97.97 256.8h1.5M101.18 258.96h1.5M105.46 259.38h1.5M108.67 259.24h1.5M112.95 258.15h1.5M116.16 257.67h1.5M120.44 256.9h1.5M123.65 257.55h1.5M127.93 257.77h1.5M131.14 257.42h1.5M135.42 258.34h1.5" stroke="#000" stroke-width="1.5"/>
<polyline points="35.59,258.54 38.8,256.33 43.08,257.96 46.29,255.92 50.57,256.73 53.78,257.75 58.06,258.28 61.27,257.91 65.55,256.76 68.76,256.58 73.04,258.32 76.25,258.45 80.53,257.09 83.74,256.92 86.95,257.5 91.23,257.99 94.44,256.87 98.72,258.63 101.93,257.76 106.21,257.28 109.42,255.8 113.7,256.74 116.91,256.02 121.19,257.24 124.4,257.96 128.68,257.92 131.89,255.79 136.17,256.56 141.52,257.74" fill="none" stroke="#000" stroke-width="1.05" stroke-linejoin="round"/><path d="M34.84 258.54h1.5M38.05 256.33h1.5M42.33 257.96h1.5M45.54 255.92h1.5M49.82 256.73h1.5M53.03 257.75h1.5M57.31 258.28h1.5M60.52 257.91h1.5M64.8 256.76h1.5M68.01 256.58h1.5M72.29 258.32h1.5M75.5 258.45h1.5M79.78 257.09h1.5M82.99 256.92h1.5M86.2 257.5h1.5M90.48 257.99h1.5M93.69 256.87h1.5M97.97 258.63h1.5M101.18 257.76h1.5M105.46 257.28h1.5M108.67 255.8h1.5M112.95 256.74h1.5M116.16 256.02h1.5M120.44 257.24h1.5M123.65 257.96h1.5M127.93 257.92h1.5M131.14 255.79h1.5M135.42 256.56h1.5M140.77 257.74h1.5" stroke="#000" stroke-width="1.5"/>
<polyline points="35.59,259.38 38.8,259.86 43.08,249.42 46.29,257.87 50.57,251.65 53.78,260.53 58.06,259.62 61.27,259.38 65.55,258.6 68.76,260.04 73.04,258.26 76.25,258.43 80.53,259.13 83.74,260.02 86.95,257.74 91.23,259.7 94.44,258.19 98.72,259.94 101.93,259.97 106.21,258.36 109.42,259.75 113.7,257.79 116.91,259.15 121.19,260.07 124.4,259.97 128.68,259.39 131.89,258.65 136.17,257.8 141.52,260.19" fill="none" stroke="#000" stroke-width="1.05" stroke-linejoin="round"/><path d="M34.84 259.38h1.5M38.05 259.86h1.5M42.33 249.42h1.5M45.54 257.87h1.5M49.82 251.65h1.5M53.03 260.53h1.5M57.31 259.62h1.5M60.52 259.38h1.5M64.8 258.6h1.5M68.01 260.04h1.5M72.29 258.26h1.5M75.5 258.43h1.5M79.78 259.13h1.5M82.99 260.02h1.5M86.2 257.74h1.5M90.48 259.7h1.5M93.69 258.19h1.5M97.97 259.94h1.5M101.18 259.97h1.5M105.46 258.36h1.5M108.67 259.75h1.5M112.95 257.79h1.5M116.16 259.15h1.5M120.44 260.07h1.5M123.65 259.97h1.5M127.93 259.39h1.5M131.14 258.65h1.5M135.42 257.8h1.5M140.77 260.19h1.5" stroke="#000" stroke-width="1.5"/>
<polyline points="35.59,258.61 38.8,256.34 43.08,258.82 46.29,259.09 50.57,259.07 53.78,258.07 58.06,256.57 61.27,256.61 65.55,257.06 68.76,256.27 73.04,256.47 76.25,258.26 80.53,258.69 83.74,256.46 86.95,257.02 91.23,259.15 94.44,257.27 98.72,258.12 101.93,258.13 106.21,258.26 109.42,258.74 113.7,259.24 116.91,258.41 121.19,258.2 124.4,256.4 128.68,258.88 131.89,256.37 136.17,258.63 141.52,258.18" fill="none" stroke="#000" stroke-width="1.05" stroke-linejoin="round"/><path d="M34.84 258.61h1.5M38.05 256.34h1.5M42.33 258.82h1.5M45.54 259.09h1.5M49.82 259.07h1.5M53.03 258.07h1.5M57.31 256.57h1.5M60.52 256.61h1.5M64.8 257.06h1.5M68.01 256.27h1.5M72.29 256.47h1.5M75.5 258.26h1.5M79.78 258.69h1.5M82.99 256.46h1.5M86.2 257.02h1.5M90.48 259.15h1.5M93.69 257.27h1.5M97.97 258.12h1.5M101.18 258.13h1.5M105.46 258.26h1.5M108.67 258.74h1.5M112.95 259.24h1.5M116.16 258.41h1.5M120.44 258.2h1.5M123.65 256.4h1.5M127.93 258.88h1.5M131.14 256.37h1.5M135.42 258.63h1.5M140.77 258.18h1.5" stroke="#000" stroke-width="1.5"/>
<polyline points="35.59,255.2 38.8,256.36 43.08,257.5 46.29,256.24 50.57,256.54 53.78,254.91 58.06,257.08 61.27,256.57 65.55,254.98 68.76,257.56 73.04,256.43 76.25,255.23 80.53,255.37 83.74,257.53 86.95,257.55 91.23,257.46 94.44,254.91 98.72,256.89 101.93,255.42 106.21,254.97 109.42,256.64 113.7,256.84 116.91,254.8 121.19,255.81 124.4,256.87 128.68,255.52 131.89,256.71 136.17,256.83 141.52,257.64" fill="none" stroke="#000" stroke-width="1.05" stroke-linejoin="round"/><path d="M34.84 255.2h1.5M38.05 256.36h1.5M42.33 257.5h1.5M45.54 256.24h1.5M49.82 256.54h1.5M53.03 254.91h1.5M57.31 257.08h1.5M60.52 256.57h1.5M64.8 254.98h1.5M68.01 257.56h1.5M72.29 256.43h1.5M75.5 255.23h1.5M79.78 255.37h1.5M82.99 257.53h1.5M86.2 257.55h1.5M90.48 257.46h1.5M93.69 254.91h1.5M97.97 256.89h1.5M101.18 255.42h1.5M105.46 254.97h1.5M108.67 256.64h1.5M112.95 256.84h1.5M116.16 254.8h1.5M120.44 255.81h1.5M123.65 256.87h1.5M127.93 255.52h1.5M131.14 256.71h1.5M135.42 256.83h1.5M140.77 257.64h1.5" stroke="#000" stroke-width="1.5"/>
<polyline points="35.59,255.09 38.8,257.82 43.08,246.83 46.29,256.48 50.57,251.85 53.78,255.05 58.06,256.75 61.27,257.15 65.55,256.62 68.76,256.43 73.04,255.13 76.25,257.35 80.53,255.51 83.74,255.7 86.95,255.45 91.23,255.59 94.44,256.09 98.72,256.92 101.93,256.94 106.21,256.82 109.42,255.57 113.7,257.66 116.91,257.31 121.19,255.65 124.4,257.16 128.68,257.7 131.89,257.8 136.17,256.25 141.52,256.93" fill="none" stroke="#000" stroke-width="1.05" stroke-linejoin="round"/><path d="M34.84 255.09h1.5M38.05 257.82h1.5M42.33 246.83h1.5M45.54 256.48h1.5M49.82 251.85h1.5M53.03 255.05h1.5M57.31 256.75h1.5M60.52 257.15h1.5M64.8 256.62h1.5M68.01 256.43h1.5M72.29 255.13h1.5M75.5 257.35h1.5M79.78 255.51h1.5M82.99 255.7h1.5M86.2 255.45h1.5M90.48 255.59h1.5M93.69 256.09h1.5M97.97 256.92h1.5M101.18 256.94h1.5M105.46 256.82h1.5M108.67 255.57h1.5M112.95 257.66h1.5M116.16 257.31h1.5M120.44 255.65h1.5M123.65 257.16h1.5M127.93 257.7h1.5M131.14 257.8h1.5M135.42 256.25h1.5M140.77 256.93h1.5" stroke="#000" stroke-width="1.5"/>
<polyline points="35.05,253.76 38.8,242.58 42.01,232.65 46.29,224.58 50.57,216.51 54.64,208.44 58.06,218.25 60.84,218.25 64.48,206.58" fill="none" stroke="#e0141e" stroke-width="2.4" stroke-linejoin="round"/>
<path d="M34.4 195.4V269.9H146.4" fill="none" stroke="#000" stroke-width="1.1"/>
<path d="M32 269.9H34.4M32 257.48H34.4M32 245.07H34.4M32 232.65H34.4M32 220.23H34.4M32 207.82H34.4M32 195.4H34.4M38.8 269.9V272.5M49.5 269.9V272.5M60.2 269.9V272.5M70.9 269.9V272.5M81.6 269.9V272.5M92.3 269.9V272.5M103 269.9V272.5M113.7 269.9V272.5M124.4 269.9V272.5M135.1 269.9V272.5M145.8 269.9V272.5" stroke="#000" stroke-width="1"/>
<text x="28.8" y="272.5" text-anchor="end" class="ty">10</text><text x="29.4" y="270.1" class="ts">2</text>
<text x="28.8" y="260.08" text-anchor="end" class="ty">10</text><text x="29.4" y="257.68" class="ts">3</text>
<text x="28.8" y="247.67" text-anchor="end" class="ty">10</text><text x="29.4" y="245.27" class="ts">4</text>
<text x="28.8" y="235.25" text-anchor="end" class="ty">10</text><text x="29.4" y="232.85" class="ts">5</text>
<text x="28.8" y="222.83" text-anchor="end" class="ty">10</text><text x="29.4" y="220.43" class="ts">6</text>
<text x="28.8" y="210.42" text-anchor="end" class="ty">10</text><text x="29.4" y="208.02" class="ts">7</text>
<text x="28.8" y="198" text-anchor="end" class="ty">10</text><text x="29.4" y="195.6" class="ts">8</text>
<text x="38.8" y="279.1" text-anchor="middle" class="tl">10</text>
<text x="49.5" y="279.1" text-anchor="middle" class="tl">20</text>
<text x="60.2" y="279.1" text-anchor="middle" class="tl">30</text>
<text x="70.9" y="279.1" text-anchor="middle" class="tl">40</text>
<text x="81.6" y="279.1" text-anchor="middle" class="tl">50</text>
<text x="92.3" y="279.1" text-anchor="middle" class="tl">60</text>
<text x="103" y="279.1" text-anchor="middle" class="tl">70</text>
<text x="113.7" y="279.1" text-anchor="middle" class="tl">80</text>
<text x="124.4" y="279.1" text-anchor="middle" class="tl">90</text>
<text x="135.1" y="279.1" text-anchor="middle" class="tl">100</text>
<text x="145.8" y="279.1" text-anchor="middle" class="tl">110</text>
<text x="145.3" y="268.3" text-anchor="end" class="fr">9/24</text>
<polyline points="180.39,251.17 183.6,240.46 187.88,227.33 191.09,224.33 195.37,219.37 198.58,214.42 202.86,206.58 206.07,206.2 210.35,212.78 213.56,207.82 217.84,215.27 221.05,220.23 225.22,206.58 228.65,215.27" fill="none" stroke="#000" stroke-width="1.05" stroke-linejoin="round"/><path d="M179.64 251.17h1.5M182.85 240.46h1.5M187.13 227.33h1.5M190.34 224.33h1.5M194.62 219.37h1.5M197.83 214.42h1.5M202.11 206.58h1.5M205.32 206.2h1.5M209.6 212.78h1.5M212.81 207.82h1.5M217.09 215.27h1.5M220.3 220.23h1.5M224.47 206.58h1.5M227.9 215.27h1.5" stroke="#000" stroke-width="1.5"/>
<polyline points="180.39,252.18 183.6,243.59 187.88,233.03 191.09,224.16 195.37,217.19 198.58,212.3 202.86,207.52 206.07,206.9 210.35,205.33 213.45,203.35 217.84,207.82 220.84,200.49 225.22,220.73 231.54,231.91 239.03,222.59 247.26,244.07 253.9,254.38" fill="none" stroke="#000" stroke-width="1.05" stroke-linejoin="round"/><path d="M179.64 252.18h1.5M182.85 243.59h1.5M187.13 233.03h1.5M190.34 224.16h1.5M194.62 217.19h1.5M197.83 212.3h1.5M202.11 207.52h1.5M205.32 206.9h1.5M209.6 205.33h1.5M212.7 203.35h1.5M217.09 207.82h1.5M220.09 200.49h1.5M224.47 220.73h1.5M230.79 231.91h1.5M238.28 222.59h1.5M246.51 244.07h1.5M253.15 254.38h1.5" stroke="#000" stroke-width="1.5"/>
<polyline points="180.39,252.35 183.6,245.96 187.88,230.07 191.09,225.82 195.37,218.39 198.58,215.29 202.86,211.31 206.07,214.65 210.35,214.35 213.56,206.58 220.3,198.63 224.26,204.09 228.54,210.3 231.75,230.17 239.24,241.34 249.19,248.79 261.28,231.91 268.77,230.04 286.53,230.91" fill="none" stroke="#000" stroke-width="1.05" stroke-linejoin="round"/><path d="M179.64 252.35h1.5M182.85 245.96h1.5M187.13 230.07h1.5M190.34 225.82h1.5M194.62 218.39h1.5M197.83 215.29h1.5M202.11 211.31h1.5M205.32 214.65h1.5M209.6 214.35h1.5M212.81 206.58h1.5M219.55 198.63h1.5M223.51 204.09h1.5M227.79 210.3h1.5M231 230.17h1.5M238.49 241.34h1.5M248.44 248.79h1.5M260.53 231.91h1.5M268.02 230.04h1.5M285.78 230.91h1.5" stroke="#000" stroke-width="1.5"/>
<polyline points="180.39,253.91 183.6,246.53 187.88,230.19 191.09,225.11 195.37,220.97 198.58,217.28 202.86,212.84 206.07,216.45 210.35,218.51 213.56,212.78 217.84,206.58 221.05,201.61 225.33,217.75 228.54,226.44 231.75,216.51" fill="none" stroke="#000" stroke-width="1.05" stroke-linejoin="round"/><path d="M179.64 253.91h1.5M182.85 246.53h1.5M187.13 230.19h1.5M190.34 225.11h1.5M194.62 220.97h1.5M197.83 217.28h1.5M202.11 212.84h1.5M205.32 216.45h1.5M209.6 218.51h1.5M212.81 212.78h1.5M217.09 206.58h1.5M220.3 201.61h1.5M224.58 217.75h1.5M227.79 226.44h1.5M231 216.51h1.5" stroke="#000" stroke-width="1.5"/>
<polyline points="180.39,251.81 183.6,243.14 187.88,230.32 191.09,229.82 195.37,220.73 198.58,217.86 202.86,217.7 206.07,217.15 210.35,223.66 213.56,205.33 217.84,210.3 221.05,217.75 225.33,225.2 228.54,233.89 231.75,240.1 236.03,246.31" fill="none" stroke="#000" stroke-width="1.05" stroke-linejoin="round"/><path d="M179.64 251.81h1.5M182.85 243.14h1.5M187.13 230.32h1.5M190.34 229.82h1.5M194.62 220.73h1.5M197.83 217.86h1.5M202.11 217.7h1.5M205.32 217.15h1.5M209.6 223.66h1.5M212.81 205.33h1.5M217.09 210.3h1.5M220.3 217.75h1.5M224.58 225.2h1.5M227.79 233.89h1.5M231 240.1h1.5M235.28 246.31h1.5" stroke="#000" stroke-width="1.5"/>
<polyline points="180.39,253.73 183.6,247.46 187.88,237.21 191.09,224.49 195.37,224.58 198.58,222 202.86,226.15 206.07,222.47 210.35,207.82 213.56,210.3 217.84,204.09 221.05,207.82 224.26,212.78 228.54,207.82 231.75,210.3" fill="none" stroke="#000" stroke-width="1.05" stroke-linejoin="round"/><path d="M179.64 253.73h1.5M182.85 247.46h1.5M187.13 237.21h1.5M190.34 224.49h1.5M194.62 224.58h1.5M197.83 222h1.5M202.11 226.15h1.5M205.32 222.47h1.5M209.6 207.82h1.5M212.81 210.3h1.5M217.09 204.09h1.5M220.3 207.82h1.5M223.51 212.78h1.5M227.79 207.82h1.5M231 210.3h1.5" stroke="#000" stroke-width="1.5"/>
<polyline points="180.39,253.15 183.6,246.76 187.88,233.76 191.09,225.85 195.37,231.86 198.58,228.21 202.86,228.03 206.07,231.03 210.35,209.06 213.56,204.09 217.84,211.54 221.05,218.99 225.33,228.93 228.54,238.86 236.03,242.58 239.24,247.55" fill="none" stroke="#000" stroke-width="1.05" stroke-linejoin="round"/><path d="M179.64 253.15h1.5M182.85 246.76h1.5M187.13 233.76h1.5M190.34 225.85h1.5M194.62 231.86h1.5M197.83 228.21h1.5M202.11 228.03h1.5M205.32 231.03h1.5M209.6 209.06h1.5M212.81 204.09h1.5M217.09 211.54h1.5M220.3 218.99h1.5M224.58 228.93h1.5M227.79 238.86h1.5M235.28 242.58h1.5M238.49 247.55h1.5" stroke="#000" stroke-width="1.5"/>
<polyline points="180.39,253.45 183.6,248.15 187.88,239.42 191.09,234.48 195.37,231.91 198.58,231.52 202.86,234.86 206.07,236.29 210.35,233.94 213.56,202.85 217.84,205.33 221.05,214.03 225.33,209.06 228.54,220.23 231.75,227.68" fill="none" stroke="#000" stroke-width="1.05" stroke-linejoin="round"/><path d="M179.64 253.45h1.5M182.85 248.15h1.5M187.13 239.42h1.5M190.34 234.48h1.5M194.62 231.91h1.5M197.83 231.52h1.5M202.11 234.86h1.5M205.32 236.29h1.5M209.6 233.94h1.5M212.81 202.85h1.5M217.09 205.33h1.5M220.3 214.03h1.5M224.58 209.06h1.5M227.79 220.23h1.5M231 227.68h1.5" stroke="#000" stroke-width="1.5"/>
<polyline points="180.39,256.24 183.6,245.64 187.88,238.79 191.09,242.04 195.37,236.24 198.58,239 202.86,233.71 206.07,240.49 210.35,235.38 213.56,228.07 217.84,234.95 221.05,240.82 225.22,233.43 232.39,237.88 245.55,235.9 250.05,245.4 258.5,249.6 269.2,249.51 286.32,246.48" fill="none" stroke="#000" stroke-width="1.05" stroke-linejoin="round"/><path d="M179.64 256.24h1.5M182.85 245.64h1.5M187.13 238.79h1.5M190.34 242.04h1.5M194.62 236.24h1.5M197.83 239h1.5M202.11 233.71h1.5M205.32 240.49h1.5M209.6 235.38h1.5M212.81 228.07h1.5M217.09 234.95h1.5M220.3 240.82h1.5M224.47 233.43h1.5M231.64 237.88h1.5M244.8 235.9h1.5M249.3 245.4h1.5M257.75 249.6h1.5M268.45 249.51h1.5M285.57 246.48h1.5" stroke="#000" stroke-width="1.5"/>
<polyline points="180.39,257.48 183.6,249.49 187.88,241.09 191.09,245.6 195.37,240.41 198.58,242.47 202.86,235.77 206.07,243.09 210.35,246.19 213.56,239.25 217.84,246.17 221.05,249.39 225.33,242.33 231.75,246.59 239.24,246.36 251.01,248.52 265.99,246.12 286.32,247.07" fill="none" stroke="#000" stroke-width="1.05" stroke-linejoin="round"/><path d="M179.64 257.48h1.5M182.85 249.49h1.5M187.13 241.09h1.5M190.34 245.6h1.5M194.62 240.41h1.5M197.83 242.47h1.5M202.11 235.77h1.5M205.32 243.09h1.5M209.6 246.19h1.5M212.81 239.25h1.5M217.09 246.17h1.5M220.3 249.39h1.5M224.58 242.33h1.5M231 246.59h1.5M238.49 246.36h1.5M250.26 248.52h1.5M265.24 246.12h1.5M285.57 247.07h1.5" stroke="#000" stroke-width="1.5"/>
<polyline points="180.39,256.24 183.6,248.56 187.88,245.27 191.09,248.64 195.37,242.16 198.58,245.09 202.86,251.26 206.07,244.7 210.35,249.18 217.84,246.3 225.33,251.09 231.75,248.2 239.24,250.59 246.73,253.11 258.5,254.92 273.48,254.41 286.32,252.85" fill="none" stroke="#000" stroke-width="1.05" stroke-linejoin="round"/><path d="M179.64 256.24h1.5M182.85 248.56h1.5M187.13 245.27h1.5M190.34 248.64h1.5M194.62 242.16h1.5M197.83 245.09h1.5M202.11 251.26h1.5M205.32 244.7h1.5M209.6 249.18h1.5M217.09 246.3h1.5M224.58 251.09h1.5M231 248.2h1.5M238.49 250.59h1.5M245.98 253.11h1.5M257.75 254.92h1.5M272.73 254.41h1.5M285.57 252.85h1.5" stroke="#000" stroke-width="1.5"/>
<polyline points="180.39,257.48 183.6,249.88 187.88,245.97 191.09,241.21 195.37,244.99 198.58,241.17 202.86,247.6 206.07,252.61 210.35,246.28 213.56,251.61 221.05,247.59 228.54,252.16 236.03,250.31 251.01,253.53 269.2,251.04 286.32,252.72" fill="none" stroke="#000" stroke-width="1.05" stroke-linejoin="round"/><path d="M179.64 257.48h1.5M182.85 249.88h1.5M187.13 245.97h1.5M190.34 241.21h1.5M194.62 244.99h1.5M197.83 241.17h1.5M202.11 247.6h1.5M205.32 252.61h1.5M209.6 246.28h1.5M212.81 251.61h1.5M220.3 247.59h1.5M227.79 252.16h1.5M235.28 250.31h1.5M250.26 253.53h1.5M268.45 251.04h1.5M285.57 252.72h1.5" stroke="#000" stroke-width="1.5"/>
<polyline points="180.39,256.86 183.6,246.66 187.88,236.33 191.09,231.42 195.37,240.04 198.58,246.12 202.86,241.72 206.07,246.24 210.35,250.47 217.84,247.71 225.33,250.98 231.75,251.68 239.24,253.52" fill="none" stroke="#000" stroke-width="1.05" stroke-linejoin="round"/><path d="M179.64 256.86h1.5M182.85 246.66h1.5M187.13 236.33h1.5M190.34 231.42h1.5M194.62 240.04h1.5M197.83 246.12h1.5M202.11 241.72h1.5M205.32 246.24h1.5M209.6 250.47h1.5M217.09 247.71h1.5M224.58 250.98h1.5M231 251.68h1.5M238.49 253.52h1.5" stroke="#000" stroke-width="1.5"/>
<polyline points="180.39,257.48 183.6,251.74 187.88,239.87 191.09,232.93 195.37,230.65 198.58,233.87 202.86,229.11 206.07,232.28 210.35,237.43 213.56,242.11 217.84,238.34 221.05,245.36 228.54,249.73 236.03,254.03 243.52,255.65" fill="none" stroke="#000" stroke-width="1.05" stroke-linejoin="round"/><path d="M179.64 257.48h1.5M182.85 251.74h1.5M187.13 239.87h1.5M190.34 232.93h1.5M194.62 230.65h1.5M197.83 233.87h1.5M202.11 229.11h1.5M205.32 232.28h1.5M209.6 237.43h1.5M212.81 242.11h1.5M217.09 238.34h1.5M220.3 245.36h1.5M227.79 249.73h1.5M235.28 254.03h1.5M242.77 255.65h1.5" stroke="#000" stroke-width="1.5"/>
<polyline points="180.39,256.24 183.6,252.65 187.88,246.46 191.09,251.22 195.37,246.01 198.58,251.3 202.86,249.45 206.07,251.86 210.35,248.1 217.84,252.62 225.33,254.55 231.75,251.34 239.24,254.73" fill="none" stroke="#000" stroke-width="1.05" stroke-linejoin="round"/><path d="M179.64 256.24h1.5M182.85 252.65h1.5M187.13 246.46h1.5M190.34 251.22h1.5M194.62 246.01h1.5M197.83 251.3h1.5M202.11 249.45h1.5M205.32 251.86h1.5M209.6 248.1h1.5M217.09 252.62h1.5M224.58 254.55h1.5M231 251.34h1.5M238.49 254.73h1.5" stroke="#000" stroke-width="1.5"/>
<polyline points="180.39,256.86 183.6,250.18 187.88,239.12 191.09,235.41 195.37,225.42 198.58,220.2 202.86,228.15 206.07,230.9 210.35,237.93 213.56,229.3 217.84,235.34 221.05,242.54 225.33,249.21 231.75,250.02" fill="none" stroke="#000" stroke-width="1.05" stroke-linejoin="round"/><path d="M179.64 256.86h1.5M182.85 250.18h1.5M187.13 239.12h1.5M190.34 235.41h1.5M194.62 225.42h1.5M197.83 220.2h1.5M202.11 228.15h1.5M205.32 230.9h1.5M209.6 237.93h1.5M212.81 229.3h1.5M217.09 235.34h1.5M220.3 242.54h1.5M224.58 249.21h1.5M231 250.02h1.5" stroke="#000" stroke-width="1.5"/>
<polyline points="180.39,257.48 183.6,254.06 187.88,248.91 191.09,247.21 195.37,249.15 198.58,245.08 202.86,249.46 206.07,252.98 210.35,250.79 217.84,252.56 225.33,255.02 236.03,255.11" fill="none" stroke="#000" stroke-width="1.05" stroke-linejoin="round"/><path d="M179.64 257.48h1.5M182.85 254.06h1.5M187.13 248.91h1.5M190.34 247.21h1.5M194.62 249.15h1.5M197.83 245.08h1.5M202.11 249.46h1.5M205.32 252.98h1.5M209.6 250.79h1.5M217.09 252.56h1.5M224.58 255.02h1.5M235.28 255.11h1.5" stroke="#000" stroke-width="1.5"/>
<polyline points="180.39,256.72 183.6,258.57 187.88,256.96 191.09,251.58 195.37,252.77 198.58,256.65 202.86,258.77 206.07,258.61 210.35,257.88 213.56,258.44 217.84,259.28 221.05,249.06 225.33,258.91 228.54,256.6 231.75,257.37 236.03,256.72 239.24,258.89 243.52,257.05 246.73,259.05 251.01,257.81 254.22,257.49 258.5,258.32 261.71,256.79 265.99,257.74 269.2,257.66 273.48,256.76 276.69,259.08 280.97,256.43 286.32,257.51" fill="none" stroke="#000" stroke-width="1.05" stroke-linejoin="round"/><path d="M179.64 256.72h1.5M182.85 258.57h1.5M187.13 256.96h1.5M190.34 251.58h1.5M194.62 252.77h1.5M197.83 256.65h1.5M202.11 258.77h1.5M205.32 258.61h1.5M209.6 257.88h1.5M212.81 258.44h1.5M217.09 259.28h1.5M220.3 249.06h1.5M224.58 258.91h1.5M227.79 256.6h1.5M231 257.37h1.5M235.28 256.72h1.5M238.49 258.89h1.5M242.77 257.05h1.5M245.98 259.05h1.5M250.26 257.81h1.5M253.47 257.49h1.5M257.75 258.32h1.5M260.96 256.79h1.5M265.24 257.74h1.5M268.45 257.66h1.5M272.73 256.76h1.5M275.94 259.08h1.5M280.22 256.43h1.5M285.57 257.51h1.5" stroke="#000" stroke-width="1.5"/>
<polyline points="180.39,258.19 183.6,257.74 187.88,256.59 191.09,255.57 195.37,257.54 198.58,251.7 202.86,252.85 206.07,251.47 210.35,255.83 213.56,255.66 217.84,255.76 221.05,256.24 225.33,256.2 228.54,257.77 231.75,257.56 236.03,256.56 239.24,257.18 243.52,257.34 246.73,258.29 251.01,256.97" fill="none" stroke="#000" stroke-width="1.05" stroke-linejoin="round"/><path d="M179.64 258.19h1.5M182.85 257.74h1.5M187.13 256.59h1.5M190.34 255.57h1.5M194.62 257.54h1.5M197.83 251.7h1.5M202.11 252.85h1.5M205.32 251.47h1.5M209.6 255.83h1.5M212.81 255.66h1.5M217.09 255.76h1.5M220.3 256.24h1.5M224.58 256.2h1.5M227.79 257.77h1.5M231 257.56h1.5M235.28 256.56h1.5M238.49 257.18h1.5M242.77 257.34h1.5M245.98 258.29h1.5M250.26 256.97h1.5" stroke="#000" stroke-width="1.5"/>
<polyline points="180.39,258.46 183.6,253.1 187.88,257.79 191.09,257.77 195.37,258.92 198.58,257.67 202.86,258.11 206.07,259.12 210.35,256.73 213.56,258.8 217.84,253.74 221.05,251.55 225.33,257.62 228.54,256.93 231.75,257.19 236.03,258.33 239.24,258.74 243.52,259.49 246.73,257.6 251.01,257.85 254.22,258.48 258.5,257.6 261.71,258.2 265.99,256.73 269.2,257.34 273.48,258.78 276.69,256.83 280.97,259.39 286.32,257.94" fill="none" stroke="#000" stroke-width="1.05" stroke-linejoin="round"/><path d="M179.64 258.46h1.5M182.85 253.1h1.5M187.13 257.79h1.5M190.34 257.77h1.5M194.62 258.92h1.5M197.83 257.67h1.5M202.11 258.11h1.5M205.32 259.12h1.5M209.6 256.73h1.5M212.81 258.8h1.5M217.09 253.74h1.5M220.3 251.55h1.5M224.58 257.62h1.5M227.79 256.93h1.5M231 257.19h1.5M235.28 258.33h1.5M238.49 258.74h1.5M242.77 259.49h1.5M245.98 257.6h1.5M250.26 257.85h1.5M253.47 258.48h1.5M257.75 257.6h1.5M260.96 258.2h1.5M265.24 256.73h1.5M268.45 257.34h1.5M272.73 258.78h1.5M275.94 256.83h1.5M280.22 259.39h1.5M285.57 257.94h1.5" stroke="#000" stroke-width="1.5"/>
<polyline points="180.39,257.14 183.6,258.51 187.88,257.87 191.09,253.11 195.37,249.95 198.58,257.17 202.86,257.86 206.07,248.1 210.35,257.58 213.56,258.91 217.84,257.23 221.05,256.14 225.33,256.94 228.54,257.68 231.75,257.5 236.03,257.98 239.24,257.8 243.52,256.38 246.73,258.86 251.01,257.15 254.22,258.58 258.5,256.13 261.71,258.32 265.99,257.18 269.2,258.73" fill="none" stroke="#000" stroke-width="1.05" stroke-linejoin="round"/><path d="M179.64 257.14h1.5M182.85 258.51h1.5M187.13 257.87h1.5M190.34 253.11h1.5M194.62 249.95h1.5M197.83 257.17h1.5M202.11 257.86h1.5M205.32 248.1h1.5M209.6 257.58h1.5M212.81 258.91h1.5M217.09 257.23h1.5M220.3 256.14h1.5M224.58 256.94h1.5M227.79 257.68h1.5M231 257.5h1.5M235.28 257.98h1.5M238.49 257.8h1.5M242.77 256.38h1.5M245.98 258.86h1.5M250.26 257.15h1.5M253.47 258.58h1.5M257.75 256.13h1.5M260.96 258.32h1.5M265.24 257.18h1.5M268.45 258.73h1.5" stroke="#000" stroke-width="1.5"/>
<polyline points="180.39,257.21 183.6,248.86 187.88,256.86 191.09,255.89 195.37,258.12 198.58,251.05 202.86,258.72 206.07,257.99 210.35,258.06 213.56,256.55 217.84,255.95 221.05,256.54 225.33,250.32 228.54,256.15 231.75,257.79 236.03,258.06" fill="none" stroke="#000" stroke-width="1.05" stroke-linejoin="round"/><path d="M179.64 257.21h1.5M182.85 248.86h1.5M187.13 256.86h1.5M190.34 255.89h1.5M194.62 258.12h1.5M197.83 251.05h1.5M202.11 258.72h1.5M205.32 257.99h1.5M209.6 258.06h1.5M212.81 256.55h1.5M217.09 255.95h1.5M220.3 256.54h1.5M224.58 250.32h1.5M227.79 256.15h1.5M231 257.79h1.5M235.28 258.06h1.5" stroke="#000" stroke-width="1.5"/>
<polyline points="180.39,256.83 183.6,255.98 187.88,256.44 191.09,257.22 195.37,257.51 198.58,256.28 202.86,257.9 206.07,255.42 210.35,257.71 213.56,248.43 217.84,257.82 221.05,248.55 225.33,249.43 228.54,257.71 231.75,258.05 236.03,258.01 239.24,256.07 243.52,256.25 246.73,256.06 251.01,255.94 254.22,257.94 258.5,256.38 261.71,257.05 265.99,255.7 269.2,255.69 273.48,255.48 276.69,257.94 280.97,255.55 286.32,255.41" fill="none" stroke="#000" stroke-width="1.05" stroke-linejoin="round"/><path d="M179.64 256.83h1.5M182.85 255.98h1.5M187.13 256.44h1.5M190.34 257.22h1.5M194.62 257.51h1.5M197.83 256.28h1.5M202.11 257.9h1.5M205.32 255.42h1.5M209.6 257.71h1.5M212.81 248.43h1.5M217.09 257.82h1.5M220.3 248.55h1.5M224.58 249.43h1.5M227.79 257.71h1.5M231 258.05h1.5M235.28 258.01h1.5M238.49 256.07h1.5M242.77 256.25h1.5M245.98 256.06h1.5M250.26 255.94h1.5M253.47 257.94h1.5M257.75 256.38h1.5M260.96 257.05h1.5M265.24 255.7h1.5M268.45 255.69h1.5M272.73 255.48h1.5M275.94 257.94h1.5M280.22 255.55h1.5M285.57 255.41h1.5" stroke="#000" stroke-width="1.5"/>
<polyline points="179.85,252.52 183.6,242.58 186.81,232.65 190.02,223.96 194.3,217.75 197.51,212.78 201.25,206.58" fill="none" stroke="#e0141e" stroke-width="2.4" stroke-linejoin="round"/>
<path d="M179.2 195.4V269.9H291.2" fill="none" stroke="#000" stroke-width="1.1"/>
<path d="M176.8 269.9H179.2M176.8 257.48H179.2M176.8 245.07H179.2M176.8 232.65H179.2M176.8 220.23H179.2M176.8 207.82H179.2M176.8 195.4H179.2M183.6 269.9V272.5M194.3 269.9V272.5M205 269.9V272.5M215.7 269.9V272.5M226.4 269.9V272.5M237.1 269.9V272.5M247.8 269.9V272.5M258.5 269.9V272.5M269.2 269.9V272.5M279.9 269.9V272.5M290.6 269.9V272.5" stroke="#000" stroke-width="1"/>
<text x="173.6" y="272.5" text-anchor="end" class="ty">10</text><text x="174.2" y="270.1" class="ts">2</text>
<text x="173.6" y="260.08" text-anchor="end" class="ty">10</text><text x="174.2" y="257.68" class="ts">3</text>
<text x="173.6" y="247.67" text-anchor="end" class="ty">10</text><text x="174.2" y="245.27" class="ts">4</text>
<text x="173.6" y="235.25" text-anchor="end" class="ty">10</text><text x="174.2" y="232.85" class="ts">5</text>
<text x="173.6" y="222.83" text-anchor="end" class="ty">10</text><text x="174.2" y="220.43" class="ts">6</text>
<text x="173.6" y="210.42" text-anchor="end" class="ty">10</text><text x="174.2" y="208.02" class="ts">7</text>
<text x="173.6" y="198" text-anchor="end" class="ty">10</text><text x="174.2" y="195.6" class="ts">8</text>
<text x="183.6" y="279.1" text-anchor="middle" class="tl">10</text>
<text x="194.3" y="279.1" text-anchor="middle" class="tl">20</text>
<text x="205" y="279.1" text-anchor="middle" class="tl">30</text>
<text x="215.7" y="279.1" text-anchor="middle" class="tl">40</text>
<text x="226.4" y="279.1" text-anchor="middle" class="tl">50</text>
<text x="237.1" y="279.1" text-anchor="middle" class="tl">60</text>
<text x="247.8" y="279.1" text-anchor="middle" class="tl">70</text>
<text x="258.5" y="279.1" text-anchor="middle" class="tl">80</text>
<text x="269.2" y="279.1" text-anchor="middle" class="tl">90</text>
<text x="279.9" y="279.1" text-anchor="middle" class="tl">100</text>
<text x="290.6" y="279.1" text-anchor="middle" class="tl">110</text>
<text x="290.3" y="268.3" text-anchor="end" class="fr">7/23</text>
<polyline points="325.29,257.48 328.5,253.76 332.78,247.55 335.99,242.58 340.27,237.62 343.48,240.1 347.76,233.89 350.97,228.93 355.25,222.72 358.46,216.51 364.77,204.71 367.02,216.51 369.27,204.71 371.73,217.75 376.65,211.29 383.93,216.14 391.95,209.56 398.48,207.94 405.43,211.42 413.78,207.82 421.16,200.37" fill="none" stroke="#000" stroke-width="1.05" stroke-linejoin="round"/><path d="M324.54 257.48h1.5M327.75 253.76h1.5M332.03 247.55h1.5M335.24 242.58h1.5M339.52 237.62h1.5M342.73 240.1h1.5M347.01 233.89h1.5M350.22 228.93h1.5M354.5 222.72h1.5M357.71 216.51h1.5M364.02 204.71h1.5M366.27 216.51h1.5M368.52 204.71h1.5M370.98 217.75h1.5M375.9 211.29h1.5M383.18 216.14h1.5M391.2 209.56h1.5M397.73 207.94h1.5M404.68 211.42h1.5M413.03 207.82h1.5M420.41 200.37h1.5" stroke="#000" stroke-width="1.5"/>
<polyline points="325.29,256.24 328.5,251.27 332.78,245.07 335.99,247.55 340.27,241.34 343.48,237.62 347.76,240.1 350.97,235.13 357.39,230.17 362.74,232.65 370.23,227.68 376.65,225.2 383.93,224.33 391.95,219.36 398.91,225.32 406.4,212.29 413.78,200.99" fill="none" stroke="#000" stroke-width="1.05" stroke-linejoin="round"/><path d="M324.54 256.24h1.5M327.75 251.27h1.5M332.03 245.07h1.5M335.24 247.55h1.5M339.52 241.34h1.5M342.73 237.62h1.5M347.01 240.1h1.5M350.22 235.13h1.5M356.64 230.17h1.5M361.99 232.65h1.5M369.48 227.68h1.5M375.9 225.2h1.5M383.18 224.33h1.5M391.2 219.36h1.5M398.16 225.32h1.5M405.65 212.29h1.5M413.03 200.99h1.5" stroke="#000" stroke-width="1.5"/>
<polyline points="325.29,257.48 328.5,255 332.78,250.03 335.99,245.07 340.27,240.1 346.15,229.05 350.97,221.47 356.32,212.78 360.6,220.23 364.88,209.06 368.09,217.75 373.44,210.3 380.93,215.27 388.42,220.23 395.91,216.51 403.4,214.03 414.74,210.42 422.12,211.42 430.47,213.16" fill="none" stroke="#000" stroke-width="1.05" stroke-linejoin="round"/><path d="M324.54 257.48h1.5M327.75 255h1.5M332.03 250.03h1.5M335.24 245.07h1.5M339.52 240.1h1.5M345.4 229.05h1.5M350.22 221.47h1.5M355.57 212.78h1.5M359.85 220.23h1.5M364.13 209.06h1.5M367.34 217.75h1.5M372.69 210.3h1.5M380.18 215.27h1.5M387.67 220.23h1.5M395.16 216.51h1.5M402.65 214.03h1.5M413.99 210.42h1.5M421.38 211.42h1.5M429.72 213.16h1.5" stroke="#000" stroke-width="1.5"/>
<polyline points="325.29,256.86 328.5,252.52 332.78,246.31 335.99,241.34 340.27,246.31 343.48,242.58 347.76,238.86 350.97,242.58 355.25,235.13 362.74,230.17 370.23,235.13 376.65,232.65 384.14,231.41 391.42,229.05 398.91,241.22 406.4,239.35 409.18,233.77 415.7,214.15 421.16,202.97" fill="none" stroke="#000" stroke-width="1.05" stroke-linejoin="round"/><path d="M324.54 256.86h1.5M327.75 252.52h1.5M332.03 246.31h1.5M335.24 241.34h1.5M339.52 246.31h1.5M342.73 242.58h1.5M347.01 238.86h1.5M350.22 242.58h1.5M354.5 235.13h1.5M361.99 230.17h1.5M369.48 235.13h1.5M375.9 232.65h1.5M383.39 231.41h1.5M390.67 229.05h1.5M398.16 241.22h1.5M405.65 239.35h1.5M408.43 233.77h1.5M414.95 214.15h1.5M420.41 202.97h1.5" stroke="#000" stroke-width="1.5"/>
<polyline points="325.29,257.48 328.5,253.76 332.78,248.79 335.99,243.82 340.27,238.86 343.48,241.34 347.76,236.38 350.97,231.41 355.25,225.2 358.46,220.23 362.74,214.03 365.95,209.06 370.23,206.58 373.44,220.23 376.65,227.68 384.89,234.64 389.6,247.8 397.94,249.66" fill="none" stroke="#000" stroke-width="1.05" stroke-linejoin="round"/><path d="M324.54 257.48h1.5M327.75 253.76h1.5M332.03 248.79h1.5M335.24 243.82h1.5M339.52 238.86h1.5M342.73 241.34h1.5M347.01 236.38h1.5M350.22 231.41h1.5M354.5 225.2h1.5M357.71 220.23h1.5M361.99 214.03h1.5M365.2 209.06h1.5M369.48 206.58h1.5M372.69 220.23h1.5M375.9 227.68h1.5M384.14 234.64h1.5M388.85 247.8h1.5M397.19 249.66h1.5" stroke="#000" stroke-width="1.5"/>
<polyline points="325.29,256.24 328.5,250.03 332.78,243.82 335.99,238.86 340.27,242.58 343.48,237.62 347.76,232.65 350.97,237.62 355.25,230.17 358.46,226.44 362.74,222.72 365.95,227.68 370.23,220.23 376.65,216.51 384.14,222.72 391.63,226.44 399.12,221.47 406.61,217.75 414.1,222.72" fill="none" stroke="#000" stroke-width="1.05" stroke-linejoin="round"/><path d="M324.54 256.24h1.5M327.75 250.03h1.5M332.03 243.82h1.5M335.24 238.86h1.5M339.52 242.58h1.5M342.73 237.62h1.5M347.01 232.65h1.5M350.22 237.62h1.5M354.5 230.17h1.5M357.71 226.44h1.5M361.99 222.72h1.5M365.2 227.68h1.5M369.48 220.23h1.5M375.9 216.51h1.5M383.39 222.72h1.5M390.88 226.44h1.5M398.37 221.47h1.5M405.86 217.75h1.5M413.35 222.72h1.5" stroke="#000" stroke-width="1.5"/>
<polyline points="325.29,257.48 328.5,255 332.78,252.52 335.99,248.79 340.27,245.07 343.48,247.55 347.76,242.58 350.97,237.62 355.25,241.34 358.46,236.38 362.74,240.1 365.95,233.89 370.23,228.93 373.44,232.65 376.65,237.62 380.93,240.1 388.42,245.07 391.63,247.55 395.91,250.03" fill="none" stroke="#000" stroke-width="1.05" stroke-linejoin="round"/><path d="M324.54 257.48h1.5M327.75 255h1.5M332.03 252.52h1.5M335.24 248.79h1.5M339.52 245.07h1.5M342.73 247.55h1.5M347.01 242.58h1.5M350.22 237.62h1.5M354.5 241.34h1.5M357.71 236.38h1.5M361.99 240.1h1.5M365.2 233.89h1.5M369.48 228.93h1.5M372.69 232.65h1.5M375.9 237.62h1.5M380.18 240.1h1.5M387.67 245.07h1.5M390.88 247.55h1.5M395.16 250.03h1.5" stroke="#000" stroke-width="1.5"/>
<polyline points="325.29,256.86 328.5,251.27 332.78,242.58 335.99,237.62 340.27,233.89 343.48,238.86 347.76,243.82 350.97,238.86 355.25,233.89 358.46,228.93 362.74,233.89 365.95,240.1 370.23,245.07 376.65,250.03 384.14,253.76" fill="none" stroke="#000" stroke-width="1.05" stroke-linejoin="round"/><path d="M324.54 256.86h1.5M327.75 251.27h1.5M332.03 242.58h1.5M335.24 237.62h1.5M339.52 233.89h1.5M342.73 238.86h1.5M347.01 243.82h1.5M350.22 238.86h1.5M354.5 233.89h1.5M357.71 228.93h1.5M361.99 233.89h1.5M365.2 240.1h1.5M369.48 245.07h1.5M375.9 250.03h1.5M383.39 253.76h1.5" stroke="#000" stroke-width="1.5"/>
<polyline points="325.29,257.48 328.5,253.76 332.78,246.31 335.99,240.1 340.27,236.38 343.48,231.41 347.76,236.38 350.97,228.93 355.25,221.47 358.46,216.51 362.74,222.72 365.95,228.93 370.23,235.13 373.44,230.17 380.93,237.62 388.42,242.58 395.91,238.86 403.4,245.07" fill="none" stroke="#000" stroke-width="1.05" stroke-linejoin="round"/><path d="M324.54 257.48h1.5M327.75 253.76h1.5M332.03 246.31h1.5M335.24 240.1h1.5M339.52 236.38h1.5M342.73 231.41h1.5M347.01 236.38h1.5M350.22 228.93h1.5M354.5 221.47h1.5M357.71 216.51h1.5M361.99 222.72h1.5M365.2 228.93h1.5M369.48 235.13h1.5M372.69 230.17h1.5M380.18 237.62h1.5M387.67 242.58h1.5M395.16 238.86h1.5M402.65 245.07h1.5" stroke="#000" stroke-width="1.5"/>
<polyline points="325.29,256.24 328.5,250.03 332.78,241.34 335.99,235.13 340.27,241.34 343.48,233.89 347.76,227.68 350.97,232.65 355.25,238.86 358.46,243.82 362.74,237.62 365.95,242.58 370.23,247.55 373.44,251.27" fill="none" stroke="#000" stroke-width="1.05" stroke-linejoin="round"/><path d="M324.54 256.24h1.5M327.75 250.03h1.5M332.03 241.34h1.5M335.24 235.13h1.5M339.52 241.34h1.5M342.73 233.89h1.5M347.01 227.68h1.5M350.22 232.65h1.5M354.5 238.86h1.5M357.71 243.82h1.5M361.99 237.62h1.5M365.2 242.58h1.5M369.48 247.55h1.5M372.69 251.27h1.5" stroke="#000" stroke-width="1.5"/>
<polyline points="325.29,257.48 328.5,252.52 332.78,245.07 335.99,241.34 340.27,247.55 343.48,240.1 347.76,245.07 350.97,238.86 355.25,235.13 358.46,240.1 362.74,228.93 365.95,233.89 370.23,240.1 376.65,245.07 380.93,248.79" fill="none" stroke="#000" stroke-width="1.05" stroke-linejoin="round"/><path d="M324.54 257.48h1.5M327.75 252.52h1.5M332.03 245.07h1.5M335.24 241.34h1.5M339.52 247.55h1.5M342.73 240.1h1.5M347.01 245.07h1.5M350.22 238.86h1.5M354.5 235.13h1.5M357.71 240.1h1.5M361.99 228.93h1.5M365.2 233.89h1.5M369.48 240.1h1.5M375.9 245.07h1.5M380.18 248.79h1.5" stroke="#000" stroke-width="1.5"/>
<polyline points="325.29,256.86 328.5,255 332.78,250.03 335.99,245.07 340.27,238.86 343.48,245.07 347.76,248.79 350.97,243.82 355.25,247.55 358.46,241.34 362.74,246.31 365.95,250.03 373.44,252.52" fill="none" stroke="#000" stroke-width="1.05" stroke-linejoin="round"/><path d="M324.54 256.86h1.5M327.75 255h1.5M332.03 250.03h1.5M335.24 245.07h1.5M339.52 238.86h1.5M342.73 245.07h1.5M347.01 248.79h1.5M350.22 243.82h1.5M354.5 247.55h1.5M357.71 241.34h1.5M361.99 246.31h1.5M365.2 250.03h1.5M372.69 252.52h1.5" stroke="#000" stroke-width="1.5"/>
<polyline points="325.29,257.48 328.5,251.27 332.78,238.86 335.99,243.82 340.27,250.03 343.48,246.31 347.76,241.34 350.97,246.31 355.25,240.1 358.46,235.13 362.74,241.34 365.95,236.38 370.23,242.58 376.65,246.31 384.14,250.03 391.63,252.52" fill="none" stroke="#000" stroke-width="1.05" stroke-linejoin="round"/><path d="M324.54 257.48h1.5M327.75 251.27h1.5M332.03 238.86h1.5M335.24 243.82h1.5M339.52 250.03h1.5M342.73 246.31h1.5M347.01 241.34h1.5M350.22 246.31h1.5M354.5 240.1h1.5M357.71 235.13h1.5M361.99 241.34h1.5M365.2 236.38h1.5M369.48 242.58h1.5M375.9 246.31h1.5M383.39 250.03h1.5M390.88 252.52h1.5" stroke="#000" stroke-width="1.5"/>
<polyline points="325.29,256.4 328.5,256.63 332.78,251.72 335.99,254.31 340.27,252.48 343.48,254.27 347.76,254.85 350.97,255.88 355.25,256.43 358.46,256.44 362.74,254.48 365.95,256.12 370.23,255.78 373.44,255.47 376.65,256.67 380.93,255.97 384.14,255.89 388.42,254.6 391.63,255.64 395.91,255.78 399.12,253.86 403.4,255.23 406.61,254.19 410.89,254.89 414.1,256.64 418.38,255.5 421.59,255.43 425.87,254.43 431.22,255.7" fill="none" stroke="#000" stroke-width="1.05" stroke-linejoin="round"/><path d="M324.54 256.4h1.5M327.75 256.63h1.5M332.03 251.72h1.5M335.24 254.31h1.5M339.52 252.48h1.5M342.73 254.27h1.5M347.01 254.85h1.5M350.22 255.88h1.5M354.5 256.43h1.5M357.71 256.44h1.5M361.99 254.48h1.5M365.2 256.12h1.5M369.48 255.78h1.5M372.69 255.47h1.5M375.9 256.67h1.5M380.18 255.97h1.5M383.39 255.89h1.5M387.67 254.6h1.5M390.88 255.64h1.5M395.16 255.78h1.5M398.37 253.86h1.5M402.65 255.23h1.5M405.86 254.19h1.5M410.14 254.89h1.5M413.35 256.64h1.5M417.63 255.5h1.5M420.84 255.43h1.5M425.12 254.43h1.5M430.47 255.7h1.5" stroke="#000" stroke-width="1.5"/>
<polyline points="325.29,256.17 328.5,257.13 332.78,255.2 335.99,257.5 340.27,255.33 343.48,257.27 347.76,257.77 350.97,257.17 355.25,255.5 358.46,254.86 362.74,257.76 365.95,256.31 370.23,256.31 373.44,255.4 376.65,257.22 380.93,256.3 384.14,256.74 388.42,255.29 391.63,257 395.91,254.96 399.12,256.93 403.4,257.13 406.61,255.69 410.89,256.29 414.1,257.45 418.38,255.88 421.59,257.53 425.87,255.43 431.22,255.7" fill="none" stroke="#000" stroke-width="1.05" stroke-linejoin="round"/><path d="M324.54 256.17h1.5M327.75 257.13h1.5M332.03 255.2h1.5M335.24 257.5h1.5M339.52 255.33h1.5M342.73 257.27h1.5M347.01 257.77h1.5M350.22 257.17h1.5M354.5 255.5h1.5M357.71 254.86h1.5M361.99 257.76h1.5M365.2 256.31h1.5M369.48 256.31h1.5M372.69 255.4h1.5M375.9 257.22h1.5M380.18 256.3h1.5M383.39 256.74h1.5M387.67 255.29h1.5M390.88 257h1.5M395.16 254.96h1.5M398.37 256.93h1.5M402.65 257.13h1.5M405.86 255.69h1.5M410.14 256.29h1.5M413.35 257.45h1.5M417.63 255.88h1.5M420.84 257.53h1.5M425.12 255.43h1.5M430.47 255.7h1.5" stroke="#000" stroke-width="1.5"/>
<polyline points="325.29,256.22 328.5,256.24 332.78,247.84 335.99,257.16 340.27,251.55 343.48,257.34 347.76,256.8 350.97,256.63 355.25,254.73 358.46,255.92 362.74,256.29 365.95,254.78 370.23,256.72 373.44,256.04 376.65,255.83 380.93,255.17 384.14,255.17 388.42,255.49 391.63,256.38 395.91,256.44 399.12,256.95 403.4,254.9 406.61,255.44 410.89,255.2 414.1,256.91 418.38,256.11 421.59,255.11 425.87,255.69 431.22,257.04" fill="none" stroke="#000" stroke-width="1.05" stroke-linejoin="round"/><path d="M324.54 256.22h1.5M327.75 256.24h1.5M332.03 247.84h1.5M335.24 257.16h1.5M339.52 251.55h1.5M342.73 257.34h1.5M347.01 256.8h1.5M350.22 256.63h1.5M354.5 254.73h1.5M357.71 255.92h1.5M361.99 256.29h1.5M365.2 254.78h1.5M369.48 256.72h1.5M372.69 256.04h1.5M375.9 255.83h1.5M380.18 255.17h1.5M383.39 255.17h1.5M387.67 255.49h1.5M390.88 256.38h1.5M395.16 256.44h1.5M398.37 256.95h1.5M402.65 254.9h1.5M405.86 255.44h1.5M410.14 255.2h1.5M413.35 256.91h1.5M417.63 256.11h1.5M420.84 255.11h1.5M425.12 255.69h1.5M430.47 257.04h1.5" stroke="#000" stroke-width="1.5"/>
<polyline points="325.29,256.19 328.5,258.12 332.78,258.26 335.99,257.93 340.27,256.73 343.48,256.31 347.76,258.37 350.97,258.36 355.25,258.09 358.46,257.85 362.74,257.27 365.95,258.35 370.23,257.85 373.44,258.26 376.65,255.92 380.93,256.66 384.14,258.52 388.42,255.96 391.63,258.53 395.91,257.68 399.12,255.9 403.4,256.46 406.61,256.64 410.89,257.53 414.1,258.24 418.38,256.93 421.59,258.51 425.87,258.21" fill="none" stroke="#000" stroke-width="1.05" stroke-linejoin="round"/><path d="M324.54 256.19h1.5M327.75 258.12h1.5M332.03 258.26h1.5M335.24 257.93h1.5M339.52 256.73h1.5M342.73 256.31h1.5M347.01 258.37h1.5M350.22 258.36h1.5M354.5 258.09h1.5M357.71 257.85h1.5M361.99 257.27h1.5M365.2 258.35h1.5M369.48 257.85h1.5M372.69 258.26h1.5M375.9 255.92h1.5M380.18 256.66h1.5M383.39 258.52h1.5M387.67 255.96h1.5M390.88 258.53h1.5M395.16 257.68h1.5M398.37 255.9h1.5M402.65 256.46h1.5M405.86 256.64h1.5M410.14 257.53h1.5M413.35 258.24h1.5M417.63 256.93h1.5M420.84 258.51h1.5M425.12 258.21h1.5" stroke="#000" stroke-width="1.5"/>
<polyline points="325.29,256.79 328.5,257.08 332.78,252.26 335.99,257.26 340.27,251.28 343.48,258.73 347.76,257.35 350.97,257.94 355.25,256.94 358.46,256.44 362.74,257.87 365.95,257.44 370.23,256.92 373.44,257.89 376.65,258.47 380.93,257 384.14,256.53 388.42,256.84 391.63,257.06 395.91,256.61 399.12,257.12 403.4,257.24 406.61,257.8 410.89,258.22 414.1,257.28 418.38,258.86 421.59,257.9 425.87,256.82 431.22,257.02" fill="none" stroke="#000" stroke-width="1.05" stroke-linejoin="round"/><path d="M324.54 256.79h1.5M327.75 257.08h1.5M332.03 252.26h1.5M335.24 257.26h1.5M339.52 251.28h1.5M342.73 258.73h1.5M347.01 257.35h1.5M350.22 257.94h1.5M354.5 256.94h1.5M357.71 256.44h1.5M361.99 257.87h1.5M365.2 257.44h1.5M369.48 256.92h1.5M372.69 257.89h1.5M375.9 258.47h1.5M380.18 257h1.5M383.39 256.53h1.5M387.67 256.84h1.5M390.88 257.06h1.5M395.16 256.61h1.5M398.37 257.12h1.5M402.65 257.24h1.5M405.86 257.8h1.5M410.14 258.22h1.5M413.35 257.28h1.5M417.63 258.86h1.5M420.84 257.9h1.5M425.12 256.82h1.5M430.47 257.02h1.5" stroke="#000" stroke-width="1.5"/>
<polyline points="325.29,257.35 328.5,256.84 332.78,256.74 335.99,256.25 340.27,256.88 343.48,256.09 347.76,255.33 350.97,257.55 355.25,256.15 358.46,255.78 362.74,256.94 365.95,256.64 370.23,255.2 373.44,257.99 376.65,256.48 380.93,257.62 384.14,255.77 388.42,255.3 391.63,256.55 395.91,257.8 399.12,256.39 403.4,256.49 406.61,255.96 410.89,256.57 414.1,256.19 418.38,255.63 421.59,256.55 425.87,256.88 431.22,255.27" fill="none" stroke="#000" stroke-width="1.05" stroke-linejoin="round"/><path d="M324.54 257.35h1.5M327.75 256.84h1.5M332.03 256.74h1.5M335.24 256.25h1.5M339.52 256.88h1.5M342.73 256.09h1.5M347.01 255.33h1.5M350.22 257.55h1.5M354.5 256.15h1.5M357.71 255.78h1.5M361.99 256.94h1.5M365.2 256.64h1.5M369.48 255.2h1.5M372.69 257.99h1.5M375.9 256.48h1.5M380.18 257.62h1.5M383.39 255.77h1.5M387.67 255.3h1.5M390.88 256.55h1.5M395.16 257.8h1.5M398.37 256.39h1.5M402.65 256.49h1.5M405.86 255.96h1.5M410.14 256.57h1.5M413.35 256.19h1.5M417.63 255.63h1.5M420.84 256.55h1.5M425.12 256.88h1.5M430.47 255.27h1.5" stroke="#000" stroke-width="1.5"/>
<polyline points="325.29,257.65 328.5,259.56 332.78,247.42 335.99,258.86 340.27,251.32 343.48,259.11 347.76,258.73 350.97,259.88 355.25,258.68 358.46,258.67 362.74,257.84 365.95,258.87 370.23,259.13 373.44,259.25 376.65,257.71 380.93,257.12 384.14,258.35 388.42,259.27 391.63,257.53 395.91,258.75 399.12,259.29 403.4,259.54 406.61,257.61 410.89,257.51 414.1,258.03 418.38,258.52 421.59,258.25" fill="none" stroke="#000" stroke-width="1.05" stroke-linejoin="round"/><path d="M324.54 257.65h1.5M327.75 259.56h1.5M332.03 247.42h1.5M335.24 258.86h1.5M339.52 251.32h1.5M342.73 259.11h1.5M347.01 258.73h1.5M350.22 259.88h1.5M354.5 258.68h1.5M357.71 258.67h1.5M361.99 257.84h1.5M365.2 258.87h1.5M369.48 259.13h1.5M372.69 259.25h1.5M375.9 257.71h1.5M380.18 257.12h1.5M383.39 258.35h1.5M387.67 259.27h1.5M390.88 257.53h1.5M395.16 258.75h1.5M398.37 259.29h1.5M402.65 259.54h1.5M405.86 257.61h1.5M410.14 257.51h1.5M413.35 258.03h1.5M417.63 258.52h1.5M420.84 258.25h1.5" stroke="#000" stroke-width="1.5"/>
<polyline points="325.29,256.98 328.5,258.8 332.78,257.95 335.99,257.41 340.27,257.42 343.48,258.46 347.76,258.98 350.97,258.22 355.25,259.48 358.46,257.37 362.74,258.8 365.95,257.32 370.23,259.06 373.44,258.73 376.65,259.1 380.93,258.58 384.14,259.3 388.42,259.85 391.63,257.7 395.91,259.02 399.12,259.12 403.4,258.95 406.61,258.42 410.89,258.58 414.1,257.95 418.38,257.89 421.59,258.77 425.87,257.09 431.22,257.31" fill="none" stroke="#000" stroke-width="1.05" stroke-linejoin="round"/><path d="M324.54 256.98h1.5M327.75 258.8h1.5M332.03 257.95h1.5M335.24 257.41h1.5M339.52 257.42h1.5M342.73 258.46h1.5M347.01 258.98h1.5M350.22 258.22h1.5M354.5 259.48h1.5M357.71 257.37h1.5M361.99 258.8h1.5M365.2 257.32h1.5M369.48 259.06h1.5M372.69 258.73h1.5M375.9 259.1h1.5M380.18 258.58h1.5M383.39 259.3h1.5M387.67 259.85h1.5M390.88 257.7h1.5M395.16 259.02h1.5M398.37 259.12h1.5M402.65 258.95h1.5M405.86 258.42h1.5M410.14 258.58h1.5M413.35 257.95h1.5M417.63 257.89h1.5M420.84 258.77h1.5M425.12 257.09h1.5M430.47 257.31h1.5" stroke="#000" stroke-width="1.5"/>
<polyline points="325.29,258.25 328.5,260.17 332.78,246.35 335.99,258.7 340.27,248.13 343.48,260.55 347.76,257.75 350.97,258.63 355.25,259.84 358.46,260.29 362.74,260.16 365.95,259.89 370.23,258.27 373.44,259.56 376.65,260.13 380.93,257.89 384.14,258.23 388.42,260.09 391.63,257.93 395.91,258.77 399.12,258.26 403.4,258.6 406.61,257.92 410.89,258.24 414.1,258.09 418.38,260 421.59,258.52 425.87,259.01 431.22,258.38" fill="none" stroke="#000" stroke-width="1.05" stroke-linejoin="round"/><path d="M324.54 258.25h1.5M327.75 260.17h1.5M332.03 246.35h1.5M335.24 258.7h1.5M339.52 248.13h1.5M342.73 260.55h1.5M347.01 257.75h1.5M350.22 258.63h1.5M354.5 259.84h1.5M357.71 260.29h1.5M361.99 260.16h1.5M365.2 259.89h1.5M369.48 258.27h1.5M372.69 259.56h1.5M375.9 260.13h1.5M380.18 257.89h1.5M383.39 258.23h1.5M387.67 260.09h1.5M390.88 257.93h1.5M395.16 258.77h1.5M398.37 258.26h1.5M402.65 258.6h1.5M405.86 257.92h1.5M410.14 258.24h1.5M413.35 258.09h1.5M417.63 260h1.5M420.84 258.52h1.5M425.12 259.01h1.5M430.47 258.38h1.5" stroke="#000" stroke-width="1.5"/>
<polyline points="325.29,256.3 328.5,257.28 332.78,258.14 335.99,258.23 340.27,258.51 343.48,257.46 347.76,258.76 350.97,257.54 355.25,258.5 358.46,257.47 362.74,257.45 365.95,257.32 370.23,256.36 373.44,258.91 376.65,256.42 380.93,257.54 384.14,257.25 388.42,256.95 391.63,256.42 395.91,257.81 399.12,257.68 403.4,256.07 406.61,258.71 410.89,257.03 414.1,257.03 418.38,258.84 421.59,257.11 425.87,256.9 431.22,256.15" fill="none" stroke="#000" stroke-width="1.05" stroke-linejoin="round"/><path d="M324.54 256.3h1.5M327.75 257.28h1.5M332.03 258.14h1.5M335.24 258.23h1.5M339.52 258.51h1.5M342.73 257.46h1.5M347.01 258.76h1.5M350.22 257.54h1.5M354.5 258.5h1.5M357.71 257.47h1.5M361.99 257.45h1.5M365.2 257.32h1.5M369.48 256.36h1.5M372.69 258.91h1.5M375.9 256.42h1.5M380.18 257.54h1.5M383.39 257.25h1.5M387.67 256.95h1.5M390.88 256.42h1.5M395.16 257.81h1.5M398.37 257.68h1.5M402.65 256.07h1.5M405.86 258.71h1.5M410.14 257.03h1.5M413.35 257.03h1.5M417.63 258.84h1.5M420.84 257.11h1.5M425.12 256.9h1.5M430.47 256.15h1.5" stroke="#000" stroke-width="1.5"/>
<polyline points="325.29,257.96 328.5,256.72 332.78,245.2 335.99,257.26 340.27,250.59 343.48,258.39 347.76,256.83 350.97,258.31 355.25,257.99 358.46,257.83 362.74,257.1 365.95,258.77 370.23,258.1 373.44,258.14 376.65,257.75 380.93,256.94 384.14,258.53 388.42,256.93 391.63,258.2 395.91,257.9 399.12,258.59 403.4,257.89 406.61,256.49 410.89,257.45 414.1,257.04 418.38,258.41" fill="none" stroke="#000" stroke-width="1.05" stroke-linejoin="round"/><path d="M324.54 257.96h1.5M327.75 256.72h1.5M332.03 245.2h1.5M335.24 257.26h1.5M339.52 250.59h1.5M342.73 258.39h1.5M347.01 256.83h1.5M350.22 258.31h1.5M354.5 257.99h1.5M357.71 257.83h1.5M361.99 257.1h1.5M365.2 258.77h1.5M369.48 258.1h1.5M372.69 258.14h1.5M375.9 257.75h1.5M380.18 256.94h1.5M383.39 258.53h1.5M387.67 256.93h1.5M390.88 258.2h1.5M395.16 257.9h1.5M398.37 258.59h1.5M402.65 257.89h1.5M405.86 256.49h1.5M410.14 257.45h1.5M413.35 257.04h1.5M417.63 258.41h1.5" stroke="#000" stroke-width="1.5"/>
<polyline points="325.29,258.57 328.5,257.71 332.78,257.57 335.99,257.12 340.27,259.34 343.48,257.3 347.76,256.82 350.97,257.83 355.25,259.31 358.46,258.56 362.74,259.44 365.95,258.89 370.23,256.71 373.44,257.64 376.65,257.5 380.93,257.11 384.14,256.75 388.42,257.63 391.63,257.62 395.91,257.59 399.12,257.38 403.4,257.68 406.61,257.43 410.89,258.82 414.1,257.47 418.38,258.09 421.59,257.19 425.87,259.16 431.22,258.92" fill="none" stroke="#000" stroke-width="1.05" stroke-linejoin="round"/><path d="M324.54 258.57h1.5M327.75 257.71h1.5M332.03 257.57h1.5M335.24 257.12h1.5M339.52 259.34h1.5M342.73 257.3h1.5M347.01 256.82h1.5M350.22 257.83h1.5M354.5 259.31h1.5M357.71 258.56h1.5M361.99 259.44h1.5M365.2 258.89h1.5M369.48 256.71h1.5M372.69 257.64h1.5M375.9 257.5h1.5M380.18 257.11h1.5M383.39 256.75h1.5M387.67 257.63h1.5M390.88 257.62h1.5M395.16 257.59h1.5M398.37 257.38h1.5M402.65 257.68h1.5M405.86 257.43h1.5M410.14 258.82h1.5M413.35 257.47h1.5M417.63 258.09h1.5M420.84 257.19h1.5M425.12 259.16h1.5M430.47 258.92h1.5" stroke="#000" stroke-width="1.5"/>
<polyline points="325.29,258.72 328.5,259.58 332.78,246.75 335.99,258.33 340.27,248.08 343.48,259.91 347.76,259.78 350.97,259.42 355.25,259.73 358.46,259.39 362.74,258.76 365.95,257.89 370.23,260.51 373.44,258.98 376.65,260.56 380.93,260.32 384.14,258.26 388.42,258.96 391.63,257.94 395.91,259.34 399.12,260.63 403.4,259.52 406.61,258.91 410.89,257.88 414.1,257.75 418.38,259.26 421.59,259.45 425.87,260.37 431.22,258.75" fill="none" stroke="#000" stroke-width="1.05" stroke-linejoin="round"/><path d="M324.54 258.72h1.5M327.75 259.58h1.5M332.03 246.75h1.5M335.24 258.33h1.5M339.52 248.08h1.5M342.73 259.91h1.5M347.01 259.78h1.5M350.22 259.42h1.5M354.5 259.73h1.5M357.71 259.39h1.5M361.99 258.76h1.5M365.2 257.89h1.5M369.48 260.51h1.5M372.69 258.98h1.5M375.9 260.56h1.5M380.18 260.32h1.5M383.39 258.26h1.5M387.67 258.96h1.5M390.88 257.94h1.5M395.16 259.34h1.5M398.37 260.63h1.5M402.65 259.52h1.5M405.86 258.91h1.5M410.14 257.88h1.5M413.35 257.75h1.5M417.63 259.26h1.5M420.84 259.45h1.5M425.12 260.37h1.5M430.47 258.75h1.5" stroke="#000" stroke-width="1.5"/>
<polyline points="325.29,259.46 328.5,259.87 332.78,259.9 335.99,257.88 340.27,259.55 343.48,257.03 347.76,259.65 350.97,257.32 355.25,259.53 358.46,259.86 362.74,257.77 365.95,259.19 370.23,257.73 373.44,259.35 376.65,259.76 380.93,257.61 384.14,257.79 388.42,257.36 391.63,257.74 395.91,259.66 399.12,258.04 403.4,257.8 406.61,258.54 410.89,257.13 414.1,259.16 418.38,257.04 421.59,257.78 425.87,259.88 431.22,259.87" fill="none" stroke="#000" stroke-width="1.05" stroke-linejoin="round"/><path d="M324.54 259.46h1.5M327.75 259.87h1.5M332.03 259.9h1.5M335.24 257.88h1.5M339.52 259.55h1.5M342.73 257.03h1.5M347.01 259.65h1.5M350.22 257.32h1.5M354.5 259.53h1.5M357.71 259.86h1.5M361.99 257.77h1.5M365.2 259.19h1.5M369.48 257.73h1.5M372.69 259.35h1.5M375.9 259.76h1.5M380.18 257.61h1.5M383.39 257.79h1.5M387.67 257.36h1.5M390.88 257.74h1.5M395.16 259.66h1.5M398.37 258.04h1.5M402.65 257.8h1.5M405.86 258.54h1.5M410.14 257.13h1.5M413.35 259.16h1.5M417.63 257.04h1.5M420.84 257.78h1.5M425.12 259.88h1.5M430.47 259.87h1.5" stroke="#000" stroke-width="1.5"/>
<polyline points="325.29,257.08 328.5,255.83 332.78,246.43 335.99,255.44 340.27,253.26 343.48,257.83 347.76,256.91 350.97,256.29 355.25,256.7 358.46,255.99 362.74,257.58 365.95,255.63 370.23,256.93 373.44,256.09 376.65,256.13 380.93,256.76 384.14,256.86 388.42,255.67 391.63,255.19 395.91,255.67 399.12,256.32 403.4,257.14 406.61,257.83 410.89,255.11 414.1,255.91 418.38,255.54 421.59,257.02 425.87,256.2 431.22,255.1" fill="none" stroke="#000" stroke-width="1.05" stroke-linejoin="round"/><path d="M324.54 257.08h1.5M327.75 255.83h1.5M332.03 246.43h1.5M335.24 255.44h1.5M339.52 253.26h1.5M342.73 257.83h1.5M347.01 256.91h1.5M350.22 256.29h1.5M354.5 256.7h1.5M357.71 255.99h1.5M361.99 257.58h1.5M365.2 255.63h1.5M369.48 256.93h1.5M372.69 256.09h1.5M375.9 256.13h1.5M380.18 256.76h1.5M383.39 256.86h1.5M387.67 255.67h1.5M390.88 255.19h1.5M395.16 255.67h1.5M398.37 256.32h1.5M402.65 257.14h1.5M405.86 257.83h1.5M410.14 255.11h1.5M413.35 255.91h1.5M417.63 255.54h1.5M420.84 257.02h1.5M425.12 256.2h1.5M430.47 255.1h1.5" stroke="#000" stroke-width="1.5"/>
<polyline points="325.29,255.43 328.5,256.3 332.78,255.95 335.99,254.58 340.27,256.1 343.48,255.18 347.76,255.43 350.97,254.55 355.25,254.82 358.46,256.38 362.74,257.22 365.95,256.44 370.23,255.96 373.44,255.47 376.65,254.79 380.93,254.58 384.14,257.1 388.42,254.74 391.63,254.8 395.91,254.64 399.12,255.52 403.4,256.41 406.61,254.69 410.89,254.82 414.1,255.18 418.38,254.5 421.59,256.19 425.87,256.97 431.22,255.57" fill="none" stroke="#000" stroke-width="1.05" stroke-linejoin="round"/><path d="M324.54 255.43h1.5M327.75 256.3h1.5M332.03 255.95h1.5M335.24 254.58h1.5M339.52 256.1h1.5M342.73 255.18h1.5M347.01 255.43h1.5M350.22 254.55h1.5M354.5 254.82h1.5M357.71 256.38h1.5M361.99 257.22h1.5M365.2 256.44h1.5M369.48 255.96h1.5M372.69 255.47h1.5M375.9 254.79h1.5M380.18 254.58h1.5M383.39 257.1h1.5M387.67 254.74h1.5M390.88 254.8h1.5M395.16 254.64h1.5M398.37 255.52h1.5M402.65 256.41h1.5M405.86 254.69h1.5M410.14 254.82h1.5M413.35 255.18h1.5M417.63 254.5h1.5M420.84 256.19h1.5M425.12 256.97h1.5M430.47 255.57h1.5" stroke="#000" stroke-width="1.5"/>
<polyline points="323.9,254.38 330.43,227.19 333.21,224.45 336.95,222.47 339.74,219.74 343.37,208.56 344.34,210.42 346.15,216.01" fill="none" stroke="#e0141e" stroke-width="2.4" stroke-linejoin="round"/>
<path d="M324.1 195.4V269.9H436.1" fill="none" stroke="#000" stroke-width="1.1"/>
<path d="M321.7 269.9H324.1M321.7 257.48H324.1M321.7 245.07H324.1M321.7 232.65H324.1M321.7 220.23H324.1M321.7 207.82H324.1M321.7 195.4H324.1M328.5 269.9V272.5M339.2 269.9V272.5M349.9 269.9V272.5M360.6 269.9V272.5M371.3 269.9V272.5M382 269.9V272.5M392.7 269.9V272.5M403.4 269.9V272.5M414.1 269.9V272.5M424.8 269.9V272.5M435.5 269.9V272.5" stroke="#000" stroke-width="1"/>
<text x="318.5" y="272.5" text-anchor="end" class="ty">10</text><text x="319.1" y="270.1" class="ts">2</text>
<text x="318.5" y="260.08" text-anchor="end" class="ty">10</text><text x="319.1" y="257.68" class="ts">3</text>
<text x="318.5" y="247.67" text-anchor="end" class="ty">10</text><text x="319.1" y="245.27" class="ts">4</text>
<text x="318.5" y="235.25" text-anchor="end" class="ty">10</text><text x="319.1" y="232.85" class="ts">5</text>
<text x="318.5" y="222.83" text-anchor="end" class="ty">10</text><text x="319.1" y="220.43" class="ts">6</text>
<text x="318.5" y="210.42" text-anchor="end" class="ty">10</text><text x="319.1" y="208.02" class="ts">7</text>
<text x="318.5" y="198" text-anchor="end" class="ty">10</text><text x="319.1" y="195.6" class="ts">8</text>
<text x="328.5" y="279.1" text-anchor="middle" class="tl">10</text>
<text x="339.2" y="279.1" text-anchor="middle" class="tl">20</text>
<text x="349.9" y="279.1" text-anchor="middle" class="tl">30</text>
<text x="360.6" y="279.1" text-anchor="middle" class="tl">40</text>
<text x="371.3" y="279.1" text-anchor="middle" class="tl">50</text>
<text x="382" y="279.1" text-anchor="middle" class="tl">60</text>
<text x="392.7" y="279.1" text-anchor="middle" class="tl">70</text>
<text x="403.4" y="279.1" text-anchor="middle" class="tl">80</text>
<text x="414.1" y="279.1" text-anchor="middle" class="tl">90</text>
<text x="424.8" y="279.1" text-anchor="middle" class="tl">100</text>
<text x="435.5" y="279.1" text-anchor="middle" class="tl">110</text>
<text x="433" y="268.3" text-anchor="end" class="fr">17/23</text>
<text transform="translate(11.9,208.4) rotate(-90)" style="font-size:11.3px;fill:#1a1a1a">Photons/sec/cm<tspan dy="-4" style="font-size:7px">2</tspan><tspan dy="4">/sr</tspan></text>
<defs><linearGradient id="cb" x1="0" y1="0" x2="0" y2="1">
<stop offset="0" stop-color="#e00000"/><stop offset="0.1" stop-color="#ff5a00"/><stop offset="0.22" stop-color="#ffe600"/>
<stop offset="0.33" stop-color="#a0f000"/><stop offset="0.45" stop-color="#00e800"/><stop offset="0.58" stop-color="#00f0a0"/>
<stop offset="0.7" stop-color="#00e8ff"/><stop offset="0.8" stop-color="#2060ff"/><stop offset="0.9" stop-color="#2000f0"/>
<stop offset="1" stop-color="#8000e0"/></linearGradient></defs>
<rect x="457.2" y="5.8" width="6.5" height="158.6" fill="url(#cb)" stroke="#5a3030" stroke-width="0.5" stroke-opacity="0.6"/>
<path d="M463.8 6.1h1.6M463.8 16h1.0M463.8 25.9h1.0M463.8 35.8h1.0M463.8 45.7h1.6M463.8 55.6h1.0M463.8 65.5h1.0M463.8 75.4h1.0M463.8 85.3h1.6M463.8 95.2h1.0M463.8 105.1h1.0M463.8 115h1.0M463.8 124.9h1.6M463.8 134.8h1.0M463.8 144.7h1.0M463.8 154.6h1.0" stroke="#444" stroke-width="0.6"/>
<text x="468.7" y="7.9" style="font-size:5.2px;font-weight:bold;fill:#555">20</text>
<text x="468.7" y="49.3" style="font-size:5.2px;font-weight:bold;fill:#555">15</text>
<text x="468.7" y="90.1" style="font-size:5.2px;font-weight:bold;fill:#555">10</text>
<text x="468.7" y="132" style="font-size:5.2px;font-weight:bold;fill:#555">5</text>
<text transform="translate(490.4,41.6) rotate(90)" style="font-size:9.1px;fill:#1a1a1a">Photons/sec/cm<tspan dy="-3.2" style="font-size:5.6px">2</tspan><tspan dy="3.2">/sr</tspan></text>
<text transform="translate(480.2,72.2) rotate(90)" style="font-size:8.8px;fill:#1a1a1a">x10<tspan dy="-3.2" style="font-size:5.6px">6</tspan></text>
<text x="481" y="198.6" text-anchor="middle" class="tb">Tumor burden P values</text>
<text x="481" y="204.8" text-anchor="middle" class="tb">vs. 19z1-ΔLNGFR</text>
<rect x="438" y="207.3" width="80.5" height="1.2" fill="#111"/>
<text x="480.3" y="214.2" text-anchor="middle" class="tb">Day 20</text><text x="506" y="214.2" text-anchor="middle" class="tb">Day 45</text>
<rect x="469.5" y="215" width="22" height="0.6" fill="#333"/><rect x="494.5" y="215" width="23" height="0.6" fill="#333"/>
<text x="440" y="221.8" class="tb">19z1-IL2</text><text x="480.3" y="221.8" text-anchor="middle" class="tb">&gt;0.05</text><text x="506" y="221.8" text-anchor="middle" class="tb">0.003</text>
<text x="440" y="229" class="tb">19z1-IL7</text><text x="480.3" y="229" text-anchor="middle" class="tb">&lt;0.0001</text><text x="506" y="229" text-anchor="middle" class="tb">0.0002</text>
<text x="440" y="236.2" class="tb">19z1-IL15</text><text x="480.3" y="236.2" text-anchor="middle" class="tb">&gt;0.05</text><text x="506" y="236.2" text-anchor="middle" class="tb">0.04</text>
<text x="440" y="243.4" class="tb">19z1-IL21</text><text x="480.3" y="243.4" text-anchor="middle" class="tb">0.01</text><text x="506" y="243.4" text-anchor="middle" class="tb">0.0015</text>
<path d="M32.5 304.9H60.33V312.04H62.14V320.08H63.36V327.23H64.32V334.37H64.93V342.41H65.53V349.55H66.14V356.69H66.74V364.73H67.59V371.88H68.8V379.02H71.22V387.06H74.85V394.2" fill="none" stroke="#000" stroke-width="1.1"/><rect x="58.03" y="309.74" width="4.6" height="4.6" fill="#fff" stroke="#000" stroke-width="0.8"/><rect x="59.84" y="317.78" width="4.6" height="4.6" fill="#fff" stroke="#000" stroke-width="0.8"/><rect x="61.05" y="324.93" width="4.6" height="4.6" fill="#fff" stroke="#000" stroke-width="0.8"/><rect x="62.02" y="332.07" width="4.6" height="4.6" fill="#fff" stroke="#000" stroke-width="0.8"/><rect x="62.63" y="340.11" width="4.6" height="4.6" fill="#fff" stroke="#000" stroke-width="0.8"/><rect x="63.23" y="347.25" width="4.6" height="4.6" fill="#fff" stroke="#000" stroke-width="0.8"/><rect x="63.84" y="354.39" width="4.6" height="4.6" fill="#fff" stroke="#000" stroke-width="0.8"/><rect x="64.44" y="362.43" width="4.6" height="4.6" fill="#fff" stroke="#000" stroke-width="0.8"/><rect x="65.29" y="369.57" width="4.6" height="4.6" fill="#fff" stroke="#000" stroke-width="0.8"/><rect x="66.5" y="376.72" width="4.6" height="4.6" fill="#fff" stroke="#000" stroke-width="0.8"/><rect x="68.92" y="384.76" width="4.6" height="4.6" fill="#fff" stroke="#000" stroke-width="0.8"/><rect x="72.55" y="391.9" width="4.6" height="4.6" fill="#fff" stroke="#000" stroke-width="0.8"/>
<path d="M32.5 304.9H59.12V311.15H61.54V317.4H63.11V323.65H64.56V330.8H65.78V337.05H66.98V343.3H67.95V349.55H68.8V355.8H69.77V362.05H70.74V368.3H71.82V375.45H73.64V381.7H76.06V387.95H80.3V394.2" fill="none" stroke="#000" stroke-width="1.1"/><rect x="56.42" y="308.45" width="5.4" height="5.4" fill="#000"/><rect x="58.84" y="314.7" width="5.4" height="5.4" fill="#000"/><rect x="60.41" y="320.95" width="5.4" height="5.4" fill="#000"/><rect x="61.86" y="328.1" width="5.4" height="5.4" fill="#000"/><rect x="63.08" y="334.35" width="5.4" height="5.4" fill="#000"/><rect x="64.28" y="340.6" width="5.4" height="5.4" fill="#000"/><rect x="65.25" y="346.85" width="5.4" height="5.4" fill="#000"/><rect x="66.1" y="353.1" width="5.4" height="5.4" fill="#000"/><rect x="67.07" y="359.35" width="5.4" height="5.4" fill="#000"/><rect x="68.04" y="365.6" width="5.4" height="5.4" fill="#000"/><rect x="69.12" y="372.75" width="5.4" height="5.4" fill="#000"/><rect x="70.94" y="379" width="5.4" height="5.4" fill="#000"/><rect x="73.36" y="385.25" width="5.4" height="5.4" fill="#000"/><rect x="77.59" y="391.5" width="5.4" height="5.4" fill="#000"/>
<path d="M32.5 304.9H70.01V308.47H72.43V312.94H74.85V320.08H77.27V328.12H82.11V331.69H84.77V334.73H87.43V337.76H90.1V340.8H92.76V343.83H95.42V346.87H99.05V350.44H101.57V354.07H104.1V357.69H106.62V361.31H109.14V364.94H111.67V368.56H114.19V372.18H116.72V375.8H134.99V383.22H153.14V387.06H161.24" fill="none" stroke="#00e000" stroke-width="1.1"/><path d="M70.01 305.37L73.11 310.95L66.91 310.95Z" fill="#00e000"/><path d="M72.43 309.84L75.53 315.42L69.33 315.42Z" fill="#00e000"/><path d="M74.85 316.98L77.95 322.56L71.75 322.56Z" fill="#00e000"/><path d="M77.27 325.02L80.37 330.6L74.17 330.6Z" fill="#00e000"/><path d="M82.11 328.59L85.21 334.17L79.01 334.17Z" fill="#00e000"/><path d="M84.77 331.63L87.87 337.21L81.67 337.21Z" fill="#00e000"/><path d="M87.43 334.66L90.53 340.24L84.33 340.24Z" fill="#00e000"/><path d="M90.1 337.7L93.2 343.28L87 343.28Z" fill="#00e000"/><path d="M92.76 340.73L95.86 346.31L89.66 346.31Z" fill="#00e000"/><path d="M95.42 343.77L98.52 349.35L92.32 349.35Z" fill="#00e000"/><path d="M99.05 347.34L102.15 352.92L95.95 352.92Z" fill="#00e000"/><path d="M101.57 350.97L104.67 356.55L98.47 356.55Z" fill="#00e000"/><path d="M104.1 354.59L107.2 360.17L101 360.17Z" fill="#00e000"/><path d="M106.62 358.21L109.72 363.79L103.52 363.79Z" fill="#00e000"/><path d="M109.14 361.84L112.24 367.42L106.04 367.42Z" fill="#00e000"/><path d="M111.67 365.46L114.77 371.04L108.57 371.04Z" fill="#00e000"/><path d="M114.19 369.08L117.29 374.66L111.09 374.66Z" fill="#00e000"/><path d="M116.72 372.7L119.82 378.28L113.62 378.28Z" fill="#00e000"/><path d="M134.99 380.12L138.09 385.7L131.89 385.7Z" fill="#00e000"/><path d="M153.14 383.96L156.24 389.54L150.04 389.54Z" fill="#00e000"/><path d="M161.24 383.96L164.34 389.54L158.14 389.54Z" fill="#00e000"/>
<path d="M32.5 304.9H75.45V316.51H79.09V339.73H82.11V346.87H90.58V353.48H93V360.27H96.39V363.84H107.16V367.68H119.38V373.04H124.46V379.02H161.24" fill="none" stroke="#e8102a" stroke-width="1.1"/><path d="M75.45 313.61L78.36 316.51L75.45 319.41L72.55 316.51Z" fill="#e8102a"/><path d="M79.09 336.83L81.99 339.73L79.09 342.63L76.19 339.73Z" fill="#e8102a"/><path d="M82.11 343.97L85.01 346.87L82.11 349.77L79.21 346.87Z" fill="#e8102a"/><path d="M90.58 350.58L93.48 353.48L90.58 356.38L87.68 353.48Z" fill="#e8102a"/><path d="M93 357.37L95.9 360.27L93 363.17L90.1 360.27Z" fill="#e8102a"/><path d="M96.39 360.94L99.29 363.84L96.39 366.74L93.49 363.84Z" fill="#e8102a"/><path d="M107.16 364.78L110.06 367.68L107.16 370.58L104.26 367.68Z" fill="#e8102a"/><path d="M119.38 370.14L122.28 373.04L119.38 375.94L116.48 373.04Z" fill="#e8102a"/><path d="M124.46 376.12L127.36 379.02L124.46 381.92L121.56 379.02Z" fill="#e8102a"/><path d="M161.24 376.12L164.14 379.02L161.24 381.92L158.34 379.02Z" fill="#e8102a"/>
<path d="M32.5 304.9H78.48V307.04H82.11V315.17H84.53V318.29H86.9V324.01H89.27V329.73H91.64V335.44H94.02V341.16H96.39V346.87H99.05V349.55H102.2V352.23H105.34V354.91H108.49V357.59H111.63V360.27H114.78V362.94H134.14V366.52H161.24" fill="none" stroke="#e020d8" stroke-width="1.1"/><path d="M78.48 310.14L81.58 304.56L75.38 304.56Z" fill="#e020d8"/><path d="M82.11 318.27L85.21 312.69L79.01 312.69Z" fill="#e020d8"/><path d="M84.53 321.39L87.63 315.81L81.43 315.81Z" fill="#e020d8"/><path d="M86.9 327.11L90 321.53L83.8 321.53Z" fill="#e020d8"/><path d="M89.27 332.83L92.37 327.25L86.17 327.25Z" fill="#e020d8"/><path d="M91.64 338.54L94.74 332.96L88.54 332.96Z" fill="#e020d8"/><path d="M94.02 344.26L97.12 338.68L90.92 338.68Z" fill="#e020d8"/><path d="M96.39 349.97L99.49 344.39L93.29 344.39Z" fill="#e020d8"/><path d="M99.05 352.65L102.15 347.07L95.95 347.07Z" fill="#e020d8"/><path d="M102.2 355.33L105.3 349.75L99.1 349.75Z" fill="#e020d8"/><path d="M105.34 358.01L108.44 352.43L102.24 352.43Z" fill="#e020d8"/><path d="M108.49 360.69L111.59 355.11L105.39 355.11Z" fill="#e020d8"/><path d="M111.63 363.37L114.73 357.79L108.53 357.79Z" fill="#e020d8"/><path d="M114.78 366.05L117.88 360.46L111.68 360.46Z" fill="#e020d8"/><path d="M134.14 369.62L137.24 364.04L131.04 364.04Z" fill="#e020d8"/><path d="M161.24 369.62L164.34 364.04L158.14 364.04Z" fill="#e020d8"/>
<path d="M32.5 304.9H53.07V308.47H65.17V312.04H68.8V315.62H72.43V320.08H94.21V323.65H100.99V326.33H102.68V330.35H105.1V337.05H107.52V340.98H121.31V345.98H126.88V349.55H129.3V352.23H132.32V354.91H134.99V356.69H137.77V358.93H140.19V361.16H161.24" fill="none" stroke="#1a10f0" stroke-width="1.1"/><circle cx="53.07" cy="308.47" r="3.2" fill="#1a10f0"/><circle cx="65.17" cy="312.04" r="3.2" fill="#1a10f0"/><circle cx="68.8" cy="315.62" r="3.2" fill="#1a10f0"/><circle cx="72.43" cy="320.08" r="3.2" fill="#1a10f0"/><circle cx="94.21" cy="323.65" r="3.2" fill="#1a10f0"/><circle cx="100.99" cy="326.33" r="3.2" fill="#1a10f0"/><circle cx="102.68" cy="330.35" r="3.2" fill="#1a10f0"/><circle cx="105.1" cy="337.05" r="3.2" fill="#1a10f0"/><circle cx="107.52" cy="340.98" r="3.2" fill="#1a10f0"/><circle cx="121.31" cy="345.98" r="3.2" fill="#1a10f0"/><circle cx="126.88" cy="349.55" r="3.2" fill="#1a10f0"/><circle cx="129.3" cy="352.23" r="3.2" fill="#1a10f0"/><circle cx="132.32" cy="354.91" r="3.2" fill="#1a10f0"/><circle cx="134.99" cy="356.69" r="3.2" fill="#1a10f0"/><circle cx="137.77" cy="358.93" r="3.2" fill="#1a10f0"/><circle cx="140.19" cy="361.16" r="3.2" fill="#1a10f0"/><circle cx="161.24" cy="361.16" r="3.2" fill="#1a10f0"/>
<path d="M32.5 304.9H94.21V308.47H99.05V312.04H128.09V315.62H141.4V319.63H150.84V328.12H161.24" fill="none" stroke="#b87820" stroke-width="1.1"/><rect x="91.51" y="305.77" width="5.4" height="5.4" fill="#b87820"/><rect x="96.35" y="309.34" width="5.4" height="5.4" fill="#b87820"/><rect x="125.39" y="312.92" width="5.4" height="5.4" fill="#b87820"/><rect x="138.7" y="316.93" width="5.4" height="5.4" fill="#b87820"/><rect x="148.14" y="325.42" width="5.4" height="5.4" fill="#b87820"/><rect x="158.54" y="325.42" width="5.4" height="5.4" fill="#b87820"/>
<path d="M32.5 304.9V394.2H165.6" fill="none" stroke="#000" stroke-width="1.1"/>
<path d="M30.1 394.2H32.5M30.1 371.88H32.5M30.1 349.55H32.5M30.1 327.23H32.5M30.1 304.9H32.5M32.5 394.2V396.8M44.6 394.2V396.8M56.7 394.2V396.8M68.8 394.2V396.8M80.9 394.2V396.8M93 394.2V396.8M105.1 394.2V396.8M117.2 394.2V396.8M129.3 394.2V396.8M141.4 394.2V396.8M153.5 394.2V396.8M165.6 394.2V396.8" stroke="#000" stroke-width="1"/>
<text x="29.3" y="396.4" text-anchor="end" class="sl">0</text>
<text x="29.3" y="374.07" text-anchor="end" class="sl">25</text>
<text x="29.3" y="351.75" text-anchor="end" class="sl">50</text>
<text x="29.3" y="329.43" text-anchor="end" class="sl">75</text>
<text x="29.3" y="307.1" text-anchor="end" class="sl">100</text>
<text x="32.5" y="404.6" text-anchor="middle" class="sl">0</text>
<text x="44.6" y="404.6" text-anchor="middle" class="sl">10</text>
<text x="56.7" y="404.6" text-anchor="middle" class="sl">20</text>
<text x="68.8" y="404.6" text-anchor="middle" class="sl">30</text>
<text x="80.9" y="404.6" text-anchor="middle" class="sl">40</text>
<text x="93" y="404.6" text-anchor="middle" class="sl">50</text>
<text x="105.1" y="404.6" text-anchor="middle" class="sl">60</text>
<text x="117.2" y="404.6" text-anchor="middle" class="sl">70</text>
<text x="129.3" y="404.6" text-anchor="middle" class="sl">80</text>
<text x="141.4" y="404.6" text-anchor="middle" class="sl">90</text>
<text x="153.5" y="404.6" text-anchor="middle" class="sl">100</text>
<text x="165.6" y="404.6" text-anchor="middle" class="sl">110</text>
<path d="M242.8 304.9H270.63V312.04H272.44V320.08H273.66V327.23H274.62V334.37H275.23V342.41H275.83V349.55H276.44V356.69H277.04V364.73H277.89V371.88H279.1V379.02H281.52V387.06H285.15V394.2" fill="none" stroke="#000" stroke-width="1.1"/><rect x="268.33" y="309.74" width="4.6" height="4.6" fill="#fff" stroke="#000" stroke-width="0.8"/><rect x="270.14" y="317.78" width="4.6" height="4.6" fill="#fff" stroke="#000" stroke-width="0.8"/><rect x="271.36" y="324.93" width="4.6" height="4.6" fill="#fff" stroke="#000" stroke-width="0.8"/><rect x="272.32" y="332.07" width="4.6" height="4.6" fill="#fff" stroke="#000" stroke-width="0.8"/><rect x="272.93" y="340.11" width="4.6" height="4.6" fill="#fff" stroke="#000" stroke-width="0.8"/><rect x="273.53" y="347.25" width="4.6" height="4.6" fill="#fff" stroke="#000" stroke-width="0.8"/><rect x="274.14" y="354.39" width="4.6" height="4.6" fill="#fff" stroke="#000" stroke-width="0.8"/><rect x="274.74" y="362.43" width="4.6" height="4.6" fill="#fff" stroke="#000" stroke-width="0.8"/><rect x="275.59" y="369.57" width="4.6" height="4.6" fill="#fff" stroke="#000" stroke-width="0.8"/><rect x="276.8" y="376.72" width="4.6" height="4.6" fill="#fff" stroke="#000" stroke-width="0.8"/><rect x="279.22" y="384.76" width="4.6" height="4.6" fill="#fff" stroke="#000" stroke-width="0.8"/><rect x="282.85" y="391.9" width="4.6" height="4.6" fill="#fff" stroke="#000" stroke-width="0.8"/>
<path d="M242.8 304.9H269.42V311.15H271.84V317.4H273.41V323.65H274.87V330.8H276.07V337.05H277.29V343.3H278.25V349.55H279.1V355.8H280.07V362.05H281.04V368.3H282.12V375.45H283.94V381.7H286.36V387.95H290.6V394.2" fill="none" stroke="#000" stroke-width="1.1"/><rect x="266.72" y="308.45" width="5.4" height="5.4" fill="#000"/><rect x="269.14" y="314.7" width="5.4" height="5.4" fill="#000"/><rect x="270.71" y="320.95" width="5.4" height="5.4" fill="#000"/><rect x="272.17" y="328.1" width="5.4" height="5.4" fill="#000"/><rect x="273.38" y="334.35" width="5.4" height="5.4" fill="#000"/><rect x="274.59" y="340.6" width="5.4" height="5.4" fill="#000"/><rect x="275.55" y="346.85" width="5.4" height="5.4" fill="#000"/><rect x="276.4" y="353.1" width="5.4" height="5.4" fill="#000"/><rect x="277.37" y="359.35" width="5.4" height="5.4" fill="#000"/><rect x="278.34" y="365.6" width="5.4" height="5.4" fill="#000"/><rect x="279.43" y="372.75" width="5.4" height="5.4" fill="#000"/><rect x="281.24" y="379" width="5.4" height="5.4" fill="#000"/><rect x="283.66" y="385.25" width="5.4" height="5.4" fill="#000"/><rect x="287.9" y="391.5" width="5.4" height="5.4" fill="#000"/>
<path d="M242.8 304.9H286.36V308.47H289.38V335.26H293.14V343.75H301.49V348.03H302.69V353.3H304.51V356.43H307.78V359.64H317.82V362.94H326.29V366.96H334.76V370.98H372.03" fill="none" stroke="#e8102a" stroke-width="1.1"/><path d="M286.36 305.57L289.26 308.47L286.36 311.37L283.46 308.47Z" fill="#e8102a"/><path d="M289.38 332.36L292.28 335.26L289.38 338.16L286.49 335.26Z" fill="#e8102a"/><path d="M293.14 340.85L296.04 343.75L293.14 346.65L290.24 343.75Z" fill="#e8102a"/><path d="M301.49 345.13L304.38 348.03L301.49 350.93L298.59 348.03Z" fill="#e8102a"/><path d="M302.69 350.4L305.59 353.3L302.69 356.2L299.8 353.3Z" fill="#e8102a"/><path d="M304.51 353.53L307.41 356.43L304.51 359.33L301.61 356.43Z" fill="#e8102a"/><path d="M307.78 356.74L310.68 359.64L307.78 362.54L304.88 359.64Z" fill="#e8102a"/><path d="M317.82 360.05L320.72 362.94L317.82 365.84L314.92 362.94Z" fill="#e8102a"/><path d="M326.29 364.06L329.19 366.96L326.29 369.86L323.39 366.96Z" fill="#e8102a"/><path d="M334.76 368.08L337.66 370.98L334.76 373.88L331.86 370.98Z" fill="#e8102a"/><path d="M372.03 368.08L374.93 370.98L372.03 373.88L369.13 370.98Z" fill="#e8102a"/>
<path d="M242.8 304.9H282.73V308.47H286.97V316.51H291.2V319.19H295.03V322.91H298.86V326.63H302.69V330.35H306.53V334.07H310.36V337.79H314.19V341.51H319.03V344.19H323.87V345.98H344.44V346.87H372.03" fill="none" stroke="#00e000" stroke-width="1.1"/><path d="M282.73 305.37L285.83 310.95L279.63 310.95Z" fill="#00e000"/><path d="M286.97 313.41L290.07 318.99L283.87 318.99Z" fill="#00e000"/><path d="M291.2 316.09L294.3 321.67L288.1 321.67Z" fill="#00e000"/><path d="M295.03 319.81L298.13 325.39L291.93 325.39Z" fill="#00e000"/><path d="M298.86 323.53L301.96 329.11L295.76 329.11Z" fill="#00e000"/><path d="M302.69 327.25L305.8 332.83L299.59 332.83Z" fill="#00e000"/><path d="M306.53 330.97L309.63 336.55L303.43 336.55Z" fill="#00e000"/><path d="M310.36 334.69L313.46 340.27L307.26 340.27Z" fill="#00e000"/><path d="M314.19 338.41L317.29 343.99L311.09 343.99Z" fill="#00e000"/><path d="M319.03 341.09L322.13 346.67L315.93 346.67Z" fill="#00e000"/><path d="M323.87 342.88L326.97 348.46L320.77 348.46Z" fill="#00e000"/><path d="M344.44 343.77L347.54 349.35L341.34 349.35Z" fill="#00e000"/><path d="M372.03 343.77L375.13 349.35L368.93 349.35Z" fill="#00e000"/>
<path d="M242.8 304.9H288.78V308.47H293.62V313.83H296.9V317.4H300.19V320.97H303.47V324.55H306.76V328.12H310.04V331.69H313.33V335.26H316.61V338.83H320.24V341.51H323.87V343.3H372.03" fill="none" stroke="#e020d8" stroke-width="1.1"/><path d="M288.78 311.57L291.88 305.99L285.68 305.99Z" fill="#e020d8"/><path d="M293.62 316.93L296.72 311.35L290.52 311.35Z" fill="#e020d8"/><path d="M296.9 320.5L300 314.92L293.8 314.92Z" fill="#e020d8"/><path d="M300.19 324.07L303.29 318.49L297.09 318.49Z" fill="#e020d8"/><path d="M303.47 327.65L306.57 322.07L300.37 322.07Z" fill="#e020d8"/><path d="M306.76 331.22L309.86 325.64L303.66 325.64Z" fill="#e020d8"/><path d="M310.04 334.79L313.14 329.21L306.94 329.21Z" fill="#e020d8"/><path d="M313.33 338.36L316.43 332.78L310.23 332.78Z" fill="#e020d8"/><path d="M316.61 341.93L319.71 336.35L313.51 336.35Z" fill="#e020d8"/><path d="M320.24 344.61L323.34 339.03L317.14 339.03Z" fill="#e020d8"/><path d="M323.87 346.4L326.97 340.82L320.77 340.82Z" fill="#e020d8"/><path d="M372.03 346.4L375.13 340.82L368.93 340.82Z" fill="#e020d8"/>
<path d="M242.8 304.9H305.72V308.47H311.77V312.49H350.49V316.51H360.17V324.1H372.03" fill="none" stroke="#b87820" stroke-width="1.1"/><rect x="303.02" y="305.77" width="5.4" height="5.4" fill="#b87820"/><rect x="309.07" y="309.79" width="5.4" height="5.4" fill="#b87820"/><rect x="347.79" y="313.81" width="5.4" height="5.4" fill="#b87820"/><rect x="357.47" y="321.4" width="5.4" height="5.4" fill="#b87820"/><rect x="369.33" y="321.4" width="5.4" height="5.4" fill="#b87820"/>
<path d="M242.8 304.9H263.37V308.47H316.61V312.04H372.03" fill="none" stroke="#1a10f0" stroke-width="1.1"/><circle cx="263.37" cy="308.47" r="3.2" fill="#1a10f0"/><circle cx="316.61" cy="312.04" r="3.2" fill="#1a10f0"/><circle cx="372.03" cy="312.04" r="3.2" fill="#1a10f0"/>
<path d="M242.8 304.9V394.2H375.9" fill="none" stroke="#000" stroke-width="1.1"/>
<path d="M240.4 394.2H242.8M240.4 371.88H242.8M240.4 349.55H242.8M240.4 327.23H242.8M240.4 304.9H242.8M242.8 394.2V396.8M254.9 394.2V396.8M267 394.2V396.8M279.1 394.2V396.8M291.2 394.2V396.8M303.3 394.2V396.8M315.4 394.2V396.8M327.5 394.2V396.8M339.6 394.2V396.8M351.7 394.2V396.8M363.8 394.2V396.8M375.9 394.2V396.8" stroke="#000" stroke-width="1"/>
<text x="239.6" y="396.4" text-anchor="end" class="sl">0</text>
<text x="239.6" y="374.07" text-anchor="end" class="sl">25</text>
<text x="239.6" y="351.75" text-anchor="end" class="sl">50</text>
<text x="239.6" y="329.43" text-anchor="end" class="sl">75</text>
<text x="239.6" y="307.1" text-anchor="end" class="sl">100</text>
<text x="242.8" y="404.6" text-anchor="middle" class="sl">0</text>
<text x="254.9" y="404.6" text-anchor="middle" class="sl">10</text>
<text x="267" y="404.6" text-anchor="middle" class="sl">20</text>
<text x="279.1" y="404.6" text-anchor="middle" class="sl">30</text>
<text x="291.2" y="404.6" text-anchor="middle" class="sl">40</text>
<text x="303.3" y="404.6" text-anchor="middle" class="sl">50</text>
<text x="315.4" y="404.6" text-anchor="middle" class="sl">60</text>
<text x="327.5" y="404.6" text-anchor="middle" class="sl">70</text>
<text x="339.6" y="404.6" text-anchor="middle" class="sl">80</text>
<text x="351.7" y="404.6" text-anchor="middle" class="sl">90</text>
<text x="363.8" y="404.6" text-anchor="middle" class="sl">100</text>
<text x="375.9" y="404.6" text-anchor="middle" class="sl">110</text>
<text x="169.2" y="331.7" text-anchor="middle" style="font-size:8.4px;font-style:italic;fill:#222">#</text>
<path d="M169.1 360.8L169.1 358.4M169.1 360.8L171.38 360.06M169.1 360.8L170.51 362.74M169.1 360.8L167.69 362.74M169.1 360.8L166.82 360.06" stroke="#111" stroke-width="1.2" stroke-linecap="round"/>
<text x="380.2" y="314.8" text-anchor="middle" style="font-size:8.4px;font-style:italic;fill:#222">#</text>
<text x="380.2" y="326" text-anchor="middle" style="font-size:8.4px;font-style:italic;fill:#222">#</text>
<path d="M380.5 342.2L380.5 339.8M380.5 342.2L382.78 341.46M380.5 342.2L381.91 344.14M380.5 342.2L379.09 344.14M380.5 342.2L378.22 341.46" stroke="#111" stroke-width="1.2" stroke-linecap="round"/>
<path d="M380.5 348.5L380.5 346.1M380.5 348.5L382.78 347.76M380.5 348.5L381.91 350.44M380.5 348.5L379.09 350.44M380.5 348.5L378.22 347.76" stroke="#111" stroke-width="1.2" stroke-linecap="round"/>
<text transform="translate(13.9,347) rotate(-90)" text-anchor="middle" style="font-size:8.4px;font-weight:bold;fill:#111">Percent overall survival</text>
<text transform="translate(216.4,349.5) rotate(-90)" text-anchor="middle" style="font-size:8.4px;font-weight:bold;fill:#111">Percent tumor-free</text>
<text transform="translate(227.9,349.5) rotate(-90)" text-anchor="middle" style="font-size:8.4px;font-weight:bold;fill:#111">survival</text>
<path d="M418.8 323.8H429.3" stroke="#000" stroke-width="1.2"/>
<rect x="421.5" y="321.3" width="5" height="5" fill="#000"/>
<text x="433" y="326.3" class="lg">no T cells</text>
<path d="M418.8 332.72H429.3" stroke="#e8102a" stroke-width="1.2"/>
<path d="M424 330.02L426.7 332.72L424 335.42L421.3 332.72Z" fill="#e8102a"/>
<text x="433" y="335.22" class="lg">19z1-ΔLNGFR</text>
<path d="M418.8 341.64H429.3" stroke="#00e000" stroke-width="1.2"/>
<path d="M424 338.74L426.9 343.96L421.1 343.96Z" fill="#00e000"/>
<text x="433" y="344.14" class="lg">19z1-IL2</text>
<path d="M418.8 350.56H429.3" stroke="#1a10f0" stroke-width="1.2"/>
<circle cx="424" cy="350.56" r="3" fill="#1a10f0"/>
<text x="433" y="353.06" class="lg">19z1-IL7</text>
<path d="M418.8 359.48H429.3" stroke="#e020d8" stroke-width="1.2"/>
<path d="M424 362.38L426.9 357.16L421.1 357.16Z" fill="#e020d8"/>
<text x="433" y="361.98" class="lg">19z1-IL15</text>
<path d="M418.8 368.4H429.3" stroke="#b87820" stroke-width="1.2"/>
<rect x="421.5" y="365.9" width="5" height="5" fill="#b87820"/>
<text x="433" y="370.9" class="lg">19z1-IL21</text>
<path d="M418.8 377.32H429.3" stroke="#000" stroke-width="1.2"/>
<rect x="421.9" y="375.22" width="4.2" height="4.2" fill="#fff" stroke="#000" stroke-width="0.8"/>
<text x="433" y="379.82" class="lg">Pz1-ΔLNGFR/cytokine</text>
<text x="168" y="426.2" style="font-size:11.35px;fill:#1a1a1a">Days after tumor challenge</text>
</svg></body></html>
